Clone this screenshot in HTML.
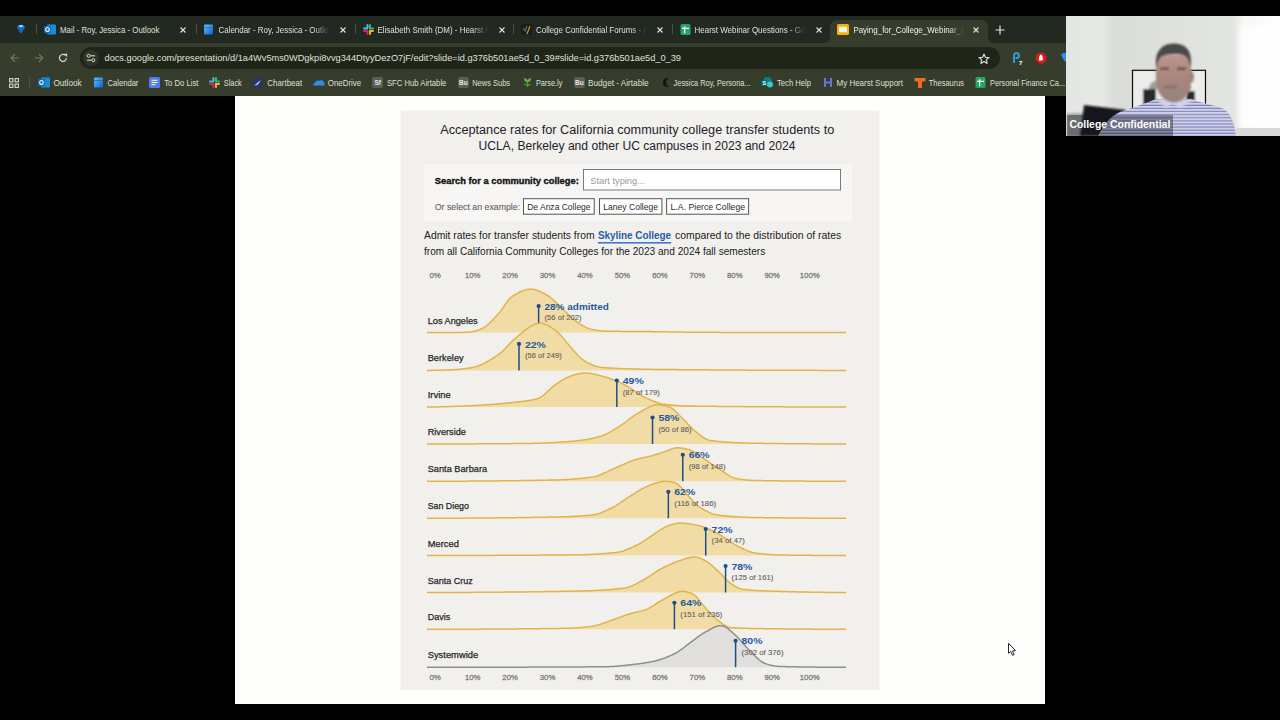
<!DOCTYPE html>
<html><head><meta charset="utf-8">
<style>
*{margin:0;padding:0;box-sizing:border-box}
html,body{width:1280px;height:720px;overflow:hidden;background:#000;font-family:"Liberation Sans",sans-serif;position:relative}
.abs{position:absolute}
.tabt{font-size:7.9px;line-height:12px;color:#d9dcd3;white-space:nowrap;overflow:hidden;-webkit-mask-image:linear-gradient(90deg,#000 88%,transparent)}
.bmt{font-size:8px;line-height:12px;color:#d9dcd3;white-space:nowrap}
svg text{font-family:"Liberation Sans",sans-serif}
</style></head><body>
<div class="abs" style="left:0;top:16px;width:1280px;height:27px;background:#222920"></div>
<div class="abs" style="left:830px;top:19.5px;width:158px;height:25px;background:#363d2c;border-radius:7px 7px 0 0"></div>
<div class="abs" style="left:824px;top:37px;width:6px;height:6px;background:#363d2c"></div>
<div class="abs" style="left:818px;top:31px;width:12px;height:12px;border-radius:6px;background:#222920"></div>
<div class="abs" style="left:988px;top:37px;width:6px;height:6px;background:#363d2c"></div>
<div class="abs" style="left:988px;top:31px;width:12px;height:12px;border-radius:6px;background:#222920"></div>
<div class="abs" style="left:0;top:43px;width:1280px;height:53px;background:#363d2c"></div>
<div class="abs" style="left:80px;top:46.8px;width:920px;height:22px;border-radius:11px;background:#1f2619"></div>
<svg class="abs" style="left:0;top:0" width="1280" height="100" viewBox="0 0 1280 100"><defs>
<linearGradient id="fade" x1="0" y1="0" x2="1" y2="0"><stop offset="0.86" stop-color="#fff"/><stop offset="1" stop-color="#fff" stop-opacity="0"/></linearGradient>
<mask id="m1" maskUnits="userSpaceOnUse" x="218.5" y="16" width="111" height="27"><rect x="218.5" y="16" width="111" height="27" fill="url(#fade)"/></mask>
<mask id="m2" maskUnits="userSpaceOnUse" x="377.5" y="16" width="111" height="27"><rect x="377.5" y="16" width="111" height="27" fill="url(#fade)"/></mask>
<mask id="m3" maskUnits="userSpaceOnUse" x="536" y="16" width="111" height="27"><rect x="536" y="16" width="111" height="27" fill="url(#fade)"/></mask>
<mask id="m4" maskUnits="userSpaceOnUse" x="694.6" y="16" width="111" height="27"><rect x="694.6" y="16" width="111" height="27" fill="url(#fade)"/></mask>
<mask id="m5" maskUnits="userSpaceOnUse" x="853.4" y="16" width="111" height="27"><rect x="853.4" y="16" width="111" height="27" fill="url(#fade)"/></mask>
</defs>
<text x="60" y="32.9" font-size="8.7" fill="#dde0d6" textLength="99.4" lengthAdjust="spacingAndGlyphs">Mail - Roy, Jessica - Outlook</text>
<g mask="url(#m1)"><text x="0" y="0" transform="translate(218.5,32.9) scale(0.915,1)" font-size="8.7" fill="#dde0d6">Calendar - Roy, Jessica - Outlook</text></g>
<g mask="url(#m2)"><text x="0" y="0" transform="translate(377.5,32.9) scale(0.915,1)" font-size="8.7" fill="#dde0d6">Elisabeth Smith (DM) - Hearst Newsroom</text></g>
<g mask="url(#m3)"><text x="0" y="0" transform="translate(536,32.9) scale(0.915,1)" font-size="8.7" fill="#dde0d6">College Confidential Forums - A</text></g>
<g mask="url(#m4)"><text x="0" y="0" transform="translate(694.6,32.9) scale(0.915,1)" font-size="8.7" fill="#dde0d6">Hearst Webinar Questions - Google</text></g>
<g mask="url(#m5)"><text x="0" y="0" transform="translate(853.4,32.9) scale(0.915,1)" font-size="8.7" fill="#eef0e8">Paying_for_College_Webinar_Slides</text></g>
<text x="104.5" y="61.3" font-size="9.1" fill="#dfe2d9" textLength="576.5" lengthAdjust="spacingAndGlyphs">docs.google.com/presentation/d/1a4Wv5ms0WDgkpi8vvg344DtyyDezO7jF/edit?slide=id.g376b501ae5d_0_39#slide=id.g376b501ae5d_0_39</text>
<text x="53.4" y="85.8" font-size="8.8" fill="#dde0d6" textLength="28.300000000000004" lengthAdjust="spacingAndGlyphs">Outlook</text>
<text x="107.5" y="85.8" font-size="8.8" fill="#dde0d6" textLength="30.900000000000006" lengthAdjust="spacingAndGlyphs">Calendar</text>
<text x="164.2" y="85.8" font-size="8.8" fill="#dde0d6" textLength="34.30000000000001" lengthAdjust="spacingAndGlyphs">To Do List</text>
<text x="223.8" y="85.8" font-size="8.8" fill="#dde0d6" textLength="18.0" lengthAdjust="spacingAndGlyphs">Slack</text>
<text x="267.3" y="85.8" font-size="8.8" fill="#dde0d6" textLength="34.80000000000001" lengthAdjust="spacingAndGlyphs">Chartbeat</text>
<text x="327.8" y="85.8" font-size="8.8" fill="#dde0d6" textLength="33.30000000000001" lengthAdjust="spacingAndGlyphs">OneDrive</text>
<text x="386.9" y="85.8" font-size="8.8" fill="#dde0d6" textLength="59.5" lengthAdjust="spacingAndGlyphs">SFC Hub Airtable</text>
<text x="472.2" y="85.8" font-size="8.8" fill="#dde0d6" textLength="37.900000000000034" lengthAdjust="spacingAndGlyphs">News Subs</text>
<text x="535.9" y="85.8" font-size="8.8" fill="#dde0d6" textLength="26.5" lengthAdjust="spacingAndGlyphs">Parse.ly</text>
<text x="588" y="85.8" font-size="8.8" fill="#dde0d6" textLength="60.60000000000002" lengthAdjust="spacingAndGlyphs">Budget - Airtable</text>
<text x="673.6" y="85.8" font-size="8.8" fill="#dde0d6" textLength="76.89999999999998" lengthAdjust="spacingAndGlyphs">Jessica Roy, Persona...</text>
<text x="777" y="85.8" font-size="8.8" fill="#dde0d6" textLength="34" lengthAdjust="spacingAndGlyphs">Tech Help</text>
<text x="836.6" y="85.8" font-size="8.8" fill="#dde0d6" textLength="66.39999999999998" lengthAdjust="spacingAndGlyphs">My Hearst Support</text>
<text x="928.8" y="85.8" font-size="8.8" fill="#dde0d6" textLength="35.30000000000007" lengthAdjust="spacingAndGlyphs">Thesaurus</text>
<text x="990" y="85.8" font-size="8.8" fill="#dde0d6" textLength="75" lengthAdjust="spacingAndGlyphs">Personal Finance Ca...</text>
</svg>
<svg class="abs" style="left:16px;top:24px" width="10" height="10" viewBox="0 0 10 10"><path d="M1 3.2 L3 1 L7 1 L9 3.2 L5 9.5 Z" fill="#2f8ff0"/><path d="M1 3.2 L9 3.2 L5 9.5Z" fill="#1565c0"/><path d="M3 1 L7 1 L6 3.2 L4 3.2Z" fill="#9fd4ff"/></svg>
<div class="abs" style="left:36px;top:24px;width:1px;height:10px;background:#4a4f42"></div>
<svg class="abs" style="left:43.5px;top:23.5px" width="12" height="11" viewBox="0 0 12 11"><rect x="3" y="0.5" width="9" height="10" rx="1" fill="#1b8bd6"/><rect x="0" y="2" width="7" height="7" rx="1" fill="#0f6cbd"/><ellipse cx="3.5" cy="5.5" rx="1.8" ry="2" fill="none" stroke="#fff" stroke-width="1.1"/></svg>
<svg class="abs" style="left:178.5px;top:25.8px" width="8" height="8" viewBox="0 0 8 8"><path d="M1.5 1.5L6.5 6.5M6.5 1.5L1.5 6.5" stroke="#e2e4dc" stroke-width="1.1"/></svg>
<div class="abs" style="left:196px;top:24px;width:1px;height:10px;background:#4a4f42"></div>
<svg class="abs" style="left:203.5px;top:23.5px" width="9" height="11" viewBox="0 0 9 11"><defs><linearGradient id="calg" x1="0" y1="0" x2="1" y2="1"><stop offset="0" stop-color="#5fc3ff"/><stop offset="1" stop-color="#0a5fcf"/></linearGradient></defs><rect x="0" y="0.5" width="9" height="10" rx="1.2" fill="url(#calg)"/><rect x="0" y="3" width="9" height="0.8" fill="#0b4a9a" opacity="0.6"/></svg>
<svg class="abs" style="left:338.5px;top:25.8px" width="8" height="8" viewBox="0 0 8 8"><path d="M1.5 1.5L6.5 6.5M6.5 1.5L1.5 6.5" stroke="#e2e4dc" stroke-width="1.1"/></svg>
<div class="abs" style="left:355px;top:24px;width:1px;height:10px;background:#4a4f42"></div>
<svg class="abs" style="left:362.5px;top:23.5px" width="11" height="11" viewBox="0 0 11 11"><rect x="3.5" y="0" width="2" height="5" rx="1" fill="#36c5f0"/><rect x="0" y="3.5" width="5" height="2" rx="1" fill="#36c5f0"/><rect x="6" y="0" width="2" height="5" rx="1" fill="#2eb67d"/><rect x="6" y="3.5" width="5" height="2" rx="1" fill="#2eb67d"/><rect x="6" y="6" width="2" height="5" rx="1" fill="#ecb22e"/><rect x="6" y="6" width="5" height="2" rx="1" fill="#ecb22e"/><rect x="3.5" y="6" width="2" height="5" rx="1" fill="#e01e5a"/><rect x="0" y="6" width="5" height="2" rx="1" fill="#e01e5a"/></svg>
<svg class="abs" style="left:497.5px;top:25.8px" width="8" height="8" viewBox="0 0 8 8"><path d="M1.5 1.5L6.5 6.5M6.5 1.5L1.5 6.5" stroke="#e2e4dc" stroke-width="1.1"/></svg>
<div class="abs" style="left:513px;top:24px;width:1px;height:10px;background:#4a4f42"></div>
<svg class="abs" style="left:520.5px;top:23.5px" width="11" height="11" viewBox="0 0 11 11"><rect x="0" y="0" width="11" height="11" fill="#1a1c18"/><path d="M2 4 L4 7 L6 2" stroke="#6b6b60" stroke-width="1.2" fill="none"/><path d="M9 2 L6 10" stroke="#c9a227" stroke-width="1.2"/></svg>
<svg class="abs" style="left:655.5px;top:25.8px" width="8" height="8" viewBox="0 0 8 8"><path d="M1.5 1.5L6.5 6.5M6.5 1.5L1.5 6.5" stroke="#e2e4dc" stroke-width="1.1"/></svg>
<div class="abs" style="left:672px;top:24px;width:1px;height:10px;background:#4a4f42"></div>
<svg class="abs" style="left:679.5px;top:23.5px" width="11" height="11" viewBox="0 0 11 11"><rect x="0.5" y="0" width="10" height="11" rx="1.5" fill="#23a566"/><path d="M2 4.3H9M4.6 2.2V9.2" stroke="#fff" stroke-width="1.3"/></svg>
<svg class="abs" style="left:814.5px;top:25.8px" width="8" height="8" viewBox="0 0 8 8"><path d="M1.5 1.5L6.5 6.5M6.5 1.5L1.5 6.5" stroke="#e2e4dc" stroke-width="1.1"/></svg>
<svg class="abs" style="left:836.5px;top:23.5px" width="12" height="11" viewBox="0 0 12 11"><rect x="0" y="0" width="12" height="11" rx="1.5" fill="#f6b400"/><rect x="2" y="2.8" width="8" height="5.4" rx="0.5" fill="#e8f4fb"/></svg>
<svg class="abs" style="left:972px;top:25.8px" width="8" height="8" viewBox="0 0 8 8"><path d="M1.5 1.5L6.5 6.5M6.5 1.5L1.5 6.5" stroke="#e2e4dc" stroke-width="1.1"/></svg>
<svg class="abs" style="left:995px;top:25px" width="10" height="10" viewBox="0 0 10 10"><path d="M5 0.5V9.5M0.5 5H9.5" stroke="#e2e4dc" stroke-width="1.2"/></svg>
<svg class="abs" style="left:10px;top:53px" width="10" height="10" viewBox="0 0 10 10"><path d="M9 5H1.5M5 1.2L1.2 5L5 8.8" stroke="#767b6c" stroke-width="1.1" fill="none"/></svg>
<svg class="abs" style="left:34px;top:53px" width="10" height="10" viewBox="0 0 10 10"><path d="M1 5H8.5M5 1.2L8.8 5L5 8.8" stroke="#767b6c" stroke-width="1.1" fill="none"/></svg>
<svg class="abs" style="left:58px;top:53px" width="10" height="10" viewBox="0 0 10 10"><path d="M8.4 5A3.5 3.5 0 1 1 7.2 2.3" stroke="#d6d9d0" stroke-width="1.2" fill="none"/><path d="M5.8 0.8L9.2 0.8V4.2Z" fill="#d6d9d0"/></svg>
<div class="abs" style="left:83px;top:49.8px;width:16px;height:16px;border-radius:8px;background:#30352a"></div>
<svg class="abs" style="left:86px;top:53px" width="10" height="10" viewBox="0 0 10 10"><circle cx="2.6" cy="2.8" r="1.5" stroke="#d6d9d0" stroke-width="1" fill="none"/><path d="M4.3 2.8H9" stroke="#d6d9d0" stroke-width="1.1"/><circle cx="7.3" cy="7.2" r="1.5" stroke="#d6d9d0" stroke-width="1" fill="none"/><path d="M1 7.2H5.6" stroke="#d6d9d0" stroke-width="1.1"/></svg>
<svg class="abs" style="left:978px;top:52.5px" width="12" height="12" viewBox="0 0 12 12"><path d="M6 1L7.4 4.3L11 4.6L8.3 6.9L9.1 10.5L6 8.6L2.9 10.5L3.7 6.9L1 4.6L4.6 4.3Z" stroke="#d6d9d0" stroke-width="1.2" fill="none" stroke-linejoin="round"/></svg>
<svg class="abs" style="left:1012px;top:52px" width="12" height="13" viewBox="0 0 12 13"><path d="M2 11V3.5A2.5 2.5 0 0 1 7 3.5A2.5 2.5 0 0 1 4.5 6H3.5" stroke="#2d9cdb" stroke-width="2" fill="none"/><text x="7" y="12.5" font-size="6" font-weight="bold" fill="#fff" font-family="Liberation Sans">7</text></svg>
<svg class="abs" style="left:1035px;top:52px" width="12" height="12" viewBox="0 0 12 12"><circle cx="6" cy="6" r="5.5" fill="#d81b1b"/><path d="M4 8.5C3.5 6 4.5 3 6 2.5C7.5 3.5 8.5 6 7.5 8.5Z" fill="#fff"/></svg>
<svg class="abs" style="left:1060px;top:52px" width="10" height="12" viewBox="0 0 10 12"><path d="M1 3L3 1H7L9 3L5 10Z" fill="#2f8ff0"/></svg>
<svg class="abs" style="left:8.5px;top:77.5px" width="10" height="10" viewBox="0 0 10 10"><rect x="0.6" y="0.6" width="3.3" height="3.3" stroke="#d6d9d0" stroke-width="1.1" fill="none"/><rect x="6.1" y="0.6" width="3.3" height="3.3" stroke="#d6d9d0" stroke-width="1.1" fill="none"/><rect x="0.6" y="6.1" width="3.3" height="3.3" stroke="#d6d9d0" stroke-width="1.1" fill="none"/><rect x="6.1" y="6.1" width="3.3" height="3.3" stroke="#d6d9d0" stroke-width="1.1" fill="none"/></svg>
<div class="abs" style="left:28.5px;top:77px;width:1px;height:11px;background:#4d5245"></div>
<svg class="abs" style="left:38.3px;top:77px" width="12" height="11" viewBox="0 0 12 11"><rect x="3" y="0.5" width="9" height="10" rx="1" fill="#1b8bd6"/><rect x="0" y="2" width="7" height="7" rx="1" fill="#0f6cbd"/><ellipse cx="3.5" cy="5.5" rx="1.8" ry="2" fill="none" stroke="#fff" stroke-width="1.1"/></svg>
<svg class="abs" style="left:93.5px;top:77px" width="9" height="11" viewBox="0 0 9 11"><defs><linearGradient id="calg" x1="0" y1="0" x2="1" y2="1"><stop offset="0" stop-color="#5fc3ff"/><stop offset="1" stop-color="#0a5fcf"/></linearGradient></defs><rect x="0" y="0.5" width="9" height="10" rx="1.2" fill="url(#calg)"/><rect x="0" y="3" width="9" height="0.8" fill="#0b4a9a" opacity="0.6"/></svg>
<svg class="abs" style="left:148.75px;top:77px" width="11" height="11" viewBox="0 0 11 11"><rect x="0" y="0" width="11" height="11" rx="1.5" fill="#4f7df0"/><rect x="2.5" y="2.8" width="6" height="1" fill="#fff"/><rect x="2.5" y="5" width="6" height="1" fill="#fff"/><rect x="2.5" y="7.2" width="4" height="1" fill="#fff"/></svg>
<svg class="abs" style="left:208.9px;top:77px" width="11" height="11" viewBox="0 0 11 11"><rect x="3.5" y="0" width="2" height="5" rx="1" fill="#36c5f0"/><rect x="0" y="3.5" width="5" height="2" rx="1" fill="#36c5f0"/><rect x="6" y="0" width="2" height="5" rx="1" fill="#2eb67d"/><rect x="6" y="3.5" width="5" height="2" rx="1" fill="#2eb67d"/><rect x="6" y="6" width="2" height="5" rx="1" fill="#ecb22e"/><rect x="6" y="6" width="5" height="2" rx="1" fill="#ecb22e"/><rect x="3.5" y="6" width="2" height="5" rx="1" fill="#e01e5a"/><rect x="0" y="6" width="5" height="2" rx="1" fill="#e01e5a"/></svg>
<svg class="abs" style="left:252px;top:77px" width="11" height="11" viewBox="0 0 11 11"><circle cx="5.5" cy="5.5" r="5.3" fill="#243566"/><path d="M2.2 8.2L9 3L6.5 6.8Z" fill="#c9dcff"/><path d="M2.2 8.2L6.5 6.8L5 8.8Z" fill="#7fa4e8"/></svg>
<svg class="abs" style="left:312.9px;top:77px" width="12" height="11" viewBox="0 0 12 11"><path d="M1 8.5C0 8.5 0 6 2 6C2.5 4 4.5 3 6.5 4C8 2.5 11 3.5 11 6C12 6.5 12 8.5 10.5 8.5Z" fill="#2e8fe8"/></svg>
<div class="abs" style="left:372.2px;top:77px;width:11px;height:11px;border-radius:2px;background:#5a5e57;color:#e8eae4;font-size:6.5px;font-weight:bold;line-height:11px;text-align:center">Sf</div>
<div class="abs" style="left:457.8px;top:77px;width:11px;height:11px;border-radius:2px;background:#5a5e57;color:#e8eae4;font-size:6.5px;font-weight:bold;line-height:11px;text-align:center">Bu</div>
<svg class="abs" style="left:521.7px;top:77px" width="11" height="11" viewBox="0 0 11 11"><path d="M5.5 10V5M5.5 5C3 5 2 3 2.5 1.5C4.5 1.5 5.5 3 5.5 5ZM5.5 5C8 5 9 3 8.5 1.5C6.5 1.5 5.5 3 5.5 5Z" fill="#5fae4a" stroke="#5fae4a" stroke-width="0.8"/><path d="M5.5 9C3.5 9 2 8 2 6.5C4 6.5 5.5 7.5 5.5 9ZM5.5 9C7.5 9 9 8 9 6.5C7 6.5 5.5 7.5 5.5 9Z" fill="#4b9a3a"/></svg>
<div class="abs" style="left:573.8px;top:77px;width:11px;height:11px;border-radius:2px;background:#5a5e57;color:#e8eae4;font-size:6.5px;font-weight:bold;line-height:11px;text-align:center">Bu</div>
<svg class="abs" style="left:661.5px;top:77px" width="9" height="11" viewBox="0 0 9 11"><path d="M7.5 1.5A4.5 4.5 0 1 0 7.5 9.5A3.5 4 0 1 1 7.5 1.5Z" fill="#111"/></svg>
<svg class="abs" style="left:761.3px;top:77px" width="12" height="11" viewBox="0 0 12 11"><circle cx="6.5" cy="4.5" r="4.5" fill="#038387"/><circle cx="9" cy="7.5" r="3" fill="#37c6d0"/><rect x="0" y="3" width="6" height="6" rx="1" fill="#036c70"/><text x="1.5" y="8" font-size="5.5" font-weight="bold" fill="#fff" font-family="Liberation Sans">S</text></svg>
<svg class="abs" style="left:824px;top:77px" width="8" height="11" viewBox="0 0 8 11"><path d="M1 1V10M7 1V10M1 5.5H7" stroke="#5b7ad6" stroke-width="2"/></svg>
<svg class="abs" style="left:913.75px;top:77px" width="12" height="11" viewBox="0 0 12 11"><path d="M0.5 1H11.5V4.5H8V11H4V4.5H0.5Z" fill="#f26a1b"/></svg>
<svg class="abs" style="left:975.3px;top:77px" width="11" height="11" viewBox="0 0 11 11"><rect x="0.5" y="0" width="10" height="11" rx="1.5" fill="#23a566"/><path d="M2 4.3H9M4.6 2.2V9.2" stroke="#fff" stroke-width="1.3"/></svg>
<svg class="abs" style="left:0;top:0" width="1280" height="720" viewBox="0 0 1280 720">
<rect x="235" y="96" width="810" height="608" rx="0" fill="#fefefd" />
<rect x="400.5" y="110.5" width="479" height="579.5" rx="0" fill="#f2f0ed" />
<rect x="424" y="164" width="428" height="57.5" rx="0" fill="#f7f6f4" />
<text x="440.3" y="133.6" font-size="12.3" font-weight="400" fill="#22222c" textLength="394" lengthAdjust="spacingAndGlyphs" >Acceptance rates for California community college transfer students to</text>
<text x="478.4" y="150.2" font-size="12.3" font-weight="400" fill="#22222c" textLength="317" lengthAdjust="spacingAndGlyphs" >UCLA, Berkeley and other UC campuses in 2023 and 2024</text>
<text x="434.8" y="183.6" font-size="9.3" font-weight="700" fill="#111" textLength="144" lengthAdjust="spacingAndGlyphs"  stroke="#111" stroke-width="0.35">Search for a community college:</text>
<rect x="583.5" y="169.5" width="257" height="20.5" rx="0" fill="#ffffff" stroke="#7a7a7a" stroke-width="1"/>
<text x="590.3" y="184" font-size="9.2" font-weight="400" fill="#9a9a9a" textLength="54.6" lengthAdjust="spacingAndGlyphs" >Start typing...</text>
<text x="434.8" y="210" font-size="8.8" font-weight="400" fill="#5f5f5f" textLength="85.3" lengthAdjust="spacingAndGlyphs"  stroke="#5f5f5f" stroke-width="0.1">Or select an example:</text>
<rect x="523.5" y="198.7" width="70.70000000000005" height="15.5" rx="0" fill="#ffffff" stroke="#555" stroke-width="1"/>
<text x="527.2" y="209.7" font-size="8.8" font-weight="400" fill="#2a2a2a" textLength="63.39999999999998" lengthAdjust="spacingAndGlyphs" >De Anza College</text>
<rect x="599.5" y="198.7" width="62.39999999999998" height="15.5" rx="0" fill="#ffffff" stroke="#555" stroke-width="1"/>
<text x="603.3" y="209.7" font-size="8.8" font-weight="400" fill="#2a2a2a" textLength="54.700000000000045" lengthAdjust="spacingAndGlyphs" >Laney College</text>
<rect x="666.6" y="198.7" width="82.0" height="15.5" rx="0" fill="#ffffff" stroke="#555" stroke-width="1"/>
<text x="670.6" y="209.7" font-size="8.8" font-weight="400" fill="#2a2a2a" textLength="74.5" lengthAdjust="spacingAndGlyphs" >L.A. Pierce College</text>
<text x="424" y="238.9" font-size="10.2" font-weight="400" fill="#222" textLength="170.5" lengthAdjust="spacingAndGlyphs" >Admit rates for transfer students from</text>
<text x="597.9" y="238.9" font-size="10" font-weight="700" fill="#1f5fa8" textLength="73.2" lengthAdjust="spacingAndGlyphs" >Skyline College</text>
<rect x="597.9" y="242" width="73.2" height="1.6" rx="0" fill="#3b7bd0" />
<text x="675" y="238.9" font-size="10.2" font-weight="400" fill="#222" textLength="166.2" lengthAdjust="spacingAndGlyphs" >compared to the distribution of rates</text>
<text x="424" y="255.3" font-size="10.2" font-weight="400" fill="#222" textLength="341.2" lengthAdjust="spacingAndGlyphs" >from all California Community Colleges for the 2023 and 2024 fall semesters</text>
<text x="435.2" y="278.2" font-size="7.6" font-weight="400" fill="#7e7e7e" textLength="11.5" lengthAdjust="spacingAndGlyphs" text-anchor="middle"  stroke="#7e7e7e" stroke-width="0.3">0%</text>
<text x="435.2" y="679.5" font-size="7.6" font-weight="400" fill="#7e7e7e" textLength="11.5" lengthAdjust="spacingAndGlyphs" text-anchor="middle"  stroke="#7e7e7e" stroke-width="0.3">0%</text>
<text x="472.65" y="278.2" font-size="7.6" font-weight="400" fill="#7e7e7e" textLength="15.5" lengthAdjust="spacingAndGlyphs" text-anchor="middle"  stroke="#7e7e7e" stroke-width="0.3">10%</text>
<text x="472.65" y="679.5" font-size="7.6" font-weight="400" fill="#7e7e7e" textLength="15.5" lengthAdjust="spacingAndGlyphs" text-anchor="middle"  stroke="#7e7e7e" stroke-width="0.3">10%</text>
<text x="510.1" y="278.2" font-size="7.6" font-weight="400" fill="#7e7e7e" textLength="15.5" lengthAdjust="spacingAndGlyphs" text-anchor="middle"  stroke="#7e7e7e" stroke-width="0.3">20%</text>
<text x="510.1" y="679.5" font-size="7.6" font-weight="400" fill="#7e7e7e" textLength="15.5" lengthAdjust="spacingAndGlyphs" text-anchor="middle"  stroke="#7e7e7e" stroke-width="0.3">20%</text>
<text x="547.55" y="278.2" font-size="7.6" font-weight="400" fill="#7e7e7e" textLength="15.5" lengthAdjust="spacingAndGlyphs" text-anchor="middle"  stroke="#7e7e7e" stroke-width="0.3">30%</text>
<text x="547.55" y="679.5" font-size="7.6" font-weight="400" fill="#7e7e7e" textLength="15.5" lengthAdjust="spacingAndGlyphs" text-anchor="middle"  stroke="#7e7e7e" stroke-width="0.3">30%</text>
<text x="585.0" y="278.2" font-size="7.6" font-weight="400" fill="#7e7e7e" textLength="15.5" lengthAdjust="spacingAndGlyphs" text-anchor="middle"  stroke="#7e7e7e" stroke-width="0.3">40%</text>
<text x="585.0" y="679.5" font-size="7.6" font-weight="400" fill="#7e7e7e" textLength="15.5" lengthAdjust="spacingAndGlyphs" text-anchor="middle"  stroke="#7e7e7e" stroke-width="0.3">40%</text>
<text x="622.45" y="278.2" font-size="7.6" font-weight="400" fill="#7e7e7e" textLength="15.5" lengthAdjust="spacingAndGlyphs" text-anchor="middle"  stroke="#7e7e7e" stroke-width="0.3">50%</text>
<text x="622.45" y="679.5" font-size="7.6" font-weight="400" fill="#7e7e7e" textLength="15.5" lengthAdjust="spacingAndGlyphs" text-anchor="middle"  stroke="#7e7e7e" stroke-width="0.3">50%</text>
<text x="659.9" y="278.2" font-size="7.6" font-weight="400" fill="#7e7e7e" textLength="15.5" lengthAdjust="spacingAndGlyphs" text-anchor="middle"  stroke="#7e7e7e" stroke-width="0.3">60%</text>
<text x="659.9" y="679.5" font-size="7.6" font-weight="400" fill="#7e7e7e" textLength="15.5" lengthAdjust="spacingAndGlyphs" text-anchor="middle"  stroke="#7e7e7e" stroke-width="0.3">60%</text>
<text x="697.35" y="278.2" font-size="7.6" font-weight="400" fill="#7e7e7e" textLength="15.5" lengthAdjust="spacingAndGlyphs" text-anchor="middle"  stroke="#7e7e7e" stroke-width="0.3">70%</text>
<text x="697.35" y="679.5" font-size="7.6" font-weight="400" fill="#7e7e7e" textLength="15.5" lengthAdjust="spacingAndGlyphs" text-anchor="middle"  stroke="#7e7e7e" stroke-width="0.3">70%</text>
<text x="734.8" y="278.2" font-size="7.6" font-weight="400" fill="#7e7e7e" textLength="15.5" lengthAdjust="spacingAndGlyphs" text-anchor="middle"  stroke="#7e7e7e" stroke-width="0.3">80%</text>
<text x="734.8" y="679.5" font-size="7.6" font-weight="400" fill="#7e7e7e" textLength="15.5" lengthAdjust="spacingAndGlyphs" text-anchor="middle"  stroke="#7e7e7e" stroke-width="0.3">80%</text>
<text x="772.25" y="278.2" font-size="7.6" font-weight="400" fill="#7e7e7e" textLength="15.5" lengthAdjust="spacingAndGlyphs" text-anchor="middle"  stroke="#7e7e7e" stroke-width="0.3">90%</text>
<text x="772.25" y="679.5" font-size="7.6" font-weight="400" fill="#7e7e7e" textLength="15.5" lengthAdjust="spacingAndGlyphs" text-anchor="middle"  stroke="#7e7e7e" stroke-width="0.3">90%</text>
<text x="809.7" y="278.2" font-size="7.6" font-weight="400" fill="#7e7e7e" textLength="20" lengthAdjust="spacingAndGlyphs" text-anchor="middle"  stroke="#7e7e7e" stroke-width="0.3">100%</text>
<text x="809.7" y="679.5" font-size="7.6" font-weight="400" fill="#7e7e7e" textLength="20" lengthAdjust="spacingAndGlyphs" text-anchor="middle"  stroke="#7e7e7e" stroke-width="0.3">100%</text>
<path d="M427.0,332.60 L428.0,332.60 L429.0,332.60 L430.0,332.60 L431.0,332.60 L432.0,332.60 L433.0,332.59 L434.0,332.59 L435.0,332.59 L436.0,332.59 L437.0,332.59 L438.0,332.58 L439.0,332.58 L440.0,332.58 L441.0,332.57 L442.0,332.57 L443.0,332.56 L444.0,332.56 L445.0,332.55 L446.0,332.55 L447.0,332.54 L448.0,332.53 L449.0,332.53 L450.0,332.52 L451.0,332.51 L452.0,332.50 L453.0,332.49 L454.0,332.48 L455.0,332.47 L456.0,332.46 L457.0,332.45 L458.0,332.44 L459.0,332.43 L460.0,332.42 L461.0,332.40 L462.0,332.39 L463.0,332.38 L464.0,332.36 L465.0,332.35 L466.0,332.33 L467.0,332.30 L468.0,332.26 L469.0,332.20 L470.0,332.10 L471.0,331.96 L472.0,331.79 L473.0,331.58 L474.0,331.34 L475.0,331.06 L476.0,330.76 L477.0,330.44 L478.0,330.09 L479.0,329.73 L480.0,329.35 L481.0,328.94 L482.0,328.48 L483.0,327.97 L484.0,327.40 L485.0,326.76 L486.0,326.05 L487.0,325.28 L488.0,324.45 L489.0,323.57 L490.0,322.65 L491.0,321.68 L492.0,320.67 L493.0,319.64 L494.0,318.58 L495.0,317.50 L496.0,316.41 L497.0,315.31 L498.0,314.19 L499.0,313.06 L500.0,311.87 L501.0,310.62 L502.0,309.29 L503.0,307.87 L504.0,306.39 L505.0,304.88 L506.0,303.38 L507.0,301.94 L508.0,300.59 L509.0,299.38 L510.0,298.32 L511.0,297.41 L512.0,296.63 L513.0,295.94 L514.0,295.30 L515.0,294.69 L516.0,294.11 L517.0,293.55 L518.0,293.01 L519.0,292.50 L520.0,292.01 L521.0,291.56 L522.0,291.14 L523.0,290.75 L524.0,290.40 L525.0,290.09 L526.0,289.82 L527.0,289.60 L528.0,289.42 L529.0,289.29 L530.0,289.22 L531.0,289.20 L532.0,289.24 L533.0,289.34 L534.0,289.50 L535.0,289.72 L536.0,289.99 L537.0,290.31 L538.0,290.68 L539.0,291.08 L540.0,291.51 L541.0,291.97 L542.0,292.46 L543.0,292.96 L544.0,293.48 L545.0,294.01 L546.0,294.55 L547.0,295.13 L548.0,295.75 L549.0,296.43 L550.0,297.17 L551.0,297.97 L552.0,298.82 L553.0,299.72 L554.0,300.65 L555.0,301.61 L556.0,302.57 L557.0,303.54 L558.0,304.50 L559.0,305.45 L560.0,306.40 L561.0,307.35 L562.0,308.30 L563.0,309.27 L564.0,310.26 L565.0,311.25 L566.0,312.25 L567.0,313.25 L568.0,314.24 L569.0,315.21 L570.0,316.15 L571.0,317.07 L572.0,317.95 L573.0,318.79 L574.0,319.59 L575.0,320.35 L576.0,321.09 L577.0,321.80 L578.0,322.50 L579.0,323.18 L580.0,323.86 L581.0,324.51 L582.0,325.14 L583.0,325.74 L584.0,326.31 L585.0,326.84 L586.0,327.33 L587.0,327.78 L588.0,328.18 L589.0,328.53 L590.0,328.85 L591.0,329.13 L592.0,329.38 L593.0,329.62 L594.0,329.85 L595.0,330.06 L596.0,330.26 L597.0,330.44 L598.0,330.60 L599.0,330.74 L600.0,330.86 L601.0,330.95 L602.0,331.02 L603.0,331.08 L604.0,331.11 L605.0,331.14 L606.0,331.16 L607.0,331.19 L608.0,331.20 L609.0,331.22 L610.0,331.24 L611.0,331.26 L612.0,331.27 L613.0,331.29 L614.0,331.30 L615.0,331.31 L616.0,331.32 L617.0,331.34 L618.0,331.35 L619.0,331.36 L620.0,331.37 L621.0,331.38 L622.0,331.39 L623.0,331.39 L624.0,331.40 L625.0,331.41 L626.0,331.42 L627.0,331.42 L628.0,331.43 L629.0,331.44 L630.0,331.44 L631.0,331.45 L632.0,331.46 L633.0,331.46 L634.0,331.47 L635.0,331.47 L636.0,331.48 L637.0,331.49 L638.0,331.49 L639.0,331.50 L640.0,331.51 L641.0,331.51 L642.0,331.52 L643.0,331.53 L644.0,331.54 L645.0,331.55 L646.0,331.56 L647.0,331.57 L648.0,331.58 L649.0,331.59 L650.0,331.60 L651.0,331.61 L652.0,331.63 L653.0,331.64 L654.0,331.65 L655.0,331.67 L656.0,331.68 L657.0,331.70 L658.0,331.71 L659.0,331.73 L660.0,331.74 L661.0,331.76 L662.0,331.78 L663.0,331.79 L664.0,331.81 L665.0,331.83 L666.0,331.84 L667.0,331.86 L668.0,331.88 L669.0,331.90 L670.0,331.91 L671.0,331.93 L672.0,331.95 L673.0,331.97 L674.0,331.98 L675.0,332.00 L676.0,332.02 L677.0,332.03 L678.0,332.05 L679.0,332.07 L680.0,332.08 L681.0,332.10 L682.0,332.11 L683.0,332.13 L684.0,332.14 L685.0,332.16 L686.0,332.17 L687.0,332.18 L688.0,332.20 L689.0,332.21 L690.0,332.22 L691.0,332.23 L692.0,332.24 L693.0,332.25 L694.0,332.26 L695.0,332.27 L696.0,332.28 L697.0,332.28 L698.0,332.29 L699.0,332.29 L700.0,332.30 L701.0,332.30 L702.0,332.31 L703.0,332.31 L704.0,332.32 L705.0,332.32 L706.0,332.32 L707.0,332.33 L708.0,332.33 L709.0,332.34 L710.0,332.34 L711.0,332.34 L712.0,332.35 L713.0,332.35 L714.0,332.35 L715.0,332.36 L716.0,332.36 L717.0,332.37 L718.0,332.37 L719.0,332.37 L720.0,332.38 L721.0,332.38 L722.0,332.38 L723.0,332.39 L724.0,332.39 L725.0,332.39 L726.0,332.40 L727.0,332.40 L728.0,332.40 L729.0,332.41 L730.0,332.41 L731.0,332.41 L732.0,332.42 L733.0,332.42 L734.0,332.42 L735.0,332.43 L736.0,332.43 L737.0,332.43 L738.0,332.43 L739.0,332.44 L740.0,332.44 L741.0,332.44 L742.0,332.45 L743.0,332.45 L744.0,332.45 L745.0,332.46 L746.0,332.46 L747.0,332.46 L748.0,332.46 L749.0,332.47 L750.0,332.47 L751.0,332.47 L752.0,332.47 L753.0,332.48 L754.0,332.48 L755.0,332.48 L756.0,332.48 L757.0,332.49 L758.0,332.49 L759.0,332.49 L760.0,332.49 L761.0,332.50 L762.0,332.50 L763.0,332.50 L764.0,332.50 L765.0,332.51 L766.0,332.51 L767.0,332.51 L768.0,332.51 L769.0,332.52 L770.0,332.52 L771.0,332.52 L772.0,332.52 L773.0,332.52 L774.0,332.53 L775.0,332.53 L776.0,332.53 L777.0,332.53 L778.0,332.53 L779.0,332.54 L780.0,332.54 L781.0,332.54 L782.0,332.54 L783.0,332.54 L784.0,332.54 L785.0,332.55 L786.0,332.55 L787.0,332.55 L788.0,332.55 L789.0,332.55 L790.0,332.55 L791.0,332.56 L792.0,332.56 L793.0,332.56 L794.0,332.56 L795.0,332.56 L796.0,332.56 L797.0,332.57 L798.0,332.57 L799.0,332.57 L800.0,332.57 L801.0,332.57 L802.0,332.57 L803.0,332.57 L804.0,332.57 L805.0,332.58 L806.0,332.58 L807.0,332.58 L808.0,332.58 L809.0,332.58 L810.0,332.58 L811.0,332.58 L812.0,332.58 L813.0,332.58 L814.0,332.58 L815.0,332.59 L816.0,332.59 L817.0,332.59 L818.0,332.59 L819.0,332.59 L820.0,332.59 L821.0,332.59 L822.0,332.59 L823.0,332.59 L824.0,332.59 L825.0,332.59 L826.0,332.59 L827.0,332.59 L828.0,332.60 L829.0,332.60 L830.0,332.60 L831.0,332.60 L832.0,332.60 L833.0,332.60 L834.0,332.60 L835.0,332.60 L836.0,332.60 L837.0,332.60 L838.0,332.60 L839.0,332.60 L840.0,332.60 L841.0,332.60 L842.0,332.60 L843.0,332.60 L844.0,332.60 L845.0,332.60 L846.0,332.60 L846.7,332.6 L427,332.6 Z" fill="#f1dca6"/>
<path d="M427.0,332.60 L428.0,332.60 L429.0,332.60 L430.0,332.60 L431.0,332.60 L432.0,332.60 L433.0,332.59 L434.0,332.59 L435.0,332.59 L436.0,332.59 L437.0,332.59 L438.0,332.58 L439.0,332.58 L440.0,332.58 L441.0,332.57 L442.0,332.57 L443.0,332.56 L444.0,332.56 L445.0,332.55 L446.0,332.55 L447.0,332.54 L448.0,332.53 L449.0,332.53 L450.0,332.52 L451.0,332.51 L452.0,332.50 L453.0,332.49 L454.0,332.48 L455.0,332.47 L456.0,332.46 L457.0,332.45 L458.0,332.44 L459.0,332.43 L460.0,332.42 L461.0,332.40 L462.0,332.39 L463.0,332.38 L464.0,332.36 L465.0,332.35 L466.0,332.33 L467.0,332.30 L468.0,332.26 L469.0,332.20 L470.0,332.10 L471.0,331.96 L472.0,331.79 L473.0,331.58 L474.0,331.34 L475.0,331.06 L476.0,330.76 L477.0,330.44 L478.0,330.09 L479.0,329.73 L480.0,329.35 L481.0,328.94 L482.0,328.48 L483.0,327.97 L484.0,327.40 L485.0,326.76 L486.0,326.05 L487.0,325.28 L488.0,324.45 L489.0,323.57 L490.0,322.65 L491.0,321.68 L492.0,320.67 L493.0,319.64 L494.0,318.58 L495.0,317.50 L496.0,316.41 L497.0,315.31 L498.0,314.19 L499.0,313.06 L500.0,311.87 L501.0,310.62 L502.0,309.29 L503.0,307.87 L504.0,306.39 L505.0,304.88 L506.0,303.38 L507.0,301.94 L508.0,300.59 L509.0,299.38 L510.0,298.32 L511.0,297.41 L512.0,296.63 L513.0,295.94 L514.0,295.30 L515.0,294.69 L516.0,294.11 L517.0,293.55 L518.0,293.01 L519.0,292.50 L520.0,292.01 L521.0,291.56 L522.0,291.14 L523.0,290.75 L524.0,290.40 L525.0,290.09 L526.0,289.82 L527.0,289.60 L528.0,289.42 L529.0,289.29 L530.0,289.22 L531.0,289.20 L532.0,289.24 L533.0,289.34 L534.0,289.50 L535.0,289.72 L536.0,289.99 L537.0,290.31 L538.0,290.68 L539.0,291.08 L540.0,291.51 L541.0,291.97 L542.0,292.46 L543.0,292.96 L544.0,293.48 L545.0,294.01 L546.0,294.55 L547.0,295.13 L548.0,295.75 L549.0,296.43 L550.0,297.17 L551.0,297.97 L552.0,298.82 L553.0,299.72 L554.0,300.65 L555.0,301.61 L556.0,302.57 L557.0,303.54 L558.0,304.50 L559.0,305.45 L560.0,306.40 L561.0,307.35 L562.0,308.30 L563.0,309.27 L564.0,310.26 L565.0,311.25 L566.0,312.25 L567.0,313.25 L568.0,314.24 L569.0,315.21 L570.0,316.15 L571.0,317.07 L572.0,317.95 L573.0,318.79 L574.0,319.59 L575.0,320.35 L576.0,321.09 L577.0,321.80 L578.0,322.50 L579.0,323.18 L580.0,323.86 L581.0,324.51 L582.0,325.14 L583.0,325.74 L584.0,326.31 L585.0,326.84 L586.0,327.33 L587.0,327.78 L588.0,328.18 L589.0,328.53 L590.0,328.85 L591.0,329.13 L592.0,329.38 L593.0,329.62 L594.0,329.85 L595.0,330.06 L596.0,330.26 L597.0,330.44 L598.0,330.60 L599.0,330.74 L600.0,330.86 L601.0,330.95 L602.0,331.02 L603.0,331.08 L604.0,331.11 L605.0,331.14 L606.0,331.16 L607.0,331.19 L608.0,331.20 L609.0,331.22 L610.0,331.24 L611.0,331.26 L612.0,331.27 L613.0,331.29 L614.0,331.30 L615.0,331.31 L616.0,331.32 L617.0,331.34 L618.0,331.35 L619.0,331.36 L620.0,331.37 L621.0,331.38 L622.0,331.39 L623.0,331.39 L624.0,331.40 L625.0,331.41 L626.0,331.42 L627.0,331.42 L628.0,331.43 L629.0,331.44 L630.0,331.44 L631.0,331.45 L632.0,331.46 L633.0,331.46 L634.0,331.47 L635.0,331.47 L636.0,331.48 L637.0,331.49 L638.0,331.49 L639.0,331.50 L640.0,331.51 L641.0,331.51 L642.0,331.52 L643.0,331.53 L644.0,331.54 L645.0,331.55 L646.0,331.56 L647.0,331.57 L648.0,331.58 L649.0,331.59 L650.0,331.60 L651.0,331.61 L652.0,331.63 L653.0,331.64 L654.0,331.65 L655.0,331.67 L656.0,331.68 L657.0,331.70 L658.0,331.71 L659.0,331.73 L660.0,331.74 L661.0,331.76 L662.0,331.78 L663.0,331.79 L664.0,331.81 L665.0,331.83 L666.0,331.84 L667.0,331.86 L668.0,331.88 L669.0,331.90 L670.0,331.91 L671.0,331.93 L672.0,331.95 L673.0,331.97 L674.0,331.98 L675.0,332.00 L676.0,332.02 L677.0,332.03 L678.0,332.05 L679.0,332.07 L680.0,332.08 L681.0,332.10 L682.0,332.11 L683.0,332.13 L684.0,332.14 L685.0,332.16 L686.0,332.17 L687.0,332.18 L688.0,332.20 L689.0,332.21 L690.0,332.22 L691.0,332.23 L692.0,332.24 L693.0,332.25 L694.0,332.26 L695.0,332.27 L696.0,332.28 L697.0,332.28 L698.0,332.29 L699.0,332.29 L700.0,332.30 L701.0,332.30 L702.0,332.31 L703.0,332.31 L704.0,332.32 L705.0,332.32 L706.0,332.32 L707.0,332.33 L708.0,332.33 L709.0,332.34 L710.0,332.34 L711.0,332.34 L712.0,332.35 L713.0,332.35 L714.0,332.35 L715.0,332.36 L716.0,332.36 L717.0,332.37 L718.0,332.37 L719.0,332.37 L720.0,332.38 L721.0,332.38 L722.0,332.38 L723.0,332.39 L724.0,332.39 L725.0,332.39 L726.0,332.40 L727.0,332.40 L728.0,332.40 L729.0,332.41 L730.0,332.41 L731.0,332.41 L732.0,332.42 L733.0,332.42 L734.0,332.42 L735.0,332.43 L736.0,332.43 L737.0,332.43 L738.0,332.43 L739.0,332.44 L740.0,332.44 L741.0,332.44 L742.0,332.45 L743.0,332.45 L744.0,332.45 L745.0,332.46 L746.0,332.46 L747.0,332.46 L748.0,332.46 L749.0,332.47 L750.0,332.47 L751.0,332.47 L752.0,332.47 L753.0,332.48 L754.0,332.48 L755.0,332.48 L756.0,332.48 L757.0,332.49 L758.0,332.49 L759.0,332.49 L760.0,332.49 L761.0,332.50 L762.0,332.50 L763.0,332.50 L764.0,332.50 L765.0,332.51 L766.0,332.51 L767.0,332.51 L768.0,332.51 L769.0,332.52 L770.0,332.52 L771.0,332.52 L772.0,332.52 L773.0,332.52 L774.0,332.53 L775.0,332.53 L776.0,332.53 L777.0,332.53 L778.0,332.53 L779.0,332.54 L780.0,332.54 L781.0,332.54 L782.0,332.54 L783.0,332.54 L784.0,332.54 L785.0,332.55 L786.0,332.55 L787.0,332.55 L788.0,332.55 L789.0,332.55 L790.0,332.55 L791.0,332.56 L792.0,332.56 L793.0,332.56 L794.0,332.56 L795.0,332.56 L796.0,332.56 L797.0,332.57 L798.0,332.57 L799.0,332.57 L800.0,332.57 L801.0,332.57 L802.0,332.57 L803.0,332.57 L804.0,332.57 L805.0,332.58 L806.0,332.58 L807.0,332.58 L808.0,332.58 L809.0,332.58 L810.0,332.58 L811.0,332.58 L812.0,332.58 L813.0,332.58 L814.0,332.58 L815.0,332.59 L816.0,332.59 L817.0,332.59 L818.0,332.59 L819.0,332.59 L820.0,332.59 L821.0,332.59 L822.0,332.59 L823.0,332.59 L824.0,332.59 L825.0,332.59 L826.0,332.59 L827.0,332.59 L828.0,332.60 L829.0,332.60 L830.0,332.60 L831.0,332.60 L832.0,332.60 L833.0,332.60 L834.0,332.60 L835.0,332.60 L836.0,332.60 L837.0,332.60 L838.0,332.60 L839.0,332.60 L840.0,332.60 L841.0,332.60 L842.0,332.60 L843.0,332.60 L844.0,332.60 L845.0,332.60 L846.0,332.60" fill="none" stroke="#e1b349" stroke-width="1.5"/>
<text x="427.7" y="323.6" font-size="9.9" font-weight="400" fill="#242424" textLength="50" lengthAdjust="spacingAndGlyphs"  stroke="#242424" stroke-width="0.25">Los Angeles</text>
<line x1="538.62" y1="306.1" x2="538.62" y2="332.6" stroke="#1b4f8a" stroke-width="1.5"/>
<circle cx="538.62" cy="306.1" r="2.1" fill="#1b4f8a"/>
<text x="544.5217821782178" y="309.8" font-size="9.2" font-weight="700" fill="#1f5a9e" textLength="64.3" lengthAdjust="spacingAndGlyphs" >28% admitted</text>
<text x="544.5217821782178" y="320.3" font-size="7.6" font-weight="400" fill="#5e5e5e" textLength="37" lengthAdjust="spacingAndGlyphs"  stroke="#5e5e5e" stroke-width="0.1">(56 of 202)</text>
<path d="M427.0,370.40 L428.0,370.40 L429.0,370.39 L430.0,370.39 L431.0,370.38 L432.0,370.37 L433.0,370.35 L434.0,370.34 L435.0,370.32 L436.0,370.31 L437.0,370.28 L438.0,370.26 L439.0,370.24 L440.0,370.21 L441.0,370.19 L442.0,370.16 L443.0,370.13 L444.0,370.10 L445.0,370.07 L446.0,370.04 L447.0,370.00 L448.0,369.97 L449.0,369.93 L450.0,369.89 L451.0,369.85 L452.0,369.80 L453.0,369.75 L454.0,369.69 L455.0,369.63 L456.0,369.55 L457.0,369.48 L458.0,369.39 L459.0,369.30 L460.0,369.20 L461.0,369.10 L462.0,368.99 L463.0,368.87 L464.0,368.75 L465.0,368.63 L466.0,368.49 L467.0,368.35 L468.0,368.21 L469.0,368.06 L470.0,367.90 L471.0,367.73 L472.0,367.55 L473.0,367.35 L474.0,367.12 L475.0,366.87 L476.0,366.59 L477.0,366.28 L478.0,365.94 L479.0,365.57 L480.0,365.18 L481.0,364.76 L482.0,364.32 L483.0,363.85 L484.0,363.36 L485.0,362.86 L486.0,362.33 L487.0,361.78 L488.0,361.22 L489.0,360.64 L490.0,360.04 L491.0,359.44 L492.0,358.81 L493.0,358.18 L494.0,357.53 L495.0,356.88 L496.0,356.22 L497.0,355.54 L498.0,354.86 L499.0,354.15 L500.0,353.42 L501.0,352.63 L502.0,351.79 L503.0,350.87 L504.0,349.90 L505.0,348.87 L506.0,347.80 L507.0,346.70 L508.0,345.59 L509.0,344.48 L510.0,343.39 L511.0,342.32 L512.0,341.30 L513.0,340.34 L514.0,339.42 L515.0,338.56 L516.0,337.72 L517.0,336.90 L518.0,336.09 L519.0,335.27 L520.0,334.44 L521.0,333.62 L522.0,332.80 L523.0,331.98 L524.0,331.18 L525.0,330.39 L526.0,329.62 L527.0,328.87 L528.0,328.16 L529.0,327.47 L530.0,326.82 L531.0,326.21 L532.0,325.65 L533.0,325.13 L534.0,324.67 L535.0,324.26 L536.0,323.92 L537.0,323.64 L538.0,323.43 L539.0,323.29 L540.0,323.24 L541.0,323.26 L542.0,323.37 L543.0,323.57 L544.0,323.84 L545.0,324.18 L546.0,324.60 L547.0,325.07 L548.0,325.59 L549.0,326.16 L550.0,326.76 L551.0,327.40 L552.0,328.06 L553.0,328.74 L554.0,329.44 L555.0,330.15 L556.0,330.89 L557.0,331.68 L558.0,332.53 L559.0,333.46 L560.0,334.47 L561.0,335.56 L562.0,336.70 L563.0,337.89 L564.0,339.11 L565.0,340.36 L566.0,341.61 L567.0,342.86 L568.0,344.09 L569.0,345.29 L570.0,346.46 L571.0,347.60 L572.0,348.72 L573.0,349.84 L574.0,350.97 L575.0,352.10 L576.0,353.23 L577.0,354.34 L578.0,355.43 L579.0,356.47 L580.0,357.46 L581.0,358.38 L582.0,359.22 L583.0,359.97 L584.0,360.65 L585.0,361.26 L586.0,361.81 L587.0,362.34 L588.0,362.84 L589.0,363.33 L590.0,363.80 L591.0,364.25 L592.0,364.68 L593.0,365.08 L594.0,365.47 L595.0,365.83 L596.0,366.15 L597.0,366.45 L598.0,366.72 L599.0,366.96 L600.0,367.16 L601.0,367.33 L602.0,367.46 L603.0,367.57 L604.0,367.65 L605.0,367.72 L606.0,367.79 L607.0,367.85 L608.0,367.91 L609.0,367.97 L610.0,368.02 L611.0,368.08 L612.0,368.13 L613.0,368.18 L614.0,368.24 L615.0,368.28 L616.0,368.33 L617.0,368.38 L618.0,368.42 L619.0,368.47 L620.0,368.51 L621.0,368.55 L622.0,368.59 L623.0,368.63 L624.0,368.67 L625.0,368.71 L626.0,368.74 L627.0,368.78 L628.0,368.81 L629.0,368.84 L630.0,368.87 L631.0,368.90 L632.0,368.93 L633.0,368.96 L634.0,368.99 L635.0,369.02 L636.0,369.04 L637.0,369.07 L638.0,369.09 L639.0,369.11 L640.0,369.13 L641.0,369.16 L642.0,369.18 L643.0,369.20 L644.0,369.22 L645.0,369.24 L646.0,369.25 L647.0,369.27 L648.0,369.29 L649.0,369.30 L650.0,369.32 L651.0,369.33 L652.0,369.35 L653.0,369.36 L654.0,369.38 L655.0,369.39 L656.0,369.40 L657.0,369.41 L658.0,369.43 L659.0,369.44 L660.0,369.45 L661.0,369.46 L662.0,369.47 L663.0,369.48 L664.0,369.49 L665.0,369.50 L666.0,369.51 L667.0,369.52 L668.0,369.53 L669.0,369.54 L670.0,369.55 L671.0,369.56 L672.0,369.57 L673.0,369.58 L674.0,369.58 L675.0,369.59 L676.0,369.60 L677.0,369.61 L678.0,369.62 L679.0,369.63 L680.0,369.64 L681.0,369.65 L682.0,369.66 L683.0,369.67 L684.0,369.67 L685.0,369.68 L686.0,369.69 L687.0,369.70 L688.0,369.71 L689.0,369.72 L690.0,369.73 L691.0,369.73 L692.0,369.74 L693.0,369.75 L694.0,369.76 L695.0,369.77 L696.0,369.78 L697.0,369.78 L698.0,369.79 L699.0,369.80 L700.0,369.81 L701.0,369.82 L702.0,369.82 L703.0,369.83 L704.0,369.84 L705.0,369.85 L706.0,369.85 L707.0,369.86 L708.0,369.87 L709.0,369.88 L710.0,369.88 L711.0,369.89 L712.0,369.90 L713.0,369.91 L714.0,369.91 L715.0,369.92 L716.0,369.93 L717.0,369.94 L718.0,369.94 L719.0,369.95 L720.0,369.96 L721.0,369.96 L722.0,369.97 L723.0,369.98 L724.0,369.98 L725.0,369.99 L726.0,370.00 L727.0,370.00 L728.0,370.01 L729.0,370.02 L730.0,370.02 L731.0,370.03 L732.0,370.03 L733.0,370.04 L734.0,370.05 L735.0,370.05 L736.0,370.06 L737.0,370.07 L738.0,370.07 L739.0,370.08 L740.0,370.08 L741.0,370.09 L742.0,370.10 L743.0,370.10 L744.0,370.11 L745.0,370.11 L746.0,370.12 L747.0,370.12 L748.0,370.13 L749.0,370.13 L750.0,370.14 L751.0,370.14 L752.0,370.15 L753.0,370.16 L754.0,370.16 L755.0,370.17 L756.0,370.17 L757.0,370.18 L758.0,370.18 L759.0,370.19 L760.0,370.19 L761.0,370.19 L762.0,370.20 L763.0,370.20 L764.0,370.21 L765.0,370.21 L766.0,370.22 L767.0,370.22 L768.0,370.23 L769.0,370.23 L770.0,370.24 L771.0,370.24 L772.0,370.24 L773.0,370.25 L774.0,370.25 L775.0,370.26 L776.0,370.26 L777.0,370.26 L778.0,370.27 L779.0,370.27 L780.0,370.27 L781.0,370.28 L782.0,370.28 L783.0,370.29 L784.0,370.29 L785.0,370.29 L786.0,370.30 L787.0,370.30 L788.0,370.30 L789.0,370.31 L790.0,370.31 L791.0,370.31 L792.0,370.32 L793.0,370.32 L794.0,370.32 L795.0,370.32 L796.0,370.33 L797.0,370.33 L798.0,370.33 L799.0,370.34 L800.0,370.34 L801.0,370.34 L802.0,370.34 L803.0,370.35 L804.0,370.35 L805.0,370.35 L806.0,370.35 L807.0,370.36 L808.0,370.36 L809.0,370.36 L810.0,370.36 L811.0,370.36 L812.0,370.37 L813.0,370.37 L814.0,370.37 L815.0,370.37 L816.0,370.37 L817.0,370.37 L818.0,370.38 L819.0,370.38 L820.0,370.38 L821.0,370.38 L822.0,370.38 L823.0,370.38 L824.0,370.39 L825.0,370.39 L826.0,370.39 L827.0,370.39 L828.0,370.39 L829.0,370.39 L830.0,370.39 L831.0,370.39 L832.0,370.39 L833.0,370.39 L834.0,370.40 L835.0,370.40 L836.0,370.40 L837.0,370.40 L838.0,370.40 L839.0,370.40 L840.0,370.40 L841.0,370.40 L842.0,370.40 L843.0,370.40 L844.0,370.40 L845.0,370.40 L846.0,370.40 L846.7,370.4 L427,370.4 Z" fill="#f1dca6"/>
<path d="M427.0,370.40 L428.0,370.40 L429.0,370.39 L430.0,370.39 L431.0,370.38 L432.0,370.37 L433.0,370.35 L434.0,370.34 L435.0,370.32 L436.0,370.31 L437.0,370.28 L438.0,370.26 L439.0,370.24 L440.0,370.21 L441.0,370.19 L442.0,370.16 L443.0,370.13 L444.0,370.10 L445.0,370.07 L446.0,370.04 L447.0,370.00 L448.0,369.97 L449.0,369.93 L450.0,369.89 L451.0,369.85 L452.0,369.80 L453.0,369.75 L454.0,369.69 L455.0,369.63 L456.0,369.55 L457.0,369.48 L458.0,369.39 L459.0,369.30 L460.0,369.20 L461.0,369.10 L462.0,368.99 L463.0,368.87 L464.0,368.75 L465.0,368.63 L466.0,368.49 L467.0,368.35 L468.0,368.21 L469.0,368.06 L470.0,367.90 L471.0,367.73 L472.0,367.55 L473.0,367.35 L474.0,367.12 L475.0,366.87 L476.0,366.59 L477.0,366.28 L478.0,365.94 L479.0,365.57 L480.0,365.18 L481.0,364.76 L482.0,364.32 L483.0,363.85 L484.0,363.36 L485.0,362.86 L486.0,362.33 L487.0,361.78 L488.0,361.22 L489.0,360.64 L490.0,360.04 L491.0,359.44 L492.0,358.81 L493.0,358.18 L494.0,357.53 L495.0,356.88 L496.0,356.22 L497.0,355.54 L498.0,354.86 L499.0,354.15 L500.0,353.42 L501.0,352.63 L502.0,351.79 L503.0,350.87 L504.0,349.90 L505.0,348.87 L506.0,347.80 L507.0,346.70 L508.0,345.59 L509.0,344.48 L510.0,343.39 L511.0,342.32 L512.0,341.30 L513.0,340.34 L514.0,339.42 L515.0,338.56 L516.0,337.72 L517.0,336.90 L518.0,336.09 L519.0,335.27 L520.0,334.44 L521.0,333.62 L522.0,332.80 L523.0,331.98 L524.0,331.18 L525.0,330.39 L526.0,329.62 L527.0,328.87 L528.0,328.16 L529.0,327.47 L530.0,326.82 L531.0,326.21 L532.0,325.65 L533.0,325.13 L534.0,324.67 L535.0,324.26 L536.0,323.92 L537.0,323.64 L538.0,323.43 L539.0,323.29 L540.0,323.24 L541.0,323.26 L542.0,323.37 L543.0,323.57 L544.0,323.84 L545.0,324.18 L546.0,324.60 L547.0,325.07 L548.0,325.59 L549.0,326.16 L550.0,326.76 L551.0,327.40 L552.0,328.06 L553.0,328.74 L554.0,329.44 L555.0,330.15 L556.0,330.89 L557.0,331.68 L558.0,332.53 L559.0,333.46 L560.0,334.47 L561.0,335.56 L562.0,336.70 L563.0,337.89 L564.0,339.11 L565.0,340.36 L566.0,341.61 L567.0,342.86 L568.0,344.09 L569.0,345.29 L570.0,346.46 L571.0,347.60 L572.0,348.72 L573.0,349.84 L574.0,350.97 L575.0,352.10 L576.0,353.23 L577.0,354.34 L578.0,355.43 L579.0,356.47 L580.0,357.46 L581.0,358.38 L582.0,359.22 L583.0,359.97 L584.0,360.65 L585.0,361.26 L586.0,361.81 L587.0,362.34 L588.0,362.84 L589.0,363.33 L590.0,363.80 L591.0,364.25 L592.0,364.68 L593.0,365.08 L594.0,365.47 L595.0,365.83 L596.0,366.15 L597.0,366.45 L598.0,366.72 L599.0,366.96 L600.0,367.16 L601.0,367.33 L602.0,367.46 L603.0,367.57 L604.0,367.65 L605.0,367.72 L606.0,367.79 L607.0,367.85 L608.0,367.91 L609.0,367.97 L610.0,368.02 L611.0,368.08 L612.0,368.13 L613.0,368.18 L614.0,368.24 L615.0,368.28 L616.0,368.33 L617.0,368.38 L618.0,368.42 L619.0,368.47 L620.0,368.51 L621.0,368.55 L622.0,368.59 L623.0,368.63 L624.0,368.67 L625.0,368.71 L626.0,368.74 L627.0,368.78 L628.0,368.81 L629.0,368.84 L630.0,368.87 L631.0,368.90 L632.0,368.93 L633.0,368.96 L634.0,368.99 L635.0,369.02 L636.0,369.04 L637.0,369.07 L638.0,369.09 L639.0,369.11 L640.0,369.13 L641.0,369.16 L642.0,369.18 L643.0,369.20 L644.0,369.22 L645.0,369.24 L646.0,369.25 L647.0,369.27 L648.0,369.29 L649.0,369.30 L650.0,369.32 L651.0,369.33 L652.0,369.35 L653.0,369.36 L654.0,369.38 L655.0,369.39 L656.0,369.40 L657.0,369.41 L658.0,369.43 L659.0,369.44 L660.0,369.45 L661.0,369.46 L662.0,369.47 L663.0,369.48 L664.0,369.49 L665.0,369.50 L666.0,369.51 L667.0,369.52 L668.0,369.53 L669.0,369.54 L670.0,369.55 L671.0,369.56 L672.0,369.57 L673.0,369.58 L674.0,369.58 L675.0,369.59 L676.0,369.60 L677.0,369.61 L678.0,369.62 L679.0,369.63 L680.0,369.64 L681.0,369.65 L682.0,369.66 L683.0,369.67 L684.0,369.67 L685.0,369.68 L686.0,369.69 L687.0,369.70 L688.0,369.71 L689.0,369.72 L690.0,369.73 L691.0,369.73 L692.0,369.74 L693.0,369.75 L694.0,369.76 L695.0,369.77 L696.0,369.78 L697.0,369.78 L698.0,369.79 L699.0,369.80 L700.0,369.81 L701.0,369.82 L702.0,369.82 L703.0,369.83 L704.0,369.84 L705.0,369.85 L706.0,369.85 L707.0,369.86 L708.0,369.87 L709.0,369.88 L710.0,369.88 L711.0,369.89 L712.0,369.90 L713.0,369.91 L714.0,369.91 L715.0,369.92 L716.0,369.93 L717.0,369.94 L718.0,369.94 L719.0,369.95 L720.0,369.96 L721.0,369.96 L722.0,369.97 L723.0,369.98 L724.0,369.98 L725.0,369.99 L726.0,370.00 L727.0,370.00 L728.0,370.01 L729.0,370.02 L730.0,370.02 L731.0,370.03 L732.0,370.03 L733.0,370.04 L734.0,370.05 L735.0,370.05 L736.0,370.06 L737.0,370.07 L738.0,370.07 L739.0,370.08 L740.0,370.08 L741.0,370.09 L742.0,370.10 L743.0,370.10 L744.0,370.11 L745.0,370.11 L746.0,370.12 L747.0,370.12 L748.0,370.13 L749.0,370.13 L750.0,370.14 L751.0,370.14 L752.0,370.15 L753.0,370.16 L754.0,370.16 L755.0,370.17 L756.0,370.17 L757.0,370.18 L758.0,370.18 L759.0,370.19 L760.0,370.19 L761.0,370.19 L762.0,370.20 L763.0,370.20 L764.0,370.21 L765.0,370.21 L766.0,370.22 L767.0,370.22 L768.0,370.23 L769.0,370.23 L770.0,370.24 L771.0,370.24 L772.0,370.24 L773.0,370.25 L774.0,370.25 L775.0,370.26 L776.0,370.26 L777.0,370.26 L778.0,370.27 L779.0,370.27 L780.0,370.27 L781.0,370.28 L782.0,370.28 L783.0,370.29 L784.0,370.29 L785.0,370.29 L786.0,370.30 L787.0,370.30 L788.0,370.30 L789.0,370.31 L790.0,370.31 L791.0,370.31 L792.0,370.32 L793.0,370.32 L794.0,370.32 L795.0,370.32 L796.0,370.33 L797.0,370.33 L798.0,370.33 L799.0,370.34 L800.0,370.34 L801.0,370.34 L802.0,370.34 L803.0,370.35 L804.0,370.35 L805.0,370.35 L806.0,370.35 L807.0,370.36 L808.0,370.36 L809.0,370.36 L810.0,370.36 L811.0,370.36 L812.0,370.37 L813.0,370.37 L814.0,370.37 L815.0,370.37 L816.0,370.37 L817.0,370.37 L818.0,370.38 L819.0,370.38 L820.0,370.38 L821.0,370.38 L822.0,370.38 L823.0,370.38 L824.0,370.39 L825.0,370.39 L826.0,370.39 L827.0,370.39 L828.0,370.39 L829.0,370.39 L830.0,370.39 L831.0,370.39 L832.0,370.39 L833.0,370.39 L834.0,370.40 L835.0,370.40 L836.0,370.40 L837.0,370.40 L838.0,370.40 L839.0,370.40 L840.0,370.40 L841.0,370.40 L842.0,370.40 L843.0,370.40 L844.0,370.40 L845.0,370.40 L846.0,370.40" fill="none" stroke="#e1b349" stroke-width="1.5"/>
<text x="427.7" y="361.4" font-size="9.9" font-weight="400" fill="#242424" textLength="36" lengthAdjust="spacingAndGlyphs"  stroke="#242424" stroke-width="0.25">Berkeley</text>
<line x1="519.02" y1="343.9" x2="519.02" y2="370.4" stroke="#1b4f8a" stroke-width="1.5"/>
<circle cx="519.02" cy="343.9" r="2.1" fill="#1b4f8a"/>
<text x="524.9248995983936" y="347.59999999999997" font-size="9.2" font-weight="700" fill="#1f5a9e" textLength="21" lengthAdjust="spacingAndGlyphs" >22%</text>
<text x="524.9248995983936" y="358.09999999999997" font-size="7.6" font-weight="400" fill="#5e5e5e" textLength="37" lengthAdjust="spacingAndGlyphs"  stroke="#5e5e5e" stroke-width="0.1">(56 of 249)</text>
<path d="M427.0,407.00 L428.0,407.00 L429.0,406.99 L430.0,406.99 L431.0,406.98 L432.0,406.97 L433.0,406.96 L434.0,406.95 L435.0,406.94 L436.0,406.92 L437.0,406.90 L438.0,406.89 L439.0,406.87 L440.0,406.84 L441.0,406.82 L442.0,406.80 L443.0,406.77 L444.0,406.74 L445.0,406.72 L446.0,406.69 L447.0,406.66 L448.0,406.62 L449.0,406.59 L450.0,406.56 L451.0,406.52 L452.0,406.49 L453.0,406.45 L454.0,406.41 L455.0,406.37 L456.0,406.34 L457.0,406.30 L458.0,406.25 L459.0,406.21 L460.0,406.17 L461.0,406.13 L462.0,406.09 L463.0,406.04 L464.0,406.00 L465.0,405.95 L466.0,405.91 L467.0,405.86 L468.0,405.82 L469.0,405.77 L470.0,405.73 L471.0,405.68 L472.0,405.64 L473.0,405.59 L474.0,405.55 L475.0,405.50 L476.0,405.45 L477.0,405.40 L478.0,405.35 L479.0,405.30 L480.0,405.24 L481.0,405.18 L482.0,405.12 L483.0,405.06 L484.0,405.00 L485.0,404.93 L486.0,404.87 L487.0,404.80 L488.0,404.73 L489.0,404.65 L490.0,404.58 L491.0,404.50 L492.0,404.42 L493.0,404.34 L494.0,404.26 L495.0,404.18 L496.0,404.09 L497.0,404.01 L498.0,403.92 L499.0,403.83 L500.0,403.74 L501.0,403.65 L502.0,403.55 L503.0,403.46 L504.0,403.36 L505.0,403.27 L506.0,403.17 L507.0,403.07 L508.0,402.97 L509.0,402.86 L510.0,402.76 L511.0,402.66 L512.0,402.55 L513.0,402.45 L514.0,402.34 L515.0,402.24 L516.0,402.13 L517.0,402.03 L518.0,401.92 L519.0,401.82 L520.0,401.71 L521.0,401.59 L522.0,401.48 L523.0,401.36 L524.0,401.23 L525.0,401.10 L526.0,400.97 L527.0,400.82 L528.0,400.67 L529.0,400.51 L530.0,400.34 L531.0,400.16 L532.0,399.97 L533.0,399.78 L534.0,399.56 L535.0,399.34 L536.0,399.09 L537.0,398.80 L538.0,398.46 L539.0,398.05 L540.0,397.55 L541.0,396.96 L542.0,396.29 L543.0,395.54 L544.0,394.72 L545.0,393.86 L546.0,392.95 L547.0,392.02 L548.0,391.08 L549.0,390.13 L550.0,389.20 L551.0,388.29 L552.0,387.41 L553.0,386.58 L554.0,385.80 L555.0,385.05 L556.0,384.34 L557.0,383.65 L558.0,382.97 L559.0,382.29 L560.0,381.62 L561.0,380.96 L562.0,380.32 L563.0,379.70 L564.0,379.10 L565.0,378.54 L566.0,378.01 L567.0,377.52 L568.0,377.07 L569.0,376.66 L570.0,376.29 L571.0,375.95 L572.0,375.63 L573.0,375.32 L574.0,375.02 L575.0,374.73 L576.0,374.45 L577.0,374.19 L578.0,373.95 L579.0,373.73 L580.0,373.54 L581.0,373.37 L582.0,373.24 L583.0,373.14 L584.0,373.08 L585.0,373.06 L586.0,373.07 L587.0,373.11 L588.0,373.18 L589.0,373.29 L590.0,373.41 L591.0,373.56 L592.0,373.73 L593.0,373.92 L594.0,374.13 L595.0,374.35 L596.0,374.59 L597.0,374.84 L598.0,375.10 L599.0,375.36 L600.0,375.63 L601.0,375.90 L602.0,376.18 L603.0,376.45 L604.0,376.73 L605.0,377.01 L606.0,377.30 L607.0,377.59 L608.0,377.90 L609.0,378.23 L610.0,378.57 L611.0,378.92 L612.0,379.29 L613.0,379.67 L614.0,380.06 L615.0,380.46 L616.0,380.88 L617.0,381.31 L618.0,381.74 L619.0,382.19 L620.0,382.64 L621.0,383.10 L622.0,383.57 L623.0,384.05 L624.0,384.53 L625.0,385.04 L626.0,385.56 L627.0,386.11 L628.0,386.69 L629.0,387.30 L630.0,387.94 L631.0,388.60 L632.0,389.27 L633.0,389.96 L634.0,390.65 L635.0,391.34 L636.0,392.04 L637.0,392.73 L638.0,393.40 L639.0,394.06 L640.0,394.70 L641.0,395.32 L642.0,395.90 L643.0,396.45 L644.0,396.97 L645.0,397.47 L646.0,397.94 L647.0,398.40 L648.0,398.85 L649.0,399.30 L650.0,399.74 L651.0,400.17 L652.0,400.60 L653.0,401.02 L654.0,401.42 L655.0,401.81 L656.0,402.18 L657.0,402.54 L658.0,402.87 L659.0,403.18 L660.0,403.46 L661.0,403.72 L662.0,403.95 L663.0,404.15 L664.0,404.32 L665.0,404.47 L666.0,404.60 L667.0,404.71 L668.0,404.82 L669.0,404.92 L670.0,405.01 L671.0,405.11 L672.0,405.19 L673.0,405.28 L674.0,405.36 L675.0,405.43 L676.0,405.50 L677.0,405.57 L678.0,405.63 L679.0,405.69 L680.0,405.74 L681.0,405.79 L682.0,405.84 L683.0,405.88 L684.0,405.91 L685.0,405.94 L686.0,405.97 L687.0,405.99 L688.0,406.00 L689.0,406.02 L690.0,406.04 L691.0,406.05 L692.0,406.06 L693.0,406.08 L694.0,406.09 L695.0,406.10 L696.0,406.12 L697.0,406.13 L698.0,406.15 L699.0,406.16 L700.0,406.17 L701.0,406.18 L702.0,406.20 L703.0,406.21 L704.0,406.22 L705.0,406.23 L706.0,406.25 L707.0,406.26 L708.0,406.27 L709.0,406.28 L710.0,406.29 L711.0,406.31 L712.0,406.32 L713.0,406.33 L714.0,406.34 L715.0,406.35 L716.0,406.36 L717.0,406.37 L718.0,406.38 L719.0,406.40 L720.0,406.41 L721.0,406.42 L722.0,406.43 L723.0,406.44 L724.0,406.45 L725.0,406.46 L726.0,406.47 L727.0,406.48 L728.0,406.49 L729.0,406.50 L730.0,406.51 L731.0,406.52 L732.0,406.53 L733.0,406.53 L734.0,406.54 L735.0,406.55 L736.0,406.56 L737.0,406.57 L738.0,406.58 L739.0,406.59 L740.0,406.60 L741.0,406.60 L742.0,406.61 L743.0,406.62 L744.0,406.63 L745.0,406.64 L746.0,406.64 L747.0,406.65 L748.0,406.66 L749.0,406.67 L750.0,406.68 L751.0,406.68 L752.0,406.69 L753.0,406.70 L754.0,406.70 L755.0,406.71 L756.0,406.72 L757.0,406.72 L758.0,406.73 L759.0,406.74 L760.0,406.74 L761.0,406.75 L762.0,406.76 L763.0,406.76 L764.0,406.77 L765.0,406.78 L766.0,406.78 L767.0,406.79 L768.0,406.79 L769.0,406.80 L770.0,406.80 L771.0,406.81 L772.0,406.82 L773.0,406.82 L774.0,406.83 L775.0,406.83 L776.0,406.84 L777.0,406.84 L778.0,406.85 L779.0,406.85 L780.0,406.86 L781.0,406.86 L782.0,406.86 L783.0,406.87 L784.0,406.87 L785.0,406.88 L786.0,406.88 L787.0,406.89 L788.0,406.89 L789.0,406.89 L790.0,406.90 L791.0,406.90 L792.0,406.91 L793.0,406.91 L794.0,406.91 L795.0,406.92 L796.0,406.92 L797.0,406.92 L798.0,406.93 L799.0,406.93 L800.0,406.93 L801.0,406.94 L802.0,406.94 L803.0,406.94 L804.0,406.94 L805.0,406.95 L806.0,406.95 L807.0,406.95 L808.0,406.95 L809.0,406.96 L810.0,406.96 L811.0,406.96 L812.0,406.96 L813.0,406.97 L814.0,406.97 L815.0,406.97 L816.0,406.97 L817.0,406.97 L818.0,406.98 L819.0,406.98 L820.0,406.98 L821.0,406.98 L822.0,406.98 L823.0,406.98 L824.0,406.98 L825.0,406.99 L826.0,406.99 L827.0,406.99 L828.0,406.99 L829.0,406.99 L830.0,406.99 L831.0,406.99 L832.0,406.99 L833.0,406.99 L834.0,407.00 L835.0,407.00 L836.0,407.00 L837.0,407.00 L838.0,407.00 L839.0,407.00 L840.0,407.00 L841.0,407.00 L842.0,407.00 L843.0,407.00 L844.0,407.00 L845.0,407.00 L846.0,407.00 L846.7,407 L427,407 Z" fill="#f1dca6"/>
<path d="M427.0,407.00 L428.0,407.00 L429.0,406.99 L430.0,406.99 L431.0,406.98 L432.0,406.97 L433.0,406.96 L434.0,406.95 L435.0,406.94 L436.0,406.92 L437.0,406.90 L438.0,406.89 L439.0,406.87 L440.0,406.84 L441.0,406.82 L442.0,406.80 L443.0,406.77 L444.0,406.74 L445.0,406.72 L446.0,406.69 L447.0,406.66 L448.0,406.62 L449.0,406.59 L450.0,406.56 L451.0,406.52 L452.0,406.49 L453.0,406.45 L454.0,406.41 L455.0,406.37 L456.0,406.34 L457.0,406.30 L458.0,406.25 L459.0,406.21 L460.0,406.17 L461.0,406.13 L462.0,406.09 L463.0,406.04 L464.0,406.00 L465.0,405.95 L466.0,405.91 L467.0,405.86 L468.0,405.82 L469.0,405.77 L470.0,405.73 L471.0,405.68 L472.0,405.64 L473.0,405.59 L474.0,405.55 L475.0,405.50 L476.0,405.45 L477.0,405.40 L478.0,405.35 L479.0,405.30 L480.0,405.24 L481.0,405.18 L482.0,405.12 L483.0,405.06 L484.0,405.00 L485.0,404.93 L486.0,404.87 L487.0,404.80 L488.0,404.73 L489.0,404.65 L490.0,404.58 L491.0,404.50 L492.0,404.42 L493.0,404.34 L494.0,404.26 L495.0,404.18 L496.0,404.09 L497.0,404.01 L498.0,403.92 L499.0,403.83 L500.0,403.74 L501.0,403.65 L502.0,403.55 L503.0,403.46 L504.0,403.36 L505.0,403.27 L506.0,403.17 L507.0,403.07 L508.0,402.97 L509.0,402.86 L510.0,402.76 L511.0,402.66 L512.0,402.55 L513.0,402.45 L514.0,402.34 L515.0,402.24 L516.0,402.13 L517.0,402.03 L518.0,401.92 L519.0,401.82 L520.0,401.71 L521.0,401.59 L522.0,401.48 L523.0,401.36 L524.0,401.23 L525.0,401.10 L526.0,400.97 L527.0,400.82 L528.0,400.67 L529.0,400.51 L530.0,400.34 L531.0,400.16 L532.0,399.97 L533.0,399.78 L534.0,399.56 L535.0,399.34 L536.0,399.09 L537.0,398.80 L538.0,398.46 L539.0,398.05 L540.0,397.55 L541.0,396.96 L542.0,396.29 L543.0,395.54 L544.0,394.72 L545.0,393.86 L546.0,392.95 L547.0,392.02 L548.0,391.08 L549.0,390.13 L550.0,389.20 L551.0,388.29 L552.0,387.41 L553.0,386.58 L554.0,385.80 L555.0,385.05 L556.0,384.34 L557.0,383.65 L558.0,382.97 L559.0,382.29 L560.0,381.62 L561.0,380.96 L562.0,380.32 L563.0,379.70 L564.0,379.10 L565.0,378.54 L566.0,378.01 L567.0,377.52 L568.0,377.07 L569.0,376.66 L570.0,376.29 L571.0,375.95 L572.0,375.63 L573.0,375.32 L574.0,375.02 L575.0,374.73 L576.0,374.45 L577.0,374.19 L578.0,373.95 L579.0,373.73 L580.0,373.54 L581.0,373.37 L582.0,373.24 L583.0,373.14 L584.0,373.08 L585.0,373.06 L586.0,373.07 L587.0,373.11 L588.0,373.18 L589.0,373.29 L590.0,373.41 L591.0,373.56 L592.0,373.73 L593.0,373.92 L594.0,374.13 L595.0,374.35 L596.0,374.59 L597.0,374.84 L598.0,375.10 L599.0,375.36 L600.0,375.63 L601.0,375.90 L602.0,376.18 L603.0,376.45 L604.0,376.73 L605.0,377.01 L606.0,377.30 L607.0,377.59 L608.0,377.90 L609.0,378.23 L610.0,378.57 L611.0,378.92 L612.0,379.29 L613.0,379.67 L614.0,380.06 L615.0,380.46 L616.0,380.88 L617.0,381.31 L618.0,381.74 L619.0,382.19 L620.0,382.64 L621.0,383.10 L622.0,383.57 L623.0,384.05 L624.0,384.53 L625.0,385.04 L626.0,385.56 L627.0,386.11 L628.0,386.69 L629.0,387.30 L630.0,387.94 L631.0,388.60 L632.0,389.27 L633.0,389.96 L634.0,390.65 L635.0,391.34 L636.0,392.04 L637.0,392.73 L638.0,393.40 L639.0,394.06 L640.0,394.70 L641.0,395.32 L642.0,395.90 L643.0,396.45 L644.0,396.97 L645.0,397.47 L646.0,397.94 L647.0,398.40 L648.0,398.85 L649.0,399.30 L650.0,399.74 L651.0,400.17 L652.0,400.60 L653.0,401.02 L654.0,401.42 L655.0,401.81 L656.0,402.18 L657.0,402.54 L658.0,402.87 L659.0,403.18 L660.0,403.46 L661.0,403.72 L662.0,403.95 L663.0,404.15 L664.0,404.32 L665.0,404.47 L666.0,404.60 L667.0,404.71 L668.0,404.82 L669.0,404.92 L670.0,405.01 L671.0,405.11 L672.0,405.19 L673.0,405.28 L674.0,405.36 L675.0,405.43 L676.0,405.50 L677.0,405.57 L678.0,405.63 L679.0,405.69 L680.0,405.74 L681.0,405.79 L682.0,405.84 L683.0,405.88 L684.0,405.91 L685.0,405.94 L686.0,405.97 L687.0,405.99 L688.0,406.00 L689.0,406.02 L690.0,406.04 L691.0,406.05 L692.0,406.06 L693.0,406.08 L694.0,406.09 L695.0,406.10 L696.0,406.12 L697.0,406.13 L698.0,406.15 L699.0,406.16 L700.0,406.17 L701.0,406.18 L702.0,406.20 L703.0,406.21 L704.0,406.22 L705.0,406.23 L706.0,406.25 L707.0,406.26 L708.0,406.27 L709.0,406.28 L710.0,406.29 L711.0,406.31 L712.0,406.32 L713.0,406.33 L714.0,406.34 L715.0,406.35 L716.0,406.36 L717.0,406.37 L718.0,406.38 L719.0,406.40 L720.0,406.41 L721.0,406.42 L722.0,406.43 L723.0,406.44 L724.0,406.45 L725.0,406.46 L726.0,406.47 L727.0,406.48 L728.0,406.49 L729.0,406.50 L730.0,406.51 L731.0,406.52 L732.0,406.53 L733.0,406.53 L734.0,406.54 L735.0,406.55 L736.0,406.56 L737.0,406.57 L738.0,406.58 L739.0,406.59 L740.0,406.60 L741.0,406.60 L742.0,406.61 L743.0,406.62 L744.0,406.63 L745.0,406.64 L746.0,406.64 L747.0,406.65 L748.0,406.66 L749.0,406.67 L750.0,406.68 L751.0,406.68 L752.0,406.69 L753.0,406.70 L754.0,406.70 L755.0,406.71 L756.0,406.72 L757.0,406.72 L758.0,406.73 L759.0,406.74 L760.0,406.74 L761.0,406.75 L762.0,406.76 L763.0,406.76 L764.0,406.77 L765.0,406.78 L766.0,406.78 L767.0,406.79 L768.0,406.79 L769.0,406.80 L770.0,406.80 L771.0,406.81 L772.0,406.82 L773.0,406.82 L774.0,406.83 L775.0,406.83 L776.0,406.84 L777.0,406.84 L778.0,406.85 L779.0,406.85 L780.0,406.86 L781.0,406.86 L782.0,406.86 L783.0,406.87 L784.0,406.87 L785.0,406.88 L786.0,406.88 L787.0,406.89 L788.0,406.89 L789.0,406.89 L790.0,406.90 L791.0,406.90 L792.0,406.91 L793.0,406.91 L794.0,406.91 L795.0,406.92 L796.0,406.92 L797.0,406.92 L798.0,406.93 L799.0,406.93 L800.0,406.93 L801.0,406.94 L802.0,406.94 L803.0,406.94 L804.0,406.94 L805.0,406.95 L806.0,406.95 L807.0,406.95 L808.0,406.95 L809.0,406.96 L810.0,406.96 L811.0,406.96 L812.0,406.96 L813.0,406.97 L814.0,406.97 L815.0,406.97 L816.0,406.97 L817.0,406.97 L818.0,406.98 L819.0,406.98 L820.0,406.98 L821.0,406.98 L822.0,406.98 L823.0,406.98 L824.0,406.98 L825.0,406.99 L826.0,406.99 L827.0,406.99 L828.0,406.99 L829.0,406.99 L830.0,406.99 L831.0,406.99 L832.0,406.99 L833.0,406.99 L834.0,407.00 L835.0,407.00 L836.0,407.00 L837.0,407.00 L838.0,407.00 L839.0,407.00 L840.0,407.00 L841.0,407.00 L842.0,407.00 L843.0,407.00 L844.0,407.00 L845.0,407.00 L846.0,407.00" fill="none" stroke="#e1b349" stroke-width="1.5"/>
<text x="427.7" y="398.0" font-size="9.9" font-weight="400" fill="#242424" textLength="23" lengthAdjust="spacingAndGlyphs"  stroke="#242424" stroke-width="0.25">Irvine</text>
<line x1="616.82" y1="380.5" x2="616.82" y2="407" stroke="#1b4f8a" stroke-width="1.5"/>
<circle cx="616.82" cy="380.5" r="2.1" fill="#1b4f8a"/>
<text x="622.7195530726257" y="384.2" font-size="9.2" font-weight="700" fill="#1f5a9e" textLength="21" lengthAdjust="spacingAndGlyphs" >49%</text>
<text x="622.7195530726257" y="394.7" font-size="7.6" font-weight="400" fill="#5e5e5e" textLength="37" lengthAdjust="spacingAndGlyphs"  stroke="#5e5e5e" stroke-width="0.1">(87 of 179)</text>
<path d="M427.0,444.00 L428.0,444.00 L429.0,444.00 L430.0,444.00 L431.0,444.00 L432.0,444.00 L433.0,444.00 L434.0,444.00 L435.0,444.00 L436.0,444.00 L437.0,443.99 L438.0,443.99 L439.0,443.99 L440.0,443.99 L441.0,443.99 L442.0,443.99 L443.0,443.99 L444.0,443.98 L445.0,443.98 L446.0,443.98 L447.0,443.98 L448.0,443.98 L449.0,443.97 L450.0,443.97 L451.0,443.97 L452.0,443.97 L453.0,443.96 L454.0,443.96 L455.0,443.96 L456.0,443.96 L457.0,443.95 L458.0,443.95 L459.0,443.95 L460.0,443.94 L461.0,443.94 L462.0,443.94 L463.0,443.93 L464.0,443.93 L465.0,443.92 L466.0,443.92 L467.0,443.92 L468.0,443.91 L469.0,443.91 L470.0,443.90 L471.0,443.90 L472.0,443.89 L473.0,443.89 L474.0,443.88 L475.0,443.88 L476.0,443.87 L477.0,443.87 L478.0,443.86 L479.0,443.86 L480.0,443.85 L481.0,443.85 L482.0,443.84 L483.0,443.84 L484.0,443.83 L485.0,443.82 L486.0,443.82 L487.0,443.81 L488.0,443.81 L489.0,443.80 L490.0,443.79 L491.0,443.79 L492.0,443.78 L493.0,443.77 L494.0,443.77 L495.0,443.76 L496.0,443.75 L497.0,443.74 L498.0,443.74 L499.0,443.73 L500.0,443.72 L501.0,443.71 L502.0,443.71 L503.0,443.70 L504.0,443.69 L505.0,443.68 L506.0,443.67 L507.0,443.67 L508.0,443.66 L509.0,443.65 L510.0,443.64 L511.0,443.63 L512.0,443.62 L513.0,443.61 L514.0,443.61 L515.0,443.60 L516.0,443.59 L517.0,443.58 L518.0,443.57 L519.0,443.56 L520.0,443.55 L521.0,443.54 L522.0,443.53 L523.0,443.52 L524.0,443.51 L525.0,443.50 L526.0,443.49 L527.0,443.47 L528.0,443.46 L529.0,443.44 L530.0,443.42 L531.0,443.40 L532.0,443.38 L533.0,443.36 L534.0,443.33 L535.0,443.31 L536.0,443.28 L537.0,443.25 L538.0,443.21 L539.0,443.18 L540.0,443.15 L541.0,443.11 L542.0,443.07 L543.0,443.03 L544.0,442.99 L545.0,442.95 L546.0,442.90 L547.0,442.85 L548.0,442.81 L549.0,442.76 L550.0,442.71 L551.0,442.65 L552.0,442.60 L553.0,442.54 L554.0,442.49 L555.0,442.43 L556.0,442.37 L557.0,442.31 L558.0,442.25 L559.0,442.18 L560.0,442.12 L561.0,442.05 L562.0,441.99 L563.0,441.92 L564.0,441.85 L565.0,441.78 L566.0,441.70 L567.0,441.63 L568.0,441.56 L569.0,441.48 L570.0,441.40 L571.0,441.32 L572.0,441.24 L573.0,441.16 L574.0,441.08 L575.0,440.99 L576.0,440.90 L577.0,440.81 L578.0,440.70 L579.0,440.59 L580.0,440.47 L581.0,440.34 L582.0,440.21 L583.0,440.07 L584.0,439.92 L585.0,439.76 L586.0,439.59 L587.0,439.42 L588.0,439.24 L589.0,439.05 L590.0,438.85 L591.0,438.65 L592.0,438.44 L593.0,438.22 L594.0,438.00 L595.0,437.76 L596.0,437.52 L597.0,437.27 L598.0,437.02 L599.0,436.75 L600.0,436.46 L601.0,436.15 L602.0,435.82 L603.0,435.45 L604.0,435.05 L605.0,434.61 L606.0,434.15 L607.0,433.66 L608.0,433.15 L609.0,432.61 L610.0,432.06 L611.0,431.49 L612.0,430.90 L613.0,430.31 L614.0,429.70 L615.0,429.09 L616.0,428.47 L617.0,427.85 L618.0,427.23 L619.0,426.61 L620.0,425.97 L621.0,425.33 L622.0,424.66 L623.0,423.96 L624.0,423.24 L625.0,422.50 L626.0,421.75 L627.0,420.98 L628.0,420.20 L629.0,419.43 L630.0,418.66 L631.0,417.90 L632.0,417.15 L633.0,416.43 L634.0,415.73 L635.0,415.06 L636.0,414.43 L637.0,413.82 L638.0,413.23 L639.0,412.65 L640.0,412.07 L641.0,411.48 L642.0,410.90 L643.0,410.31 L644.0,409.73 L645.0,409.16 L646.0,408.60 L647.0,408.06 L648.0,407.55 L649.0,407.07 L650.0,406.62 L651.0,406.22 L652.0,405.85 L653.0,405.54 L654.0,405.28 L655.0,405.08 L656.0,404.94 L657.0,404.86 L658.0,404.84 L659.0,404.87 L660.0,404.94 L661.0,405.05 L662.0,405.20 L663.0,405.38 L664.0,405.58 L665.0,405.82 L666.0,406.07 L667.0,406.35 L668.0,406.65 L669.0,406.99 L670.0,407.38 L671.0,407.86 L672.0,408.43 L673.0,409.11 L674.0,409.90 L675.0,410.78 L676.0,411.74 L677.0,412.75 L678.0,413.79 L679.0,414.85 L680.0,415.91 L681.0,416.95 L682.0,417.98 L683.0,418.99 L684.0,420.01 L685.0,421.04 L686.0,422.08 L687.0,423.14 L688.0,424.20 L689.0,425.25 L690.0,426.29 L691.0,427.30 L692.0,428.28 L693.0,429.21 L694.0,430.10 L695.0,430.96 L696.0,431.79 L697.0,432.61 L698.0,433.42 L699.0,434.23 L700.0,435.02 L701.0,435.80 L702.0,436.54 L703.0,437.25 L704.0,437.91 L705.0,438.51 L706.0,439.04 L707.0,439.50 L708.0,439.88 L709.0,440.18 L710.0,440.41 L711.0,440.59 L712.0,440.73 L713.0,440.86 L714.0,440.98 L715.0,441.09 L716.0,441.20 L717.0,441.30 L718.0,441.40 L719.0,441.50 L720.0,441.60 L721.0,441.69 L722.0,441.77 L723.0,441.86 L724.0,441.94 L725.0,442.02 L726.0,442.09 L727.0,442.16 L728.0,442.23 L729.0,442.30 L730.0,442.36 L731.0,442.42 L732.0,442.48 L733.0,442.54 L734.0,442.59 L735.0,442.64 L736.0,442.69 L737.0,442.73 L738.0,442.78 L739.0,442.82 L740.0,442.86 L741.0,442.90 L742.0,442.93 L743.0,442.97 L744.0,443.00 L745.0,443.03 L746.0,443.06 L747.0,443.08 L748.0,443.11 L749.0,443.13 L750.0,443.15 L751.0,443.18 L752.0,443.20 L753.0,443.21 L754.0,443.23 L755.0,443.25 L756.0,443.27 L757.0,443.28 L758.0,443.30 L759.0,443.31 L760.0,443.33 L761.0,443.34 L762.0,443.36 L763.0,443.37 L764.0,443.39 L765.0,443.40 L766.0,443.41 L767.0,443.43 L768.0,443.44 L769.0,443.46 L770.0,443.47 L771.0,443.48 L772.0,443.50 L773.0,443.51 L774.0,443.52 L775.0,443.53 L776.0,443.55 L777.0,443.56 L778.0,443.57 L779.0,443.58 L780.0,443.60 L781.0,443.61 L782.0,443.62 L783.0,443.63 L784.0,443.64 L785.0,443.65 L786.0,443.66 L787.0,443.67 L788.0,443.68 L789.0,443.70 L790.0,443.71 L791.0,443.72 L792.0,443.73 L793.0,443.74 L794.0,443.74 L795.0,443.75 L796.0,443.76 L797.0,443.77 L798.0,443.78 L799.0,443.79 L800.0,443.80 L801.0,443.81 L802.0,443.82 L803.0,443.82 L804.0,443.83 L805.0,443.84 L806.0,443.85 L807.0,443.85 L808.0,443.86 L809.0,443.87 L810.0,443.87 L811.0,443.88 L812.0,443.89 L813.0,443.89 L814.0,443.90 L815.0,443.91 L816.0,443.91 L817.0,443.92 L818.0,443.92 L819.0,443.93 L820.0,443.93 L821.0,443.94 L822.0,443.94 L823.0,443.95 L824.0,443.95 L825.0,443.96 L826.0,443.96 L827.0,443.96 L828.0,443.97 L829.0,443.97 L830.0,443.97 L831.0,443.98 L832.0,443.98 L833.0,443.98 L834.0,443.98 L835.0,443.99 L836.0,443.99 L837.0,443.99 L838.0,443.99 L839.0,443.99 L840.0,444.00 L841.0,444.00 L842.0,444.00 L843.0,444.00 L844.0,444.00 L845.0,444.00 L846.0,444.00 L846.7,444 L427,444 Z" fill="#f1dca6"/>
<path d="M427.0,444.00 L428.0,444.00 L429.0,444.00 L430.0,444.00 L431.0,444.00 L432.0,444.00 L433.0,444.00 L434.0,444.00 L435.0,444.00 L436.0,444.00 L437.0,443.99 L438.0,443.99 L439.0,443.99 L440.0,443.99 L441.0,443.99 L442.0,443.99 L443.0,443.99 L444.0,443.98 L445.0,443.98 L446.0,443.98 L447.0,443.98 L448.0,443.98 L449.0,443.97 L450.0,443.97 L451.0,443.97 L452.0,443.97 L453.0,443.96 L454.0,443.96 L455.0,443.96 L456.0,443.96 L457.0,443.95 L458.0,443.95 L459.0,443.95 L460.0,443.94 L461.0,443.94 L462.0,443.94 L463.0,443.93 L464.0,443.93 L465.0,443.92 L466.0,443.92 L467.0,443.92 L468.0,443.91 L469.0,443.91 L470.0,443.90 L471.0,443.90 L472.0,443.89 L473.0,443.89 L474.0,443.88 L475.0,443.88 L476.0,443.87 L477.0,443.87 L478.0,443.86 L479.0,443.86 L480.0,443.85 L481.0,443.85 L482.0,443.84 L483.0,443.84 L484.0,443.83 L485.0,443.82 L486.0,443.82 L487.0,443.81 L488.0,443.81 L489.0,443.80 L490.0,443.79 L491.0,443.79 L492.0,443.78 L493.0,443.77 L494.0,443.77 L495.0,443.76 L496.0,443.75 L497.0,443.74 L498.0,443.74 L499.0,443.73 L500.0,443.72 L501.0,443.71 L502.0,443.71 L503.0,443.70 L504.0,443.69 L505.0,443.68 L506.0,443.67 L507.0,443.67 L508.0,443.66 L509.0,443.65 L510.0,443.64 L511.0,443.63 L512.0,443.62 L513.0,443.61 L514.0,443.61 L515.0,443.60 L516.0,443.59 L517.0,443.58 L518.0,443.57 L519.0,443.56 L520.0,443.55 L521.0,443.54 L522.0,443.53 L523.0,443.52 L524.0,443.51 L525.0,443.50 L526.0,443.49 L527.0,443.47 L528.0,443.46 L529.0,443.44 L530.0,443.42 L531.0,443.40 L532.0,443.38 L533.0,443.36 L534.0,443.33 L535.0,443.31 L536.0,443.28 L537.0,443.25 L538.0,443.21 L539.0,443.18 L540.0,443.15 L541.0,443.11 L542.0,443.07 L543.0,443.03 L544.0,442.99 L545.0,442.95 L546.0,442.90 L547.0,442.85 L548.0,442.81 L549.0,442.76 L550.0,442.71 L551.0,442.65 L552.0,442.60 L553.0,442.54 L554.0,442.49 L555.0,442.43 L556.0,442.37 L557.0,442.31 L558.0,442.25 L559.0,442.18 L560.0,442.12 L561.0,442.05 L562.0,441.99 L563.0,441.92 L564.0,441.85 L565.0,441.78 L566.0,441.70 L567.0,441.63 L568.0,441.56 L569.0,441.48 L570.0,441.40 L571.0,441.32 L572.0,441.24 L573.0,441.16 L574.0,441.08 L575.0,440.99 L576.0,440.90 L577.0,440.81 L578.0,440.70 L579.0,440.59 L580.0,440.47 L581.0,440.34 L582.0,440.21 L583.0,440.07 L584.0,439.92 L585.0,439.76 L586.0,439.59 L587.0,439.42 L588.0,439.24 L589.0,439.05 L590.0,438.85 L591.0,438.65 L592.0,438.44 L593.0,438.22 L594.0,438.00 L595.0,437.76 L596.0,437.52 L597.0,437.27 L598.0,437.02 L599.0,436.75 L600.0,436.46 L601.0,436.15 L602.0,435.82 L603.0,435.45 L604.0,435.05 L605.0,434.61 L606.0,434.15 L607.0,433.66 L608.0,433.15 L609.0,432.61 L610.0,432.06 L611.0,431.49 L612.0,430.90 L613.0,430.31 L614.0,429.70 L615.0,429.09 L616.0,428.47 L617.0,427.85 L618.0,427.23 L619.0,426.61 L620.0,425.97 L621.0,425.33 L622.0,424.66 L623.0,423.96 L624.0,423.24 L625.0,422.50 L626.0,421.75 L627.0,420.98 L628.0,420.20 L629.0,419.43 L630.0,418.66 L631.0,417.90 L632.0,417.15 L633.0,416.43 L634.0,415.73 L635.0,415.06 L636.0,414.43 L637.0,413.82 L638.0,413.23 L639.0,412.65 L640.0,412.07 L641.0,411.48 L642.0,410.90 L643.0,410.31 L644.0,409.73 L645.0,409.16 L646.0,408.60 L647.0,408.06 L648.0,407.55 L649.0,407.07 L650.0,406.62 L651.0,406.22 L652.0,405.85 L653.0,405.54 L654.0,405.28 L655.0,405.08 L656.0,404.94 L657.0,404.86 L658.0,404.84 L659.0,404.87 L660.0,404.94 L661.0,405.05 L662.0,405.20 L663.0,405.38 L664.0,405.58 L665.0,405.82 L666.0,406.07 L667.0,406.35 L668.0,406.65 L669.0,406.99 L670.0,407.38 L671.0,407.86 L672.0,408.43 L673.0,409.11 L674.0,409.90 L675.0,410.78 L676.0,411.74 L677.0,412.75 L678.0,413.79 L679.0,414.85 L680.0,415.91 L681.0,416.95 L682.0,417.98 L683.0,418.99 L684.0,420.01 L685.0,421.04 L686.0,422.08 L687.0,423.14 L688.0,424.20 L689.0,425.25 L690.0,426.29 L691.0,427.30 L692.0,428.28 L693.0,429.21 L694.0,430.10 L695.0,430.96 L696.0,431.79 L697.0,432.61 L698.0,433.42 L699.0,434.23 L700.0,435.02 L701.0,435.80 L702.0,436.54 L703.0,437.25 L704.0,437.91 L705.0,438.51 L706.0,439.04 L707.0,439.50 L708.0,439.88 L709.0,440.18 L710.0,440.41 L711.0,440.59 L712.0,440.73 L713.0,440.86 L714.0,440.98 L715.0,441.09 L716.0,441.20 L717.0,441.30 L718.0,441.40 L719.0,441.50 L720.0,441.60 L721.0,441.69 L722.0,441.77 L723.0,441.86 L724.0,441.94 L725.0,442.02 L726.0,442.09 L727.0,442.16 L728.0,442.23 L729.0,442.30 L730.0,442.36 L731.0,442.42 L732.0,442.48 L733.0,442.54 L734.0,442.59 L735.0,442.64 L736.0,442.69 L737.0,442.73 L738.0,442.78 L739.0,442.82 L740.0,442.86 L741.0,442.90 L742.0,442.93 L743.0,442.97 L744.0,443.00 L745.0,443.03 L746.0,443.06 L747.0,443.08 L748.0,443.11 L749.0,443.13 L750.0,443.15 L751.0,443.18 L752.0,443.20 L753.0,443.21 L754.0,443.23 L755.0,443.25 L756.0,443.27 L757.0,443.28 L758.0,443.30 L759.0,443.31 L760.0,443.33 L761.0,443.34 L762.0,443.36 L763.0,443.37 L764.0,443.39 L765.0,443.40 L766.0,443.41 L767.0,443.43 L768.0,443.44 L769.0,443.46 L770.0,443.47 L771.0,443.48 L772.0,443.50 L773.0,443.51 L774.0,443.52 L775.0,443.53 L776.0,443.55 L777.0,443.56 L778.0,443.57 L779.0,443.58 L780.0,443.60 L781.0,443.61 L782.0,443.62 L783.0,443.63 L784.0,443.64 L785.0,443.65 L786.0,443.66 L787.0,443.67 L788.0,443.68 L789.0,443.70 L790.0,443.71 L791.0,443.72 L792.0,443.73 L793.0,443.74 L794.0,443.74 L795.0,443.75 L796.0,443.76 L797.0,443.77 L798.0,443.78 L799.0,443.79 L800.0,443.80 L801.0,443.81 L802.0,443.82 L803.0,443.82 L804.0,443.83 L805.0,443.84 L806.0,443.85 L807.0,443.85 L808.0,443.86 L809.0,443.87 L810.0,443.87 L811.0,443.88 L812.0,443.89 L813.0,443.89 L814.0,443.90 L815.0,443.91 L816.0,443.91 L817.0,443.92 L818.0,443.92 L819.0,443.93 L820.0,443.93 L821.0,443.94 L822.0,443.94 L823.0,443.95 L824.0,443.95 L825.0,443.96 L826.0,443.96 L827.0,443.96 L828.0,443.97 L829.0,443.97 L830.0,443.97 L831.0,443.98 L832.0,443.98 L833.0,443.98 L834.0,443.98 L835.0,443.99 L836.0,443.99 L837.0,443.99 L838.0,443.99 L839.0,443.99 L840.0,444.00 L841.0,444.00 L842.0,444.00 L843.0,444.00 L844.0,444.00 L845.0,444.00 L846.0,444.00" fill="none" stroke="#e1b349" stroke-width="1.5"/>
<text x="427.7" y="435.0" font-size="9.9" font-weight="400" fill="#242424" textLength="38.3" lengthAdjust="spacingAndGlyphs"  stroke="#242424" stroke-width="0.25">Riverside</text>
<line x1="652.53" y1="417.5" x2="652.53" y2="444" stroke="#1b4f8a" stroke-width="1.5"/>
<circle cx="652.53" cy="417.5" r="2.1" fill="#1b4f8a"/>
<text x="658.4325581395349" y="421.2" font-size="9.2" font-weight="700" fill="#1f5a9e" textLength="21" lengthAdjust="spacingAndGlyphs" >58%</text>
<text x="658.4325581395349" y="431.7" font-size="7.6" font-weight="400" fill="#5e5e5e" textLength="33.3" lengthAdjust="spacingAndGlyphs"  stroke="#5e5e5e" stroke-width="0.1">(50 of 86)</text>
<path d="M427.0,481.25 L428.0,481.25 L429.0,481.25 L430.0,481.25 L431.0,481.25 L432.0,481.25 L433.0,481.25 L434.0,481.25 L435.0,481.25 L436.0,481.24 L437.0,481.24 L438.0,481.24 L439.0,481.24 L440.0,481.24 L441.0,481.24 L442.0,481.23 L443.0,481.23 L444.0,481.23 L445.0,481.23 L446.0,481.22 L447.0,481.22 L448.0,481.22 L449.0,481.22 L450.0,481.21 L451.0,481.21 L452.0,481.21 L453.0,481.20 L454.0,481.20 L455.0,481.19 L456.0,481.19 L457.0,481.19 L458.0,481.18 L459.0,481.18 L460.0,481.17 L461.0,481.17 L462.0,481.16 L463.0,481.16 L464.0,481.15 L465.0,481.15 L466.0,481.14 L467.0,481.13 L468.0,481.13 L469.0,481.12 L470.0,481.12 L471.0,481.11 L472.0,481.10 L473.0,481.10 L474.0,481.09 L475.0,481.08 L476.0,481.08 L477.0,481.07 L478.0,481.06 L479.0,481.05 L480.0,481.05 L481.0,481.04 L482.0,481.03 L483.0,481.02 L484.0,481.01 L485.0,481.00 L486.0,481.00 L487.0,480.99 L488.0,480.98 L489.0,480.97 L490.0,480.96 L491.0,480.95 L492.0,480.94 L493.0,480.93 L494.0,480.92 L495.0,480.91 L496.0,480.90 L497.0,480.89 L498.0,480.88 L499.0,480.87 L500.0,480.86 L501.0,480.85 L502.0,480.83 L503.0,480.82 L504.0,480.81 L505.0,480.80 L506.0,480.79 L507.0,480.78 L508.0,480.76 L509.0,480.75 L510.0,480.74 L511.0,480.73 L512.0,480.71 L513.0,480.70 L514.0,480.69 L515.0,480.67 L516.0,480.66 L517.0,480.65 L518.0,480.63 L519.0,480.62 L520.0,480.60 L521.0,480.59 L522.0,480.58 L523.0,480.56 L524.0,480.55 L525.0,480.53 L526.0,480.52 L527.0,480.50 L528.0,480.48 L529.0,480.47 L530.0,480.45 L531.0,480.44 L532.0,480.42 L533.0,480.40 L534.0,480.39 L535.0,480.37 L536.0,480.35 L537.0,480.34 L538.0,480.32 L539.0,480.30 L540.0,480.28 L541.0,480.27 L542.0,480.25 L543.0,480.23 L544.0,480.21 L545.0,480.19 L546.0,480.18 L547.0,480.16 L548.0,480.14 L549.0,480.12 L550.0,480.10 L551.0,480.08 L552.0,480.06 L553.0,480.04 L554.0,480.02 L555.0,480.00 L556.0,479.97 L557.0,479.95 L558.0,479.92 L559.0,479.89 L560.0,479.85 L561.0,479.82 L562.0,479.77 L563.0,479.73 L564.0,479.68 L565.0,479.63 L566.0,479.58 L567.0,479.52 L568.0,479.46 L569.0,479.40 L570.0,479.33 L571.0,479.26 L572.0,479.19 L573.0,479.11 L574.0,479.03 L575.0,478.95 L576.0,478.87 L577.0,478.78 L578.0,478.68 L579.0,478.59 L580.0,478.49 L581.0,478.39 L582.0,478.29 L583.0,478.18 L584.0,478.07 L585.0,477.95 L586.0,477.83 L587.0,477.71 L588.0,477.59 L589.0,477.46 L590.0,477.33 L591.0,477.19 L592.0,477.05 L593.0,476.88 L594.0,476.69 L595.0,476.47 L596.0,476.22 L597.0,475.94 L598.0,475.63 L599.0,475.29 L600.0,474.92 L601.0,474.53 L602.0,474.12 L603.0,473.70 L604.0,473.25 L605.0,472.80 L606.0,472.33 L607.0,471.86 L608.0,471.38 L609.0,470.90 L610.0,470.41 L611.0,469.93 L612.0,469.46 L613.0,468.99 L614.0,468.53 L615.0,468.08 L616.0,467.64 L617.0,467.22 L618.0,466.80 L619.0,466.38 L620.0,465.96 L621.0,465.53 L622.0,465.10 L623.0,464.66 L624.0,464.23 L625.0,463.79 L626.0,463.35 L627.0,462.92 L628.0,462.49 L629.0,462.07 L630.0,461.66 L631.0,461.26 L632.0,460.87 L633.0,460.50 L634.0,460.14 L635.0,459.80 L636.0,459.48 L637.0,459.18 L638.0,458.90 L639.0,458.64 L640.0,458.40 L641.0,458.17 L642.0,457.95 L643.0,457.74 L644.0,457.54 L645.0,457.34 L646.0,457.13 L647.0,456.92 L648.0,456.70 L649.0,456.47 L650.0,456.23 L651.0,455.97 L652.0,455.70 L653.0,455.42 L654.0,455.13 L655.0,454.83 L656.0,454.53 L657.0,454.22 L658.0,453.91 L659.0,453.60 L660.0,453.28 L661.0,452.96 L662.0,452.64 L663.0,452.30 L664.0,451.95 L665.0,451.58 L666.0,451.19 L667.0,450.79 L668.0,450.38 L669.0,449.97 L670.0,449.58 L671.0,449.21 L672.0,448.86 L673.0,448.56 L674.0,448.30 L675.0,448.09 L676.0,447.95 L677.0,447.86 L678.0,447.84 L679.0,447.86 L680.0,447.93 L681.0,448.04 L682.0,448.17 L683.0,448.34 L684.0,448.53 L685.0,448.74 L686.0,448.97 L687.0,449.22 L688.0,449.48 L689.0,449.76 L690.0,450.07 L691.0,450.43 L692.0,450.84 L693.0,451.31 L694.0,451.84 L695.0,452.43 L696.0,453.07 L697.0,453.74 L698.0,454.44 L699.0,455.17 L700.0,455.90 L701.0,456.64 L702.0,457.37 L703.0,458.09 L704.0,458.79 L705.0,459.48 L706.0,460.15 L707.0,460.83 L708.0,461.50 L709.0,462.17 L710.0,462.85 L711.0,463.53 L712.0,464.21 L713.0,464.89 L714.0,465.56 L715.0,466.24 L716.0,466.90 L717.0,467.56 L718.0,468.22 L719.0,468.87 L720.0,469.52 L721.0,470.17 L722.0,470.85 L723.0,471.53 L724.0,472.23 L725.0,472.93 L726.0,473.62 L727.0,474.30 L728.0,474.95 L729.0,475.58 L730.0,476.16 L731.0,476.69 L732.0,477.15 L733.0,477.56 L734.0,477.89 L735.0,478.17 L736.0,478.40 L737.0,478.61 L738.0,478.79 L739.0,478.96 L740.0,479.12 L741.0,479.27 L742.0,479.42 L743.0,479.55 L744.0,479.68 L745.0,479.80 L746.0,479.91 L747.0,480.01 L748.0,480.11 L749.0,480.19 L750.0,480.26 L751.0,480.33 L752.0,480.38 L753.0,480.43 L754.0,480.46 L755.0,480.49 L756.0,480.52 L757.0,480.54 L758.0,480.55 L759.0,480.57 L760.0,480.59 L761.0,480.61 L762.0,480.62 L763.0,480.64 L764.0,480.66 L765.0,480.67 L766.0,480.69 L767.0,480.70 L768.0,480.72 L769.0,480.73 L770.0,480.75 L771.0,480.76 L772.0,480.78 L773.0,480.79 L774.0,480.81 L775.0,480.82 L776.0,480.83 L777.0,480.85 L778.0,480.86 L779.0,480.87 L780.0,480.88 L781.0,480.90 L782.0,480.91 L783.0,480.92 L784.0,480.93 L785.0,480.94 L786.0,480.95 L787.0,480.96 L788.0,480.97 L789.0,480.98 L790.0,480.99 L791.0,481.00 L792.0,481.01 L793.0,481.02 L794.0,481.03 L795.0,481.04 L796.0,481.05 L797.0,481.06 L798.0,481.07 L799.0,481.07 L800.0,481.08 L801.0,481.09 L802.0,481.10 L803.0,481.10 L804.0,481.11 L805.0,481.12 L806.0,481.13 L807.0,481.13 L808.0,481.14 L809.0,481.14 L810.0,481.15 L811.0,481.16 L812.0,481.16 L813.0,481.17 L814.0,481.17 L815.0,481.18 L816.0,481.18 L817.0,481.19 L818.0,481.19 L819.0,481.20 L820.0,481.20 L821.0,481.20 L822.0,481.21 L823.0,481.21 L824.0,481.21 L825.0,481.22 L826.0,481.22 L827.0,481.22 L828.0,481.23 L829.0,481.23 L830.0,481.23 L831.0,481.23 L832.0,481.24 L833.0,481.24 L834.0,481.24 L835.0,481.24 L836.0,481.24 L837.0,481.24 L838.0,481.24 L839.0,481.25 L840.0,481.25 L841.0,481.25 L842.0,481.25 L843.0,481.25 L844.0,481.25 L845.0,481.25 L846.0,481.25 L846.7,481.25 L427,481.25 Z" fill="#f1dca6"/>
<path d="M427.0,481.25 L428.0,481.25 L429.0,481.25 L430.0,481.25 L431.0,481.25 L432.0,481.25 L433.0,481.25 L434.0,481.25 L435.0,481.25 L436.0,481.24 L437.0,481.24 L438.0,481.24 L439.0,481.24 L440.0,481.24 L441.0,481.24 L442.0,481.23 L443.0,481.23 L444.0,481.23 L445.0,481.23 L446.0,481.22 L447.0,481.22 L448.0,481.22 L449.0,481.22 L450.0,481.21 L451.0,481.21 L452.0,481.21 L453.0,481.20 L454.0,481.20 L455.0,481.19 L456.0,481.19 L457.0,481.19 L458.0,481.18 L459.0,481.18 L460.0,481.17 L461.0,481.17 L462.0,481.16 L463.0,481.16 L464.0,481.15 L465.0,481.15 L466.0,481.14 L467.0,481.13 L468.0,481.13 L469.0,481.12 L470.0,481.12 L471.0,481.11 L472.0,481.10 L473.0,481.10 L474.0,481.09 L475.0,481.08 L476.0,481.08 L477.0,481.07 L478.0,481.06 L479.0,481.05 L480.0,481.05 L481.0,481.04 L482.0,481.03 L483.0,481.02 L484.0,481.01 L485.0,481.00 L486.0,481.00 L487.0,480.99 L488.0,480.98 L489.0,480.97 L490.0,480.96 L491.0,480.95 L492.0,480.94 L493.0,480.93 L494.0,480.92 L495.0,480.91 L496.0,480.90 L497.0,480.89 L498.0,480.88 L499.0,480.87 L500.0,480.86 L501.0,480.85 L502.0,480.83 L503.0,480.82 L504.0,480.81 L505.0,480.80 L506.0,480.79 L507.0,480.78 L508.0,480.76 L509.0,480.75 L510.0,480.74 L511.0,480.73 L512.0,480.71 L513.0,480.70 L514.0,480.69 L515.0,480.67 L516.0,480.66 L517.0,480.65 L518.0,480.63 L519.0,480.62 L520.0,480.60 L521.0,480.59 L522.0,480.58 L523.0,480.56 L524.0,480.55 L525.0,480.53 L526.0,480.52 L527.0,480.50 L528.0,480.48 L529.0,480.47 L530.0,480.45 L531.0,480.44 L532.0,480.42 L533.0,480.40 L534.0,480.39 L535.0,480.37 L536.0,480.35 L537.0,480.34 L538.0,480.32 L539.0,480.30 L540.0,480.28 L541.0,480.27 L542.0,480.25 L543.0,480.23 L544.0,480.21 L545.0,480.19 L546.0,480.18 L547.0,480.16 L548.0,480.14 L549.0,480.12 L550.0,480.10 L551.0,480.08 L552.0,480.06 L553.0,480.04 L554.0,480.02 L555.0,480.00 L556.0,479.97 L557.0,479.95 L558.0,479.92 L559.0,479.89 L560.0,479.85 L561.0,479.82 L562.0,479.77 L563.0,479.73 L564.0,479.68 L565.0,479.63 L566.0,479.58 L567.0,479.52 L568.0,479.46 L569.0,479.40 L570.0,479.33 L571.0,479.26 L572.0,479.19 L573.0,479.11 L574.0,479.03 L575.0,478.95 L576.0,478.87 L577.0,478.78 L578.0,478.68 L579.0,478.59 L580.0,478.49 L581.0,478.39 L582.0,478.29 L583.0,478.18 L584.0,478.07 L585.0,477.95 L586.0,477.83 L587.0,477.71 L588.0,477.59 L589.0,477.46 L590.0,477.33 L591.0,477.19 L592.0,477.05 L593.0,476.88 L594.0,476.69 L595.0,476.47 L596.0,476.22 L597.0,475.94 L598.0,475.63 L599.0,475.29 L600.0,474.92 L601.0,474.53 L602.0,474.12 L603.0,473.70 L604.0,473.25 L605.0,472.80 L606.0,472.33 L607.0,471.86 L608.0,471.38 L609.0,470.90 L610.0,470.41 L611.0,469.93 L612.0,469.46 L613.0,468.99 L614.0,468.53 L615.0,468.08 L616.0,467.64 L617.0,467.22 L618.0,466.80 L619.0,466.38 L620.0,465.96 L621.0,465.53 L622.0,465.10 L623.0,464.66 L624.0,464.23 L625.0,463.79 L626.0,463.35 L627.0,462.92 L628.0,462.49 L629.0,462.07 L630.0,461.66 L631.0,461.26 L632.0,460.87 L633.0,460.50 L634.0,460.14 L635.0,459.80 L636.0,459.48 L637.0,459.18 L638.0,458.90 L639.0,458.64 L640.0,458.40 L641.0,458.17 L642.0,457.95 L643.0,457.74 L644.0,457.54 L645.0,457.34 L646.0,457.13 L647.0,456.92 L648.0,456.70 L649.0,456.47 L650.0,456.23 L651.0,455.97 L652.0,455.70 L653.0,455.42 L654.0,455.13 L655.0,454.83 L656.0,454.53 L657.0,454.22 L658.0,453.91 L659.0,453.60 L660.0,453.28 L661.0,452.96 L662.0,452.64 L663.0,452.30 L664.0,451.95 L665.0,451.58 L666.0,451.19 L667.0,450.79 L668.0,450.38 L669.0,449.97 L670.0,449.58 L671.0,449.21 L672.0,448.86 L673.0,448.56 L674.0,448.30 L675.0,448.09 L676.0,447.95 L677.0,447.86 L678.0,447.84 L679.0,447.86 L680.0,447.93 L681.0,448.04 L682.0,448.17 L683.0,448.34 L684.0,448.53 L685.0,448.74 L686.0,448.97 L687.0,449.22 L688.0,449.48 L689.0,449.76 L690.0,450.07 L691.0,450.43 L692.0,450.84 L693.0,451.31 L694.0,451.84 L695.0,452.43 L696.0,453.07 L697.0,453.74 L698.0,454.44 L699.0,455.17 L700.0,455.90 L701.0,456.64 L702.0,457.37 L703.0,458.09 L704.0,458.79 L705.0,459.48 L706.0,460.15 L707.0,460.83 L708.0,461.50 L709.0,462.17 L710.0,462.85 L711.0,463.53 L712.0,464.21 L713.0,464.89 L714.0,465.56 L715.0,466.24 L716.0,466.90 L717.0,467.56 L718.0,468.22 L719.0,468.87 L720.0,469.52 L721.0,470.17 L722.0,470.85 L723.0,471.53 L724.0,472.23 L725.0,472.93 L726.0,473.62 L727.0,474.30 L728.0,474.95 L729.0,475.58 L730.0,476.16 L731.0,476.69 L732.0,477.15 L733.0,477.56 L734.0,477.89 L735.0,478.17 L736.0,478.40 L737.0,478.61 L738.0,478.79 L739.0,478.96 L740.0,479.12 L741.0,479.27 L742.0,479.42 L743.0,479.55 L744.0,479.68 L745.0,479.80 L746.0,479.91 L747.0,480.01 L748.0,480.11 L749.0,480.19 L750.0,480.26 L751.0,480.33 L752.0,480.38 L753.0,480.43 L754.0,480.46 L755.0,480.49 L756.0,480.52 L757.0,480.54 L758.0,480.55 L759.0,480.57 L760.0,480.59 L761.0,480.61 L762.0,480.62 L763.0,480.64 L764.0,480.66 L765.0,480.67 L766.0,480.69 L767.0,480.70 L768.0,480.72 L769.0,480.73 L770.0,480.75 L771.0,480.76 L772.0,480.78 L773.0,480.79 L774.0,480.81 L775.0,480.82 L776.0,480.83 L777.0,480.85 L778.0,480.86 L779.0,480.87 L780.0,480.88 L781.0,480.90 L782.0,480.91 L783.0,480.92 L784.0,480.93 L785.0,480.94 L786.0,480.95 L787.0,480.96 L788.0,480.97 L789.0,480.98 L790.0,480.99 L791.0,481.00 L792.0,481.01 L793.0,481.02 L794.0,481.03 L795.0,481.04 L796.0,481.05 L797.0,481.06 L798.0,481.07 L799.0,481.07 L800.0,481.08 L801.0,481.09 L802.0,481.10 L803.0,481.10 L804.0,481.11 L805.0,481.12 L806.0,481.13 L807.0,481.13 L808.0,481.14 L809.0,481.14 L810.0,481.15 L811.0,481.16 L812.0,481.16 L813.0,481.17 L814.0,481.17 L815.0,481.18 L816.0,481.18 L817.0,481.19 L818.0,481.19 L819.0,481.20 L820.0,481.20 L821.0,481.20 L822.0,481.21 L823.0,481.21 L824.0,481.21 L825.0,481.22 L826.0,481.22 L827.0,481.22 L828.0,481.23 L829.0,481.23 L830.0,481.23 L831.0,481.23 L832.0,481.24 L833.0,481.24 L834.0,481.24 L835.0,481.24 L836.0,481.24 L837.0,481.24 L838.0,481.24 L839.0,481.25 L840.0,481.25 L841.0,481.25 L842.0,481.25 L843.0,481.25 L844.0,481.25 L845.0,481.25 L846.0,481.25" fill="none" stroke="#e1b349" stroke-width="1.5"/>
<text x="427.7" y="472.25" font-size="9.9" font-weight="400" fill="#242424" textLength="59.4" lengthAdjust="spacingAndGlyphs"  stroke="#242424" stroke-width="0.25">Santa Barbara</text>
<line x1="682.78" y1="454.75" x2="682.78" y2="481.25" stroke="#1b4f8a" stroke-width="1.5"/>
<circle cx="682.78" cy="454.75" r="2.1" fill="#1b4f8a"/>
<text x="688.6797297297297" y="458.45" font-size="9.2" font-weight="700" fill="#1f5a9e" textLength="21" lengthAdjust="spacingAndGlyphs" >66%</text>
<text x="688.6797297297297" y="468.95" font-size="7.6" font-weight="400" fill="#5e5e5e" textLength="37" lengthAdjust="spacingAndGlyphs"  stroke="#5e5e5e" stroke-width="0.1">(98 of 148)</text>
<path d="M427.0,518.25 L428.0,518.25 L429.0,518.25 L430.0,518.25 L431.0,518.25 L432.0,518.25 L433.0,518.25 L434.0,518.25 L435.0,518.24 L436.0,518.24 L437.0,518.24 L438.0,518.24 L439.0,518.24 L440.0,518.24 L441.0,518.23 L442.0,518.23 L443.0,518.23 L444.0,518.23 L445.0,518.22 L446.0,518.22 L447.0,518.22 L448.0,518.21 L449.0,518.21 L450.0,518.21 L451.0,518.20 L452.0,518.20 L453.0,518.20 L454.0,518.19 L455.0,518.19 L456.0,518.18 L457.0,518.18 L458.0,518.17 L459.0,518.17 L460.0,518.16 L461.0,518.16 L462.0,518.15 L463.0,518.15 L464.0,518.14 L465.0,518.13 L466.0,518.13 L467.0,518.12 L468.0,518.12 L469.0,518.11 L470.0,518.10 L471.0,518.10 L472.0,518.09 L473.0,518.08 L474.0,518.07 L475.0,518.07 L476.0,518.06 L477.0,518.05 L478.0,518.04 L479.0,518.04 L480.0,518.03 L481.0,518.02 L482.0,518.01 L483.0,518.00 L484.0,517.99 L485.0,517.98 L486.0,517.97 L487.0,517.97 L488.0,517.96 L489.0,517.95 L490.0,517.94 L491.0,517.93 L492.0,517.92 L493.0,517.91 L494.0,517.90 L495.0,517.89 L496.0,517.88 L497.0,517.86 L498.0,517.85 L499.0,517.84 L500.0,517.83 L501.0,517.82 L502.0,517.81 L503.0,517.80 L504.0,517.79 L505.0,517.77 L506.0,517.76 L507.0,517.75 L508.0,517.74 L509.0,517.72 L510.0,517.71 L511.0,517.70 L512.0,517.69 L513.0,517.67 L514.0,517.66 L515.0,517.65 L516.0,517.63 L517.0,517.62 L518.0,517.61 L519.0,517.59 L520.0,517.58 L521.0,517.56 L522.0,517.55 L523.0,517.54 L524.0,517.52 L525.0,517.51 L526.0,517.49 L527.0,517.48 L528.0,517.46 L529.0,517.45 L530.0,517.43 L531.0,517.41 L532.0,517.40 L533.0,517.38 L534.0,517.37 L535.0,517.35 L536.0,517.33 L537.0,517.32 L538.0,517.30 L539.0,517.28 L540.0,517.27 L541.0,517.25 L542.0,517.23 L543.0,517.22 L544.0,517.20 L545.0,517.18 L546.0,517.16 L547.0,517.15 L548.0,517.13 L549.0,517.11 L550.0,517.09 L551.0,517.07 L552.0,517.06 L553.0,517.04 L554.0,517.02 L555.0,517.00 L556.0,516.98 L557.0,516.96 L558.0,516.94 L559.0,516.91 L560.0,516.89 L561.0,516.86 L562.0,516.83 L563.0,516.81 L564.0,516.77 L565.0,516.74 L566.0,516.71 L567.0,516.67 L568.0,516.64 L569.0,516.60 L570.0,516.55 L571.0,516.51 L572.0,516.47 L573.0,516.42 L574.0,516.37 L575.0,516.32 L576.0,516.26 L577.0,516.21 L578.0,516.15 L579.0,516.09 L580.0,516.02 L581.0,515.96 L582.0,515.89 L583.0,515.82 L584.0,515.74 L585.0,515.67 L586.0,515.59 L587.0,515.50 L588.0,515.42 L589.0,515.33 L590.0,515.24 L591.0,515.14 L592.0,515.03 L593.0,514.90 L594.0,514.74 L595.0,514.56 L596.0,514.33 L597.0,514.08 L598.0,513.79 L599.0,513.47 L600.0,513.13 L601.0,512.76 L602.0,512.36 L603.0,511.95 L604.0,511.52 L605.0,511.07 L606.0,510.61 L607.0,510.14 L608.0,509.67 L609.0,509.19 L610.0,508.71 L611.0,508.22 L612.0,507.72 L613.0,507.22 L614.0,506.69 L615.0,506.14 L616.0,505.56 L617.0,504.95 L618.0,504.32 L619.0,503.67 L620.0,503.00 L621.0,502.32 L622.0,501.63 L623.0,500.93 L624.0,500.24 L625.0,499.55 L626.0,498.87 L627.0,498.20 L628.0,497.54 L629.0,496.89 L630.0,496.26 L631.0,495.63 L632.0,495.01 L633.0,494.38 L634.0,493.75 L635.0,493.11 L636.0,492.48 L637.0,491.86 L638.0,491.24 L639.0,490.63 L640.0,490.03 L641.0,489.46 L642.0,488.90 L643.0,488.36 L644.0,487.85 L645.0,487.37 L646.0,486.91 L647.0,486.48 L648.0,486.07 L649.0,485.67 L650.0,485.27 L651.0,484.88 L652.0,484.49 L653.0,484.11 L654.0,483.74 L655.0,483.38 L656.0,483.03 L657.0,482.71 L658.0,482.42 L659.0,482.15 L660.0,481.91 L661.0,481.71 L662.0,481.55 L663.0,481.43 L664.0,481.35 L665.0,481.31 L666.0,481.32 L667.0,481.36 L668.0,481.43 L669.0,481.52 L670.0,481.64 L671.0,481.78 L672.0,481.94 L673.0,482.14 L674.0,482.38 L675.0,482.69 L676.0,483.11 L677.0,483.67 L678.0,484.39 L679.0,485.26 L680.0,486.25 L681.0,487.34 L682.0,488.50 L683.0,489.70 L684.0,490.92 L685.0,492.12 L686.0,493.28 L687.0,494.41 L688.0,495.51 L689.0,496.59 L690.0,497.69 L691.0,498.79 L692.0,499.89 L693.0,500.99 L694.0,502.07 L695.0,503.12 L696.0,504.11 L697.0,505.05 L698.0,505.91 L699.0,506.69 L700.0,507.40 L701.0,508.06 L702.0,508.68 L703.0,509.27 L704.0,509.84 L705.0,510.39 L706.0,510.92 L707.0,511.44 L708.0,511.92 L709.0,512.38 L710.0,512.82 L711.0,513.22 L712.0,513.59 L713.0,513.92 L714.0,514.22 L715.0,514.47 L716.0,514.69 L717.0,514.88 L718.0,515.04 L719.0,515.17 L720.0,515.30 L721.0,515.41 L722.0,515.53 L723.0,515.64 L724.0,515.74 L725.0,515.84 L726.0,515.94 L727.0,516.04 L728.0,516.13 L729.0,516.22 L730.0,516.30 L731.0,516.38 L732.0,516.46 L733.0,516.54 L734.0,516.61 L735.0,516.68 L736.0,516.75 L737.0,516.81 L738.0,516.87 L739.0,516.93 L740.0,516.98 L741.0,517.04 L742.0,517.08 L743.0,517.13 L744.0,517.18 L745.0,517.22 L746.0,517.26 L747.0,517.29 L748.0,517.33 L749.0,517.36 L750.0,517.39 L751.0,517.41 L752.0,517.44 L753.0,517.46 L754.0,517.48 L755.0,517.50 L756.0,517.52 L757.0,517.53 L758.0,517.55 L759.0,517.56 L760.0,517.58 L761.0,517.59 L762.0,517.61 L763.0,517.62 L764.0,517.64 L765.0,517.65 L766.0,517.67 L767.0,517.68 L768.0,517.70 L769.0,517.71 L770.0,517.73 L771.0,517.74 L772.0,517.75 L773.0,517.77 L774.0,517.78 L775.0,517.79 L776.0,517.80 L777.0,517.82 L778.0,517.83 L779.0,517.84 L780.0,517.85 L781.0,517.86 L782.0,517.88 L783.0,517.89 L784.0,517.90 L785.0,517.91 L786.0,517.92 L787.0,517.93 L788.0,517.94 L789.0,517.95 L790.0,517.96 L791.0,517.97 L792.0,517.98 L793.0,517.99 L794.0,518.00 L795.0,518.01 L796.0,518.02 L797.0,518.03 L798.0,518.04 L799.0,518.05 L800.0,518.06 L801.0,518.06 L802.0,518.07 L803.0,518.08 L804.0,518.09 L805.0,518.09 L806.0,518.10 L807.0,518.11 L808.0,518.12 L809.0,518.12 L810.0,518.13 L811.0,518.14 L812.0,518.14 L813.0,518.15 L814.0,518.15 L815.0,518.16 L816.0,518.17 L817.0,518.17 L818.0,518.18 L819.0,518.18 L820.0,518.19 L821.0,518.19 L822.0,518.20 L823.0,518.20 L824.0,518.20 L825.0,518.21 L826.0,518.21 L827.0,518.22 L828.0,518.22 L829.0,518.22 L830.0,518.22 L831.0,518.23 L832.0,518.23 L833.0,518.23 L834.0,518.24 L835.0,518.24 L836.0,518.24 L837.0,518.24 L838.0,518.24 L839.0,518.24 L840.0,518.25 L841.0,518.25 L842.0,518.25 L843.0,518.25 L844.0,518.25 L845.0,518.25 L846.0,518.25 L846.7,518.25 L427,518.25 Z" fill="#f1dca6"/>
<path d="M427.0,518.25 L428.0,518.25 L429.0,518.25 L430.0,518.25 L431.0,518.25 L432.0,518.25 L433.0,518.25 L434.0,518.25 L435.0,518.24 L436.0,518.24 L437.0,518.24 L438.0,518.24 L439.0,518.24 L440.0,518.24 L441.0,518.23 L442.0,518.23 L443.0,518.23 L444.0,518.23 L445.0,518.22 L446.0,518.22 L447.0,518.22 L448.0,518.21 L449.0,518.21 L450.0,518.21 L451.0,518.20 L452.0,518.20 L453.0,518.20 L454.0,518.19 L455.0,518.19 L456.0,518.18 L457.0,518.18 L458.0,518.17 L459.0,518.17 L460.0,518.16 L461.0,518.16 L462.0,518.15 L463.0,518.15 L464.0,518.14 L465.0,518.13 L466.0,518.13 L467.0,518.12 L468.0,518.12 L469.0,518.11 L470.0,518.10 L471.0,518.10 L472.0,518.09 L473.0,518.08 L474.0,518.07 L475.0,518.07 L476.0,518.06 L477.0,518.05 L478.0,518.04 L479.0,518.04 L480.0,518.03 L481.0,518.02 L482.0,518.01 L483.0,518.00 L484.0,517.99 L485.0,517.98 L486.0,517.97 L487.0,517.97 L488.0,517.96 L489.0,517.95 L490.0,517.94 L491.0,517.93 L492.0,517.92 L493.0,517.91 L494.0,517.90 L495.0,517.89 L496.0,517.88 L497.0,517.86 L498.0,517.85 L499.0,517.84 L500.0,517.83 L501.0,517.82 L502.0,517.81 L503.0,517.80 L504.0,517.79 L505.0,517.77 L506.0,517.76 L507.0,517.75 L508.0,517.74 L509.0,517.72 L510.0,517.71 L511.0,517.70 L512.0,517.69 L513.0,517.67 L514.0,517.66 L515.0,517.65 L516.0,517.63 L517.0,517.62 L518.0,517.61 L519.0,517.59 L520.0,517.58 L521.0,517.56 L522.0,517.55 L523.0,517.54 L524.0,517.52 L525.0,517.51 L526.0,517.49 L527.0,517.48 L528.0,517.46 L529.0,517.45 L530.0,517.43 L531.0,517.41 L532.0,517.40 L533.0,517.38 L534.0,517.37 L535.0,517.35 L536.0,517.33 L537.0,517.32 L538.0,517.30 L539.0,517.28 L540.0,517.27 L541.0,517.25 L542.0,517.23 L543.0,517.22 L544.0,517.20 L545.0,517.18 L546.0,517.16 L547.0,517.15 L548.0,517.13 L549.0,517.11 L550.0,517.09 L551.0,517.07 L552.0,517.06 L553.0,517.04 L554.0,517.02 L555.0,517.00 L556.0,516.98 L557.0,516.96 L558.0,516.94 L559.0,516.91 L560.0,516.89 L561.0,516.86 L562.0,516.83 L563.0,516.81 L564.0,516.77 L565.0,516.74 L566.0,516.71 L567.0,516.67 L568.0,516.64 L569.0,516.60 L570.0,516.55 L571.0,516.51 L572.0,516.47 L573.0,516.42 L574.0,516.37 L575.0,516.32 L576.0,516.26 L577.0,516.21 L578.0,516.15 L579.0,516.09 L580.0,516.02 L581.0,515.96 L582.0,515.89 L583.0,515.82 L584.0,515.74 L585.0,515.67 L586.0,515.59 L587.0,515.50 L588.0,515.42 L589.0,515.33 L590.0,515.24 L591.0,515.14 L592.0,515.03 L593.0,514.90 L594.0,514.74 L595.0,514.56 L596.0,514.33 L597.0,514.08 L598.0,513.79 L599.0,513.47 L600.0,513.13 L601.0,512.76 L602.0,512.36 L603.0,511.95 L604.0,511.52 L605.0,511.07 L606.0,510.61 L607.0,510.14 L608.0,509.67 L609.0,509.19 L610.0,508.71 L611.0,508.22 L612.0,507.72 L613.0,507.22 L614.0,506.69 L615.0,506.14 L616.0,505.56 L617.0,504.95 L618.0,504.32 L619.0,503.67 L620.0,503.00 L621.0,502.32 L622.0,501.63 L623.0,500.93 L624.0,500.24 L625.0,499.55 L626.0,498.87 L627.0,498.20 L628.0,497.54 L629.0,496.89 L630.0,496.26 L631.0,495.63 L632.0,495.01 L633.0,494.38 L634.0,493.75 L635.0,493.11 L636.0,492.48 L637.0,491.86 L638.0,491.24 L639.0,490.63 L640.0,490.03 L641.0,489.46 L642.0,488.90 L643.0,488.36 L644.0,487.85 L645.0,487.37 L646.0,486.91 L647.0,486.48 L648.0,486.07 L649.0,485.67 L650.0,485.27 L651.0,484.88 L652.0,484.49 L653.0,484.11 L654.0,483.74 L655.0,483.38 L656.0,483.03 L657.0,482.71 L658.0,482.42 L659.0,482.15 L660.0,481.91 L661.0,481.71 L662.0,481.55 L663.0,481.43 L664.0,481.35 L665.0,481.31 L666.0,481.32 L667.0,481.36 L668.0,481.43 L669.0,481.52 L670.0,481.64 L671.0,481.78 L672.0,481.94 L673.0,482.14 L674.0,482.38 L675.0,482.69 L676.0,483.11 L677.0,483.67 L678.0,484.39 L679.0,485.26 L680.0,486.25 L681.0,487.34 L682.0,488.50 L683.0,489.70 L684.0,490.92 L685.0,492.12 L686.0,493.28 L687.0,494.41 L688.0,495.51 L689.0,496.59 L690.0,497.69 L691.0,498.79 L692.0,499.89 L693.0,500.99 L694.0,502.07 L695.0,503.12 L696.0,504.11 L697.0,505.05 L698.0,505.91 L699.0,506.69 L700.0,507.40 L701.0,508.06 L702.0,508.68 L703.0,509.27 L704.0,509.84 L705.0,510.39 L706.0,510.92 L707.0,511.44 L708.0,511.92 L709.0,512.38 L710.0,512.82 L711.0,513.22 L712.0,513.59 L713.0,513.92 L714.0,514.22 L715.0,514.47 L716.0,514.69 L717.0,514.88 L718.0,515.04 L719.0,515.17 L720.0,515.30 L721.0,515.41 L722.0,515.53 L723.0,515.64 L724.0,515.74 L725.0,515.84 L726.0,515.94 L727.0,516.04 L728.0,516.13 L729.0,516.22 L730.0,516.30 L731.0,516.38 L732.0,516.46 L733.0,516.54 L734.0,516.61 L735.0,516.68 L736.0,516.75 L737.0,516.81 L738.0,516.87 L739.0,516.93 L740.0,516.98 L741.0,517.04 L742.0,517.08 L743.0,517.13 L744.0,517.18 L745.0,517.22 L746.0,517.26 L747.0,517.29 L748.0,517.33 L749.0,517.36 L750.0,517.39 L751.0,517.41 L752.0,517.44 L753.0,517.46 L754.0,517.48 L755.0,517.50 L756.0,517.52 L757.0,517.53 L758.0,517.55 L759.0,517.56 L760.0,517.58 L761.0,517.59 L762.0,517.61 L763.0,517.62 L764.0,517.64 L765.0,517.65 L766.0,517.67 L767.0,517.68 L768.0,517.70 L769.0,517.71 L770.0,517.73 L771.0,517.74 L772.0,517.75 L773.0,517.77 L774.0,517.78 L775.0,517.79 L776.0,517.80 L777.0,517.82 L778.0,517.83 L779.0,517.84 L780.0,517.85 L781.0,517.86 L782.0,517.88 L783.0,517.89 L784.0,517.90 L785.0,517.91 L786.0,517.92 L787.0,517.93 L788.0,517.94 L789.0,517.95 L790.0,517.96 L791.0,517.97 L792.0,517.98 L793.0,517.99 L794.0,518.00 L795.0,518.01 L796.0,518.02 L797.0,518.03 L798.0,518.04 L799.0,518.05 L800.0,518.06 L801.0,518.06 L802.0,518.07 L803.0,518.08 L804.0,518.09 L805.0,518.09 L806.0,518.10 L807.0,518.11 L808.0,518.12 L809.0,518.12 L810.0,518.13 L811.0,518.14 L812.0,518.14 L813.0,518.15 L814.0,518.15 L815.0,518.16 L816.0,518.17 L817.0,518.17 L818.0,518.18 L819.0,518.18 L820.0,518.19 L821.0,518.19 L822.0,518.20 L823.0,518.20 L824.0,518.20 L825.0,518.21 L826.0,518.21 L827.0,518.22 L828.0,518.22 L829.0,518.22 L830.0,518.22 L831.0,518.23 L832.0,518.23 L833.0,518.23 L834.0,518.24 L835.0,518.24 L836.0,518.24 L837.0,518.24 L838.0,518.24 L839.0,518.24 L840.0,518.25 L841.0,518.25 L842.0,518.25 L843.0,518.25 L844.0,518.25 L845.0,518.25 L846.0,518.25" fill="none" stroke="#e1b349" stroke-width="1.5"/>
<text x="427.7" y="509.25" font-size="9.9" font-weight="400" fill="#242424" textLength="41.25" lengthAdjust="spacingAndGlyphs"  stroke="#242424" stroke-width="0.25">San Diego</text>
<line x1="668.36" y1="491.75" x2="668.36" y2="518.25" stroke="#1b4f8a" stroke-width="1.5"/>
<circle cx="668.36" cy="491.75" r="2.1" fill="#1b4f8a"/>
<text x="674.2591397849462" y="495.45" font-size="9.2" font-weight="700" fill="#1f5a9e" textLength="21" lengthAdjust="spacingAndGlyphs" >62%</text>
<text x="674.2591397849462" y="505.95" font-size="7.6" font-weight="400" fill="#5e5e5e" textLength="42" lengthAdjust="spacingAndGlyphs"  stroke="#5e5e5e" stroke-width="0.1">(116 of 186)</text>
<path d="M427.0,555.50 L428.0,555.50 L429.0,555.50 L430.0,555.50 L431.0,555.50 L432.0,555.50 L433.0,555.50 L434.0,555.50 L435.0,555.50 L436.0,555.50 L437.0,555.50 L438.0,555.50 L439.0,555.50 L440.0,555.50 L441.0,555.50 L442.0,555.49 L443.0,555.49 L444.0,555.49 L445.0,555.49 L446.0,555.49 L447.0,555.49 L448.0,555.49 L449.0,555.49 L450.0,555.49 L451.0,555.49 L452.0,555.48 L453.0,555.48 L454.0,555.48 L455.0,555.48 L456.0,555.48 L457.0,555.48 L458.0,555.48 L459.0,555.47 L460.0,555.47 L461.0,555.47 L462.0,555.47 L463.0,555.47 L464.0,555.46 L465.0,555.46 L466.0,555.46 L467.0,555.46 L468.0,555.46 L469.0,555.45 L470.0,555.45 L471.0,555.45 L472.0,555.45 L473.0,555.44 L474.0,555.44 L475.0,555.44 L476.0,555.44 L477.0,555.43 L478.0,555.43 L479.0,555.43 L480.0,555.42 L481.0,555.42 L482.0,555.42 L483.0,555.42 L484.0,555.41 L485.0,555.41 L486.0,555.41 L487.0,555.40 L488.0,555.40 L489.0,555.40 L490.0,555.39 L491.0,555.39 L492.0,555.38 L493.0,555.38 L494.0,555.38 L495.0,555.37 L496.0,555.37 L497.0,555.36 L498.0,555.36 L499.0,555.36 L500.0,555.35 L501.0,555.35 L502.0,555.34 L503.0,555.34 L504.0,555.33 L505.0,555.33 L506.0,555.32 L507.0,555.32 L508.0,555.32 L509.0,555.31 L510.0,555.31 L511.0,555.30 L512.0,555.29 L513.0,555.29 L514.0,555.28 L515.0,555.28 L516.0,555.27 L517.0,555.27 L518.0,555.26 L519.0,555.26 L520.0,555.25 L521.0,555.24 L522.0,555.24 L523.0,555.23 L524.0,555.23 L525.0,555.22 L526.0,555.21 L527.0,555.21 L528.0,555.20 L529.0,555.20 L530.0,555.19 L531.0,555.18 L532.0,555.18 L533.0,555.17 L534.0,555.16 L535.0,555.15 L536.0,555.15 L537.0,555.14 L538.0,555.13 L539.0,555.13 L540.0,555.12 L541.0,555.11 L542.0,555.10 L543.0,555.10 L544.0,555.09 L545.0,555.08 L546.0,555.07 L547.0,555.06 L548.0,555.06 L549.0,555.05 L550.0,555.04 L551.0,555.03 L552.0,555.02 L553.0,555.01 L554.0,555.01 L555.0,555.00 L556.0,554.99 L557.0,554.98 L558.0,554.97 L559.0,554.96 L560.0,554.95 L561.0,554.94 L562.0,554.93 L563.0,554.92 L564.0,554.91 L565.0,554.91 L566.0,554.90 L567.0,554.89 L568.0,554.88 L569.0,554.87 L570.0,554.86 L571.0,554.85 L572.0,554.84 L573.0,554.82 L574.0,554.81 L575.0,554.80 L576.0,554.79 L577.0,554.78 L578.0,554.77 L579.0,554.76 L580.0,554.75 L581.0,554.73 L582.0,554.72 L583.0,554.70 L584.0,554.68 L585.0,554.65 L586.0,554.63 L587.0,554.59 L588.0,554.56 L589.0,554.52 L590.0,554.49 L591.0,554.44 L592.0,554.40 L593.0,554.35 L594.0,554.30 L595.0,554.24 L596.0,554.19 L597.0,554.13 L598.0,554.06 L599.0,554.00 L600.0,553.93 L601.0,553.86 L602.0,553.78 L603.0,553.70 L604.0,553.62 L605.0,553.54 L606.0,553.45 L607.0,553.36 L608.0,553.27 L609.0,553.18 L610.0,553.08 L611.0,552.98 L612.0,552.87 L613.0,552.76 L614.0,552.65 L615.0,552.54 L616.0,552.42 L617.0,552.29 L618.0,552.14 L619.0,551.97 L620.0,551.77 L621.0,551.54 L622.0,551.28 L623.0,550.99 L624.0,550.67 L625.0,550.32 L626.0,549.95 L627.0,549.56 L628.0,549.15 L629.0,548.73 L630.0,548.29 L631.0,547.83 L632.0,547.37 L633.0,546.90 L634.0,546.43 L635.0,545.95 L636.0,545.46 L637.0,544.97 L638.0,544.47 L639.0,543.94 L640.0,543.39 L641.0,542.82 L642.0,542.21 L643.0,541.58 L644.0,540.94 L645.0,540.27 L646.0,539.60 L647.0,538.91 L648.0,538.22 L649.0,537.52 L650.0,536.83 L651.0,536.15 L652.0,535.47 L653.0,534.80 L654.0,534.15 L655.0,533.50 L656.0,532.84 L657.0,532.18 L658.0,531.51 L659.0,530.84 L660.0,530.17 L661.0,529.51 L662.0,528.88 L663.0,528.27 L664.0,527.69 L665.0,527.17 L666.0,526.69 L667.0,526.26 L668.0,525.86 L669.0,525.50 L670.0,525.16 L671.0,524.83 L672.0,524.51 L673.0,524.21 L674.0,523.94 L675.0,523.70 L676.0,523.49 L677.0,523.32 L678.0,523.19 L679.0,523.10 L680.0,523.06 L681.0,523.05 L682.0,523.08 L683.0,523.13 L684.0,523.20 L685.0,523.29 L686.0,523.39 L687.0,523.51 L688.0,523.65 L689.0,523.80 L690.0,523.96 L691.0,524.13 L692.0,524.31 L693.0,524.50 L694.0,524.70 L695.0,524.91 L696.0,525.12 L697.0,525.34 L698.0,525.56 L699.0,525.79 L700.0,526.03 L701.0,526.29 L702.0,526.57 L703.0,526.88 L704.0,527.22 L705.0,527.58 L706.0,527.97 L707.0,528.39 L708.0,528.82 L709.0,529.27 L710.0,529.74 L711.0,530.22 L712.0,530.71 L713.0,531.21 L714.0,531.72 L715.0,532.23 L716.0,532.74 L717.0,533.26 L718.0,533.79 L719.0,534.34 L720.0,534.92 L721.0,535.51 L722.0,536.13 L723.0,536.77 L724.0,537.43 L725.0,538.10 L726.0,538.78 L727.0,539.46 L728.0,540.14 L729.0,540.82 L730.0,541.50 L731.0,542.16 L732.0,542.81 L733.0,543.44 L734.0,544.04 L735.0,544.63 L736.0,545.18 L737.0,545.72 L738.0,546.23 L739.0,546.74 L740.0,547.24 L741.0,547.73 L742.0,548.23 L743.0,548.72 L744.0,549.20 L745.0,549.66 L746.0,550.12 L747.0,550.55 L748.0,550.96 L749.0,551.35 L750.0,551.70 L751.0,552.02 L752.0,552.31 L753.0,552.56 L754.0,552.78 L755.0,552.96 L756.0,553.12 L757.0,553.26 L758.0,553.39 L759.0,553.51 L760.0,553.63 L761.0,553.75 L762.0,553.86 L763.0,553.96 L764.0,554.06 L765.0,554.16 L766.0,554.25 L767.0,554.34 L768.0,554.42 L769.0,554.49 L770.0,554.56 L771.0,554.63 L772.0,554.69 L773.0,554.75 L774.0,554.80 L775.0,554.84 L776.0,554.88 L777.0,554.92 L778.0,554.95 L779.0,554.97 L780.0,555.00 L781.0,555.01 L782.0,555.03 L783.0,555.05 L784.0,555.06 L785.0,555.07 L786.0,555.09 L787.0,555.10 L788.0,555.12 L789.0,555.13 L790.0,555.14 L791.0,555.16 L792.0,555.17 L793.0,555.18 L794.0,555.19 L795.0,555.21 L796.0,555.22 L797.0,555.23 L798.0,555.24 L799.0,555.25 L800.0,555.26 L801.0,555.27 L802.0,555.28 L803.0,555.29 L804.0,555.30 L805.0,555.31 L806.0,555.32 L807.0,555.33 L808.0,555.34 L809.0,555.35 L810.0,555.35 L811.0,555.36 L812.0,555.37 L813.0,555.38 L814.0,555.39 L815.0,555.39 L816.0,555.40 L817.0,555.41 L818.0,555.41 L819.0,555.42 L820.0,555.42 L821.0,555.43 L822.0,555.44 L823.0,555.44 L824.0,555.45 L825.0,555.45 L826.0,555.45 L827.0,555.46 L828.0,555.46 L829.0,555.47 L830.0,555.47 L831.0,555.47 L832.0,555.48 L833.0,555.48 L834.0,555.48 L835.0,555.49 L836.0,555.49 L837.0,555.49 L838.0,555.49 L839.0,555.49 L840.0,555.50 L841.0,555.50 L842.0,555.50 L843.0,555.50 L844.0,555.50 L845.0,555.50 L846.0,555.50 L846.7,555.5 L427,555.5 Z" fill="#f1dca6"/>
<path d="M427.0,555.50 L428.0,555.50 L429.0,555.50 L430.0,555.50 L431.0,555.50 L432.0,555.50 L433.0,555.50 L434.0,555.50 L435.0,555.50 L436.0,555.50 L437.0,555.50 L438.0,555.50 L439.0,555.50 L440.0,555.50 L441.0,555.50 L442.0,555.49 L443.0,555.49 L444.0,555.49 L445.0,555.49 L446.0,555.49 L447.0,555.49 L448.0,555.49 L449.0,555.49 L450.0,555.49 L451.0,555.49 L452.0,555.48 L453.0,555.48 L454.0,555.48 L455.0,555.48 L456.0,555.48 L457.0,555.48 L458.0,555.48 L459.0,555.47 L460.0,555.47 L461.0,555.47 L462.0,555.47 L463.0,555.47 L464.0,555.46 L465.0,555.46 L466.0,555.46 L467.0,555.46 L468.0,555.46 L469.0,555.45 L470.0,555.45 L471.0,555.45 L472.0,555.45 L473.0,555.44 L474.0,555.44 L475.0,555.44 L476.0,555.44 L477.0,555.43 L478.0,555.43 L479.0,555.43 L480.0,555.42 L481.0,555.42 L482.0,555.42 L483.0,555.42 L484.0,555.41 L485.0,555.41 L486.0,555.41 L487.0,555.40 L488.0,555.40 L489.0,555.40 L490.0,555.39 L491.0,555.39 L492.0,555.38 L493.0,555.38 L494.0,555.38 L495.0,555.37 L496.0,555.37 L497.0,555.36 L498.0,555.36 L499.0,555.36 L500.0,555.35 L501.0,555.35 L502.0,555.34 L503.0,555.34 L504.0,555.33 L505.0,555.33 L506.0,555.32 L507.0,555.32 L508.0,555.32 L509.0,555.31 L510.0,555.31 L511.0,555.30 L512.0,555.29 L513.0,555.29 L514.0,555.28 L515.0,555.28 L516.0,555.27 L517.0,555.27 L518.0,555.26 L519.0,555.26 L520.0,555.25 L521.0,555.24 L522.0,555.24 L523.0,555.23 L524.0,555.23 L525.0,555.22 L526.0,555.21 L527.0,555.21 L528.0,555.20 L529.0,555.20 L530.0,555.19 L531.0,555.18 L532.0,555.18 L533.0,555.17 L534.0,555.16 L535.0,555.15 L536.0,555.15 L537.0,555.14 L538.0,555.13 L539.0,555.13 L540.0,555.12 L541.0,555.11 L542.0,555.10 L543.0,555.10 L544.0,555.09 L545.0,555.08 L546.0,555.07 L547.0,555.06 L548.0,555.06 L549.0,555.05 L550.0,555.04 L551.0,555.03 L552.0,555.02 L553.0,555.01 L554.0,555.01 L555.0,555.00 L556.0,554.99 L557.0,554.98 L558.0,554.97 L559.0,554.96 L560.0,554.95 L561.0,554.94 L562.0,554.93 L563.0,554.92 L564.0,554.91 L565.0,554.91 L566.0,554.90 L567.0,554.89 L568.0,554.88 L569.0,554.87 L570.0,554.86 L571.0,554.85 L572.0,554.84 L573.0,554.82 L574.0,554.81 L575.0,554.80 L576.0,554.79 L577.0,554.78 L578.0,554.77 L579.0,554.76 L580.0,554.75 L581.0,554.73 L582.0,554.72 L583.0,554.70 L584.0,554.68 L585.0,554.65 L586.0,554.63 L587.0,554.59 L588.0,554.56 L589.0,554.52 L590.0,554.49 L591.0,554.44 L592.0,554.40 L593.0,554.35 L594.0,554.30 L595.0,554.24 L596.0,554.19 L597.0,554.13 L598.0,554.06 L599.0,554.00 L600.0,553.93 L601.0,553.86 L602.0,553.78 L603.0,553.70 L604.0,553.62 L605.0,553.54 L606.0,553.45 L607.0,553.36 L608.0,553.27 L609.0,553.18 L610.0,553.08 L611.0,552.98 L612.0,552.87 L613.0,552.76 L614.0,552.65 L615.0,552.54 L616.0,552.42 L617.0,552.29 L618.0,552.14 L619.0,551.97 L620.0,551.77 L621.0,551.54 L622.0,551.28 L623.0,550.99 L624.0,550.67 L625.0,550.32 L626.0,549.95 L627.0,549.56 L628.0,549.15 L629.0,548.73 L630.0,548.29 L631.0,547.83 L632.0,547.37 L633.0,546.90 L634.0,546.43 L635.0,545.95 L636.0,545.46 L637.0,544.97 L638.0,544.47 L639.0,543.94 L640.0,543.39 L641.0,542.82 L642.0,542.21 L643.0,541.58 L644.0,540.94 L645.0,540.27 L646.0,539.60 L647.0,538.91 L648.0,538.22 L649.0,537.52 L650.0,536.83 L651.0,536.15 L652.0,535.47 L653.0,534.80 L654.0,534.15 L655.0,533.50 L656.0,532.84 L657.0,532.18 L658.0,531.51 L659.0,530.84 L660.0,530.17 L661.0,529.51 L662.0,528.88 L663.0,528.27 L664.0,527.69 L665.0,527.17 L666.0,526.69 L667.0,526.26 L668.0,525.86 L669.0,525.50 L670.0,525.16 L671.0,524.83 L672.0,524.51 L673.0,524.21 L674.0,523.94 L675.0,523.70 L676.0,523.49 L677.0,523.32 L678.0,523.19 L679.0,523.10 L680.0,523.06 L681.0,523.05 L682.0,523.08 L683.0,523.13 L684.0,523.20 L685.0,523.29 L686.0,523.39 L687.0,523.51 L688.0,523.65 L689.0,523.80 L690.0,523.96 L691.0,524.13 L692.0,524.31 L693.0,524.50 L694.0,524.70 L695.0,524.91 L696.0,525.12 L697.0,525.34 L698.0,525.56 L699.0,525.79 L700.0,526.03 L701.0,526.29 L702.0,526.57 L703.0,526.88 L704.0,527.22 L705.0,527.58 L706.0,527.97 L707.0,528.39 L708.0,528.82 L709.0,529.27 L710.0,529.74 L711.0,530.22 L712.0,530.71 L713.0,531.21 L714.0,531.72 L715.0,532.23 L716.0,532.74 L717.0,533.26 L718.0,533.79 L719.0,534.34 L720.0,534.92 L721.0,535.51 L722.0,536.13 L723.0,536.77 L724.0,537.43 L725.0,538.10 L726.0,538.78 L727.0,539.46 L728.0,540.14 L729.0,540.82 L730.0,541.50 L731.0,542.16 L732.0,542.81 L733.0,543.44 L734.0,544.04 L735.0,544.63 L736.0,545.18 L737.0,545.72 L738.0,546.23 L739.0,546.74 L740.0,547.24 L741.0,547.73 L742.0,548.23 L743.0,548.72 L744.0,549.20 L745.0,549.66 L746.0,550.12 L747.0,550.55 L748.0,550.96 L749.0,551.35 L750.0,551.70 L751.0,552.02 L752.0,552.31 L753.0,552.56 L754.0,552.78 L755.0,552.96 L756.0,553.12 L757.0,553.26 L758.0,553.39 L759.0,553.51 L760.0,553.63 L761.0,553.75 L762.0,553.86 L763.0,553.96 L764.0,554.06 L765.0,554.16 L766.0,554.25 L767.0,554.34 L768.0,554.42 L769.0,554.49 L770.0,554.56 L771.0,554.63 L772.0,554.69 L773.0,554.75 L774.0,554.80 L775.0,554.84 L776.0,554.88 L777.0,554.92 L778.0,554.95 L779.0,554.97 L780.0,555.00 L781.0,555.01 L782.0,555.03 L783.0,555.05 L784.0,555.06 L785.0,555.07 L786.0,555.09 L787.0,555.10 L788.0,555.12 L789.0,555.13 L790.0,555.14 L791.0,555.16 L792.0,555.17 L793.0,555.18 L794.0,555.19 L795.0,555.21 L796.0,555.22 L797.0,555.23 L798.0,555.24 L799.0,555.25 L800.0,555.26 L801.0,555.27 L802.0,555.28 L803.0,555.29 L804.0,555.30 L805.0,555.31 L806.0,555.32 L807.0,555.33 L808.0,555.34 L809.0,555.35 L810.0,555.35 L811.0,555.36 L812.0,555.37 L813.0,555.38 L814.0,555.39 L815.0,555.39 L816.0,555.40 L817.0,555.41 L818.0,555.41 L819.0,555.42 L820.0,555.42 L821.0,555.43 L822.0,555.44 L823.0,555.44 L824.0,555.45 L825.0,555.45 L826.0,555.45 L827.0,555.46 L828.0,555.46 L829.0,555.47 L830.0,555.47 L831.0,555.47 L832.0,555.48 L833.0,555.48 L834.0,555.48 L835.0,555.49 L836.0,555.49 L837.0,555.49 L838.0,555.49 L839.0,555.49 L840.0,555.50 L841.0,555.50 L842.0,555.50 L843.0,555.50 L844.0,555.50 L845.0,555.50 L846.0,555.50" fill="none" stroke="#e1b349" stroke-width="1.5"/>
<text x="427.7" y="546.5" font-size="9.9" font-weight="400" fill="#242424" textLength="31.25" lengthAdjust="spacingAndGlyphs"  stroke="#242424" stroke-width="0.25">Merced</text>
<line x1="705.71" y1="529.0" x2="705.71" y2="555.5" stroke="#1b4f8a" stroke-width="1.5"/>
<circle cx="705.71" cy="529.0" r="2.1" fill="#1b4f8a"/>
<text x="711.6148936170214" y="532.7" font-size="9.2" font-weight="700" fill="#1f5a9e" textLength="21" lengthAdjust="spacingAndGlyphs" >72%</text>
<text x="711.6148936170214" y="543.2" font-size="7.6" font-weight="400" fill="#5e5e5e" textLength="33.3" lengthAdjust="spacingAndGlyphs"  stroke="#5e5e5e" stroke-width="0.1">(34 of 47)</text>
<path d="M427.0,592.50 L428.0,592.50 L429.0,592.50 L430.0,592.50 L431.0,592.50 L432.0,592.50 L433.0,592.50 L434.0,592.50 L435.0,592.50 L436.0,592.49 L437.0,592.49 L438.0,592.49 L439.0,592.49 L440.0,592.49 L441.0,592.49 L442.0,592.49 L443.0,592.48 L444.0,592.48 L445.0,592.48 L446.0,592.48 L447.0,592.47 L448.0,592.47 L449.0,592.47 L450.0,592.47 L451.0,592.46 L452.0,592.46 L453.0,592.46 L454.0,592.45 L455.0,592.45 L456.0,592.45 L457.0,592.44 L458.0,592.44 L459.0,592.44 L460.0,592.43 L461.0,592.43 L462.0,592.42 L463.0,592.42 L464.0,592.41 L465.0,592.41 L466.0,592.40 L467.0,592.40 L468.0,592.39 L469.0,592.39 L470.0,592.38 L471.0,592.38 L472.0,592.37 L473.0,592.37 L474.0,592.36 L475.0,592.35 L476.0,592.35 L477.0,592.34 L478.0,592.33 L479.0,592.33 L480.0,592.32 L481.0,592.31 L482.0,592.31 L483.0,592.30 L484.0,592.29 L485.0,592.29 L486.0,592.28 L487.0,592.27 L488.0,592.26 L489.0,592.26 L490.0,592.25 L491.0,592.24 L492.0,592.23 L493.0,592.22 L494.0,592.21 L495.0,592.21 L496.0,592.20 L497.0,592.19 L498.0,592.18 L499.0,592.17 L500.0,592.16 L501.0,592.15 L502.0,592.14 L503.0,592.13 L504.0,592.12 L505.0,592.11 L506.0,592.10 L507.0,592.09 L508.0,592.08 L509.0,592.07 L510.0,592.06 L511.0,592.05 L512.0,592.04 L513.0,592.03 L514.0,592.02 L515.0,592.01 L516.0,592.00 L517.0,591.98 L518.0,591.97 L519.0,591.96 L520.0,591.95 L521.0,591.94 L522.0,591.93 L523.0,591.91 L524.0,591.90 L525.0,591.89 L526.0,591.88 L527.0,591.86 L528.0,591.85 L529.0,591.84 L530.0,591.82 L531.0,591.81 L532.0,591.80 L533.0,591.78 L534.0,591.77 L535.0,591.76 L536.0,591.74 L537.0,591.73 L538.0,591.71 L539.0,591.70 L540.0,591.69 L541.0,591.67 L542.0,591.66 L543.0,591.64 L544.0,591.63 L545.0,591.61 L546.0,591.60 L547.0,591.58 L548.0,591.56 L549.0,591.55 L550.0,591.53 L551.0,591.52 L552.0,591.50 L553.0,591.49 L554.0,591.47 L555.0,591.45 L556.0,591.44 L557.0,591.42 L558.0,591.40 L559.0,591.39 L560.0,591.37 L561.0,591.35 L562.0,591.33 L563.0,591.32 L564.0,591.30 L565.0,591.28 L566.0,591.26 L567.0,591.25 L568.0,591.23 L569.0,591.21 L570.0,591.19 L571.0,591.17 L572.0,591.15 L573.0,591.13 L574.0,591.12 L575.0,591.10 L576.0,591.08 L577.0,591.06 L578.0,591.04 L579.0,591.02 L580.0,591.00 L581.0,590.98 L582.0,590.96 L583.0,590.93 L584.0,590.91 L585.0,590.88 L586.0,590.85 L587.0,590.82 L588.0,590.79 L589.0,590.76 L590.0,590.72 L591.0,590.69 L592.0,590.65 L593.0,590.61 L594.0,590.56 L595.0,590.52 L596.0,590.47 L597.0,590.42 L598.0,590.37 L599.0,590.32 L600.0,590.26 L601.0,590.20 L602.0,590.14 L603.0,590.08 L604.0,590.01 L605.0,589.95 L606.0,589.88 L607.0,589.80 L608.0,589.73 L609.0,589.65 L610.0,589.57 L611.0,589.49 L612.0,589.40 L613.0,589.31 L614.0,589.22 L615.0,589.12 L616.0,589.02 L617.0,588.92 L618.0,588.82 L619.0,588.71 L620.0,588.60 L621.0,588.48 L622.0,588.37 L623.0,588.24 L624.0,588.11 L625.0,587.95 L626.0,587.77 L627.0,587.55 L628.0,587.29 L629.0,586.99 L630.0,586.64 L631.0,586.26 L632.0,585.84 L633.0,585.39 L634.0,584.92 L635.0,584.43 L636.0,583.92 L637.0,583.40 L638.0,582.87 L639.0,582.34 L640.0,581.81 L641.0,581.28 L642.0,580.75 L643.0,580.21 L644.0,579.66 L645.0,579.09 L646.0,578.50 L647.0,577.88 L648.0,577.25 L649.0,576.60 L650.0,575.94 L651.0,575.27 L652.0,574.59 L653.0,573.91 L654.0,573.23 L655.0,572.56 L656.0,571.90 L657.0,571.25 L658.0,570.62 L659.0,570.00 L660.0,569.41 L661.0,568.84 L662.0,568.29 L663.0,567.77 L664.0,567.26 L665.0,566.76 L666.0,566.27 L667.0,565.79 L668.0,565.32 L669.0,564.86 L670.0,564.40 L671.0,563.96 L672.0,563.52 L673.0,563.10 L674.0,562.69 L675.0,562.29 L676.0,561.91 L677.0,561.54 L678.0,561.18 L679.0,560.84 L680.0,560.50 L681.0,560.17 L682.0,559.84 L683.0,559.51 L684.0,559.17 L685.0,558.84 L686.0,558.52 L687.0,558.22 L688.0,557.93 L689.0,557.66 L690.0,557.43 L691.0,557.22 L692.0,557.06 L693.0,556.94 L694.0,556.88 L695.0,556.88 L696.0,556.96 L697.0,557.12 L698.0,557.37 L699.0,557.69 L700.0,558.07 L701.0,558.51 L702.0,558.98 L703.0,559.48 L704.0,560.00 L705.0,560.55 L706.0,561.13 L707.0,561.75 L708.0,562.42 L709.0,563.14 L710.0,563.92 L711.0,564.73 L712.0,565.59 L713.0,566.47 L714.0,567.38 L715.0,568.30 L716.0,569.24 L717.0,570.18 L718.0,571.13 L719.0,572.08 L720.0,573.05 L721.0,574.04 L722.0,575.06 L723.0,576.12 L724.0,577.19 L725.0,578.26 L726.0,579.31 L727.0,580.31 L728.0,581.25 L729.0,582.11 L730.0,582.90 L731.0,583.63 L732.0,584.31 L733.0,584.97 L734.0,585.60 L735.0,586.20 L736.0,586.77 L737.0,587.29 L738.0,587.77 L739.0,588.19 L740.0,588.55 L741.0,588.84 L742.0,589.08 L743.0,589.27 L744.0,589.42 L745.0,589.55 L746.0,589.67 L747.0,589.77 L748.0,589.87 L749.0,589.97 L750.0,590.06 L751.0,590.14 L752.0,590.22 L753.0,590.30 L754.0,590.37 L755.0,590.43 L756.0,590.50 L757.0,590.55 L758.0,590.61 L759.0,590.66 L760.0,590.71 L761.0,590.75 L762.0,590.80 L763.0,590.84 L764.0,590.87 L765.0,590.91 L766.0,590.95 L767.0,590.98 L768.0,591.02 L769.0,591.05 L770.0,591.08 L771.0,591.11 L772.0,591.15 L773.0,591.18 L774.0,591.21 L775.0,591.24 L776.0,591.27 L777.0,591.30 L778.0,591.33 L779.0,591.36 L780.0,591.39 L781.0,591.42 L782.0,591.45 L783.0,591.48 L784.0,591.51 L785.0,591.54 L786.0,591.57 L787.0,591.59 L788.0,591.62 L789.0,591.65 L790.0,591.68 L791.0,591.70 L792.0,591.73 L793.0,591.75 L794.0,591.78 L795.0,591.80 L796.0,591.83 L797.0,591.85 L798.0,591.88 L799.0,591.90 L800.0,591.92 L801.0,591.95 L802.0,591.97 L803.0,591.99 L804.0,592.01 L805.0,592.03 L806.0,592.05 L807.0,592.08 L808.0,592.10 L809.0,592.11 L810.0,592.13 L811.0,592.15 L812.0,592.17 L813.0,592.19 L814.0,592.21 L815.0,592.22 L816.0,592.24 L817.0,592.26 L818.0,592.27 L819.0,592.29 L820.0,592.30 L821.0,592.31 L822.0,592.33 L823.0,592.34 L824.0,592.35 L825.0,592.37 L826.0,592.38 L827.0,592.39 L828.0,592.40 L829.0,592.41 L830.0,592.42 L831.0,592.43 L832.0,592.44 L833.0,592.44 L834.0,592.45 L835.0,592.46 L836.0,592.47 L837.0,592.47 L838.0,592.48 L839.0,592.48 L840.0,592.49 L841.0,592.49 L842.0,592.49 L843.0,592.50 L844.0,592.50 L845.0,592.50 L846.0,592.50 L846.7,592.5 L427,592.5 Z" fill="#f1dca6"/>
<path d="M427.0,592.50 L428.0,592.50 L429.0,592.50 L430.0,592.50 L431.0,592.50 L432.0,592.50 L433.0,592.50 L434.0,592.50 L435.0,592.50 L436.0,592.49 L437.0,592.49 L438.0,592.49 L439.0,592.49 L440.0,592.49 L441.0,592.49 L442.0,592.49 L443.0,592.48 L444.0,592.48 L445.0,592.48 L446.0,592.48 L447.0,592.47 L448.0,592.47 L449.0,592.47 L450.0,592.47 L451.0,592.46 L452.0,592.46 L453.0,592.46 L454.0,592.45 L455.0,592.45 L456.0,592.45 L457.0,592.44 L458.0,592.44 L459.0,592.44 L460.0,592.43 L461.0,592.43 L462.0,592.42 L463.0,592.42 L464.0,592.41 L465.0,592.41 L466.0,592.40 L467.0,592.40 L468.0,592.39 L469.0,592.39 L470.0,592.38 L471.0,592.38 L472.0,592.37 L473.0,592.37 L474.0,592.36 L475.0,592.35 L476.0,592.35 L477.0,592.34 L478.0,592.33 L479.0,592.33 L480.0,592.32 L481.0,592.31 L482.0,592.31 L483.0,592.30 L484.0,592.29 L485.0,592.29 L486.0,592.28 L487.0,592.27 L488.0,592.26 L489.0,592.26 L490.0,592.25 L491.0,592.24 L492.0,592.23 L493.0,592.22 L494.0,592.21 L495.0,592.21 L496.0,592.20 L497.0,592.19 L498.0,592.18 L499.0,592.17 L500.0,592.16 L501.0,592.15 L502.0,592.14 L503.0,592.13 L504.0,592.12 L505.0,592.11 L506.0,592.10 L507.0,592.09 L508.0,592.08 L509.0,592.07 L510.0,592.06 L511.0,592.05 L512.0,592.04 L513.0,592.03 L514.0,592.02 L515.0,592.01 L516.0,592.00 L517.0,591.98 L518.0,591.97 L519.0,591.96 L520.0,591.95 L521.0,591.94 L522.0,591.93 L523.0,591.91 L524.0,591.90 L525.0,591.89 L526.0,591.88 L527.0,591.86 L528.0,591.85 L529.0,591.84 L530.0,591.82 L531.0,591.81 L532.0,591.80 L533.0,591.78 L534.0,591.77 L535.0,591.76 L536.0,591.74 L537.0,591.73 L538.0,591.71 L539.0,591.70 L540.0,591.69 L541.0,591.67 L542.0,591.66 L543.0,591.64 L544.0,591.63 L545.0,591.61 L546.0,591.60 L547.0,591.58 L548.0,591.56 L549.0,591.55 L550.0,591.53 L551.0,591.52 L552.0,591.50 L553.0,591.49 L554.0,591.47 L555.0,591.45 L556.0,591.44 L557.0,591.42 L558.0,591.40 L559.0,591.39 L560.0,591.37 L561.0,591.35 L562.0,591.33 L563.0,591.32 L564.0,591.30 L565.0,591.28 L566.0,591.26 L567.0,591.25 L568.0,591.23 L569.0,591.21 L570.0,591.19 L571.0,591.17 L572.0,591.15 L573.0,591.13 L574.0,591.12 L575.0,591.10 L576.0,591.08 L577.0,591.06 L578.0,591.04 L579.0,591.02 L580.0,591.00 L581.0,590.98 L582.0,590.96 L583.0,590.93 L584.0,590.91 L585.0,590.88 L586.0,590.85 L587.0,590.82 L588.0,590.79 L589.0,590.76 L590.0,590.72 L591.0,590.69 L592.0,590.65 L593.0,590.61 L594.0,590.56 L595.0,590.52 L596.0,590.47 L597.0,590.42 L598.0,590.37 L599.0,590.32 L600.0,590.26 L601.0,590.20 L602.0,590.14 L603.0,590.08 L604.0,590.01 L605.0,589.95 L606.0,589.88 L607.0,589.80 L608.0,589.73 L609.0,589.65 L610.0,589.57 L611.0,589.49 L612.0,589.40 L613.0,589.31 L614.0,589.22 L615.0,589.12 L616.0,589.02 L617.0,588.92 L618.0,588.82 L619.0,588.71 L620.0,588.60 L621.0,588.48 L622.0,588.37 L623.0,588.24 L624.0,588.11 L625.0,587.95 L626.0,587.77 L627.0,587.55 L628.0,587.29 L629.0,586.99 L630.0,586.64 L631.0,586.26 L632.0,585.84 L633.0,585.39 L634.0,584.92 L635.0,584.43 L636.0,583.92 L637.0,583.40 L638.0,582.87 L639.0,582.34 L640.0,581.81 L641.0,581.28 L642.0,580.75 L643.0,580.21 L644.0,579.66 L645.0,579.09 L646.0,578.50 L647.0,577.88 L648.0,577.25 L649.0,576.60 L650.0,575.94 L651.0,575.27 L652.0,574.59 L653.0,573.91 L654.0,573.23 L655.0,572.56 L656.0,571.90 L657.0,571.25 L658.0,570.62 L659.0,570.00 L660.0,569.41 L661.0,568.84 L662.0,568.29 L663.0,567.77 L664.0,567.26 L665.0,566.76 L666.0,566.27 L667.0,565.79 L668.0,565.32 L669.0,564.86 L670.0,564.40 L671.0,563.96 L672.0,563.52 L673.0,563.10 L674.0,562.69 L675.0,562.29 L676.0,561.91 L677.0,561.54 L678.0,561.18 L679.0,560.84 L680.0,560.50 L681.0,560.17 L682.0,559.84 L683.0,559.51 L684.0,559.17 L685.0,558.84 L686.0,558.52 L687.0,558.22 L688.0,557.93 L689.0,557.66 L690.0,557.43 L691.0,557.22 L692.0,557.06 L693.0,556.94 L694.0,556.88 L695.0,556.88 L696.0,556.96 L697.0,557.12 L698.0,557.37 L699.0,557.69 L700.0,558.07 L701.0,558.51 L702.0,558.98 L703.0,559.48 L704.0,560.00 L705.0,560.55 L706.0,561.13 L707.0,561.75 L708.0,562.42 L709.0,563.14 L710.0,563.92 L711.0,564.73 L712.0,565.59 L713.0,566.47 L714.0,567.38 L715.0,568.30 L716.0,569.24 L717.0,570.18 L718.0,571.13 L719.0,572.08 L720.0,573.05 L721.0,574.04 L722.0,575.06 L723.0,576.12 L724.0,577.19 L725.0,578.26 L726.0,579.31 L727.0,580.31 L728.0,581.25 L729.0,582.11 L730.0,582.90 L731.0,583.63 L732.0,584.31 L733.0,584.97 L734.0,585.60 L735.0,586.20 L736.0,586.77 L737.0,587.29 L738.0,587.77 L739.0,588.19 L740.0,588.55 L741.0,588.84 L742.0,589.08 L743.0,589.27 L744.0,589.42 L745.0,589.55 L746.0,589.67 L747.0,589.77 L748.0,589.87 L749.0,589.97 L750.0,590.06 L751.0,590.14 L752.0,590.22 L753.0,590.30 L754.0,590.37 L755.0,590.43 L756.0,590.50 L757.0,590.55 L758.0,590.61 L759.0,590.66 L760.0,590.71 L761.0,590.75 L762.0,590.80 L763.0,590.84 L764.0,590.87 L765.0,590.91 L766.0,590.95 L767.0,590.98 L768.0,591.02 L769.0,591.05 L770.0,591.08 L771.0,591.11 L772.0,591.15 L773.0,591.18 L774.0,591.21 L775.0,591.24 L776.0,591.27 L777.0,591.30 L778.0,591.33 L779.0,591.36 L780.0,591.39 L781.0,591.42 L782.0,591.45 L783.0,591.48 L784.0,591.51 L785.0,591.54 L786.0,591.57 L787.0,591.59 L788.0,591.62 L789.0,591.65 L790.0,591.68 L791.0,591.70 L792.0,591.73 L793.0,591.75 L794.0,591.78 L795.0,591.80 L796.0,591.83 L797.0,591.85 L798.0,591.88 L799.0,591.90 L800.0,591.92 L801.0,591.95 L802.0,591.97 L803.0,591.99 L804.0,592.01 L805.0,592.03 L806.0,592.05 L807.0,592.08 L808.0,592.10 L809.0,592.11 L810.0,592.13 L811.0,592.15 L812.0,592.17 L813.0,592.19 L814.0,592.21 L815.0,592.22 L816.0,592.24 L817.0,592.26 L818.0,592.27 L819.0,592.29 L820.0,592.30 L821.0,592.31 L822.0,592.33 L823.0,592.34 L824.0,592.35 L825.0,592.37 L826.0,592.38 L827.0,592.39 L828.0,592.40 L829.0,592.41 L830.0,592.42 L831.0,592.43 L832.0,592.44 L833.0,592.44 L834.0,592.45 L835.0,592.46 L836.0,592.47 L837.0,592.47 L838.0,592.48 L839.0,592.48 L840.0,592.49 L841.0,592.49 L842.0,592.49 L843.0,592.50 L844.0,592.50 L845.0,592.50 L846.0,592.50" fill="none" stroke="#e1b349" stroke-width="1.5"/>
<text x="427.7" y="583.5" font-size="9.9" font-weight="400" fill="#242424" textLength="45" lengthAdjust="spacingAndGlyphs"  stroke="#242424" stroke-width="0.25">Santa Cruz</text>
<line x1="725.56" y1="566.0" x2="725.56" y2="592.5" stroke="#1b4f8a" stroke-width="1.5"/>
<circle cx="725.56" cy="566.0" r="2.1" fill="#1b4f8a"/>
<text x="731.4608695652174" y="569.7" font-size="9.2" font-weight="700" fill="#1f5a9e" textLength="21" lengthAdjust="spacingAndGlyphs" >78%</text>
<text x="731.4608695652174" y="580.2" font-size="7.6" font-weight="400" fill="#5e5e5e" textLength="42" lengthAdjust="spacingAndGlyphs"  stroke="#5e5e5e" stroke-width="0.1">(125 of 161)</text>
<path d="M427.0,629.25 L428.0,629.25 L429.0,629.25 L430.0,629.25 L431.0,629.25 L432.0,629.25 L433.0,629.25 L434.0,629.25 L435.0,629.25 L436.0,629.25 L437.0,629.25 L438.0,629.25 L439.0,629.24 L440.0,629.24 L441.0,629.24 L442.0,629.24 L443.0,629.24 L444.0,629.24 L445.0,629.24 L446.0,629.24 L447.0,629.23 L448.0,629.23 L449.0,629.23 L450.0,629.23 L451.0,629.23 L452.0,629.23 L453.0,629.22 L454.0,629.22 L455.0,629.22 L456.0,629.22 L457.0,629.21 L458.0,629.21 L459.0,629.21 L460.0,629.21 L461.0,629.20 L462.0,629.20 L463.0,629.20 L464.0,629.19 L465.0,629.19 L466.0,629.19 L467.0,629.19 L468.0,629.18 L469.0,629.18 L470.0,629.17 L471.0,629.17 L472.0,629.17 L473.0,629.16 L474.0,629.16 L475.0,629.15 L476.0,629.15 L477.0,629.15 L478.0,629.14 L479.0,629.14 L480.0,629.13 L481.0,629.13 L482.0,629.12 L483.0,629.12 L484.0,629.11 L485.0,629.11 L486.0,629.10 L487.0,629.10 L488.0,629.09 L489.0,629.09 L490.0,629.08 L491.0,629.07 L492.0,629.07 L493.0,629.06 L494.0,629.06 L495.0,629.05 L496.0,629.04 L497.0,629.04 L498.0,629.03 L499.0,629.02 L500.0,629.02 L501.0,629.01 L502.0,629.00 L503.0,628.99 L504.0,628.99 L505.0,628.98 L506.0,628.97 L507.0,628.96 L508.0,628.96 L509.0,628.95 L510.0,628.94 L511.0,628.93 L512.0,628.92 L513.0,628.92 L514.0,628.91 L515.0,628.90 L516.0,628.89 L517.0,628.88 L518.0,628.87 L519.0,628.86 L520.0,628.85 L521.0,628.84 L522.0,628.83 L523.0,628.82 L524.0,628.81 L525.0,628.80 L526.0,628.79 L527.0,628.78 L528.0,628.77 L529.0,628.76 L530.0,628.75 L531.0,628.74 L532.0,628.73 L533.0,628.72 L534.0,628.71 L535.0,628.70 L536.0,628.69 L537.0,628.67 L538.0,628.66 L539.0,628.65 L540.0,628.64 L541.0,628.63 L542.0,628.61 L543.0,628.60 L544.0,628.59 L545.0,628.58 L546.0,628.56 L547.0,628.55 L548.0,628.54 L549.0,628.52 L550.0,628.51 L551.0,628.50 L552.0,628.48 L553.0,628.47 L554.0,628.45 L555.0,628.44 L556.0,628.43 L557.0,628.41 L558.0,628.40 L559.0,628.38 L560.0,628.37 L561.0,628.35 L562.0,628.34 L563.0,628.32 L564.0,628.31 L565.0,628.29 L566.0,628.27 L567.0,628.25 L568.0,628.23 L569.0,628.21 L570.0,628.18 L571.0,628.15 L572.0,628.11 L573.0,628.06 L574.0,628.01 L575.0,627.96 L576.0,627.89 L577.0,627.83 L578.0,627.76 L579.0,627.68 L580.0,627.60 L581.0,627.51 L582.0,627.42 L583.0,627.33 L584.0,627.23 L585.0,627.13 L586.0,627.02 L587.0,626.91 L588.0,626.80 L589.0,626.68 L590.0,626.56 L591.0,626.43 L592.0,626.30 L593.0,626.14 L594.0,625.97 L595.0,625.78 L596.0,625.56 L597.0,625.32 L598.0,625.05 L599.0,624.76 L600.0,624.45 L601.0,624.13 L602.0,623.79 L603.0,623.44 L604.0,623.08 L605.0,622.72 L606.0,622.35 L607.0,621.98 L608.0,621.61 L609.0,621.25 L610.0,620.88 L611.0,620.53 L612.0,620.18 L613.0,619.83 L614.0,619.47 L615.0,619.12 L616.0,618.76 L617.0,618.39 L618.0,618.01 L619.0,617.64 L620.0,617.26 L621.0,616.88 L622.0,616.51 L623.0,616.14 L624.0,615.77 L625.0,615.41 L626.0,615.06 L627.0,614.72 L628.0,614.39 L629.0,614.08 L630.0,613.78 L631.0,613.50 L632.0,613.23 L633.0,612.98 L634.0,612.75 L635.0,612.52 L636.0,612.30 L637.0,612.08 L638.0,611.85 L639.0,611.63 L640.0,611.39 L641.0,611.14 L642.0,610.88 L643.0,610.59 L644.0,610.28 L645.0,609.93 L646.0,609.55 L647.0,609.12 L648.0,608.65 L649.0,608.14 L650.0,607.60 L651.0,607.02 L652.0,606.42 L653.0,605.80 L654.0,605.16 L655.0,604.52 L656.0,603.88 L657.0,603.24 L658.0,602.61 L659.0,602.00 L660.0,601.40 L661.0,600.83 L662.0,600.28 L663.0,599.74 L664.0,599.20 L665.0,598.65 L666.0,598.09 L667.0,597.52 L668.0,596.94 L669.0,596.36 L670.0,595.79 L671.0,595.23 L672.0,594.69 L673.0,594.16 L674.0,593.67 L675.0,593.21 L676.0,592.78 L677.0,592.41 L678.0,592.08 L679.0,591.81 L680.0,591.60 L681.0,591.45 L682.0,591.38 L683.0,591.37 L684.0,591.42 L685.0,591.54 L686.0,591.72 L687.0,591.94 L688.0,592.20 L689.0,592.51 L690.0,592.85 L691.0,593.23 L692.0,593.67 L693.0,594.20 L694.0,594.86 L695.0,595.64 L696.0,596.57 L697.0,597.62 L698.0,598.78 L699.0,600.01 L700.0,601.28 L701.0,602.57 L702.0,603.84 L703.0,605.09 L704.0,606.28 L705.0,607.43 L706.0,608.55 L707.0,609.64 L708.0,610.72 L709.0,611.80 L710.0,612.86 L711.0,613.92 L712.0,614.95 L713.0,615.95 L714.0,616.92 L715.0,617.84 L716.0,618.72 L717.0,619.56 L718.0,620.37 L719.0,621.16 L720.0,621.94 L721.0,622.71 L722.0,623.47 L723.0,624.19 L724.0,624.87 L725.0,625.50 L726.0,626.05 L727.0,626.52 L728.0,626.90 L729.0,627.19 L730.0,627.39 L731.0,627.54 L732.0,627.64 L733.0,627.72 L734.0,627.79 L735.0,627.85 L736.0,627.91 L737.0,627.96 L738.0,628.02 L739.0,628.06 L740.0,628.11 L741.0,628.15 L742.0,628.19 L743.0,628.22 L744.0,628.26 L745.0,628.29 L746.0,628.32 L747.0,628.34 L748.0,628.37 L749.0,628.39 L750.0,628.41 L751.0,628.43 L752.0,628.45 L753.0,628.47 L754.0,628.48 L755.0,628.50 L756.0,628.52 L757.0,628.53 L758.0,628.55 L759.0,628.56 L760.0,628.58 L761.0,628.59 L762.0,628.60 L763.0,628.62 L764.0,628.63 L765.0,628.65 L766.0,628.66 L767.0,628.68 L768.0,628.69 L769.0,628.70 L770.0,628.72 L771.0,628.73 L772.0,628.74 L773.0,628.76 L774.0,628.77 L775.0,628.78 L776.0,628.79 L777.0,628.81 L778.0,628.82 L779.0,628.83 L780.0,628.84 L781.0,628.85 L782.0,628.87 L783.0,628.88 L784.0,628.89 L785.0,628.90 L786.0,628.91 L787.0,628.92 L788.0,628.93 L789.0,628.94 L790.0,628.95 L791.0,628.96 L792.0,628.97 L793.0,628.98 L794.0,628.99 L795.0,629.00 L796.0,629.01 L797.0,629.02 L798.0,629.03 L799.0,629.04 L800.0,629.05 L801.0,629.05 L802.0,629.06 L803.0,629.07 L804.0,629.08 L805.0,629.09 L806.0,629.09 L807.0,629.10 L808.0,629.11 L809.0,629.12 L810.0,629.12 L811.0,629.13 L812.0,629.14 L813.0,629.14 L814.0,629.15 L815.0,629.15 L816.0,629.16 L817.0,629.17 L818.0,629.17 L819.0,629.18 L820.0,629.18 L821.0,629.19 L822.0,629.19 L823.0,629.20 L824.0,629.20 L825.0,629.20 L826.0,629.21 L827.0,629.21 L828.0,629.22 L829.0,629.22 L830.0,629.22 L831.0,629.23 L832.0,629.23 L833.0,629.23 L834.0,629.23 L835.0,629.24 L836.0,629.24 L837.0,629.24 L838.0,629.24 L839.0,629.24 L840.0,629.25 L841.0,629.25 L842.0,629.25 L843.0,629.25 L844.0,629.25 L845.0,629.25 L846.0,629.25 L846.7,629.25 L427,629.25 Z" fill="#f1dca6"/>
<path d="M427.0,629.25 L428.0,629.25 L429.0,629.25 L430.0,629.25 L431.0,629.25 L432.0,629.25 L433.0,629.25 L434.0,629.25 L435.0,629.25 L436.0,629.25 L437.0,629.25 L438.0,629.25 L439.0,629.24 L440.0,629.24 L441.0,629.24 L442.0,629.24 L443.0,629.24 L444.0,629.24 L445.0,629.24 L446.0,629.24 L447.0,629.23 L448.0,629.23 L449.0,629.23 L450.0,629.23 L451.0,629.23 L452.0,629.23 L453.0,629.22 L454.0,629.22 L455.0,629.22 L456.0,629.22 L457.0,629.21 L458.0,629.21 L459.0,629.21 L460.0,629.21 L461.0,629.20 L462.0,629.20 L463.0,629.20 L464.0,629.19 L465.0,629.19 L466.0,629.19 L467.0,629.19 L468.0,629.18 L469.0,629.18 L470.0,629.17 L471.0,629.17 L472.0,629.17 L473.0,629.16 L474.0,629.16 L475.0,629.15 L476.0,629.15 L477.0,629.15 L478.0,629.14 L479.0,629.14 L480.0,629.13 L481.0,629.13 L482.0,629.12 L483.0,629.12 L484.0,629.11 L485.0,629.11 L486.0,629.10 L487.0,629.10 L488.0,629.09 L489.0,629.09 L490.0,629.08 L491.0,629.07 L492.0,629.07 L493.0,629.06 L494.0,629.06 L495.0,629.05 L496.0,629.04 L497.0,629.04 L498.0,629.03 L499.0,629.02 L500.0,629.02 L501.0,629.01 L502.0,629.00 L503.0,628.99 L504.0,628.99 L505.0,628.98 L506.0,628.97 L507.0,628.96 L508.0,628.96 L509.0,628.95 L510.0,628.94 L511.0,628.93 L512.0,628.92 L513.0,628.92 L514.0,628.91 L515.0,628.90 L516.0,628.89 L517.0,628.88 L518.0,628.87 L519.0,628.86 L520.0,628.85 L521.0,628.84 L522.0,628.83 L523.0,628.82 L524.0,628.81 L525.0,628.80 L526.0,628.79 L527.0,628.78 L528.0,628.77 L529.0,628.76 L530.0,628.75 L531.0,628.74 L532.0,628.73 L533.0,628.72 L534.0,628.71 L535.0,628.70 L536.0,628.69 L537.0,628.67 L538.0,628.66 L539.0,628.65 L540.0,628.64 L541.0,628.63 L542.0,628.61 L543.0,628.60 L544.0,628.59 L545.0,628.58 L546.0,628.56 L547.0,628.55 L548.0,628.54 L549.0,628.52 L550.0,628.51 L551.0,628.50 L552.0,628.48 L553.0,628.47 L554.0,628.45 L555.0,628.44 L556.0,628.43 L557.0,628.41 L558.0,628.40 L559.0,628.38 L560.0,628.37 L561.0,628.35 L562.0,628.34 L563.0,628.32 L564.0,628.31 L565.0,628.29 L566.0,628.27 L567.0,628.25 L568.0,628.23 L569.0,628.21 L570.0,628.18 L571.0,628.15 L572.0,628.11 L573.0,628.06 L574.0,628.01 L575.0,627.96 L576.0,627.89 L577.0,627.83 L578.0,627.76 L579.0,627.68 L580.0,627.60 L581.0,627.51 L582.0,627.42 L583.0,627.33 L584.0,627.23 L585.0,627.13 L586.0,627.02 L587.0,626.91 L588.0,626.80 L589.0,626.68 L590.0,626.56 L591.0,626.43 L592.0,626.30 L593.0,626.14 L594.0,625.97 L595.0,625.78 L596.0,625.56 L597.0,625.32 L598.0,625.05 L599.0,624.76 L600.0,624.45 L601.0,624.13 L602.0,623.79 L603.0,623.44 L604.0,623.08 L605.0,622.72 L606.0,622.35 L607.0,621.98 L608.0,621.61 L609.0,621.25 L610.0,620.88 L611.0,620.53 L612.0,620.18 L613.0,619.83 L614.0,619.47 L615.0,619.12 L616.0,618.76 L617.0,618.39 L618.0,618.01 L619.0,617.64 L620.0,617.26 L621.0,616.88 L622.0,616.51 L623.0,616.14 L624.0,615.77 L625.0,615.41 L626.0,615.06 L627.0,614.72 L628.0,614.39 L629.0,614.08 L630.0,613.78 L631.0,613.50 L632.0,613.23 L633.0,612.98 L634.0,612.75 L635.0,612.52 L636.0,612.30 L637.0,612.08 L638.0,611.85 L639.0,611.63 L640.0,611.39 L641.0,611.14 L642.0,610.88 L643.0,610.59 L644.0,610.28 L645.0,609.93 L646.0,609.55 L647.0,609.12 L648.0,608.65 L649.0,608.14 L650.0,607.60 L651.0,607.02 L652.0,606.42 L653.0,605.80 L654.0,605.16 L655.0,604.52 L656.0,603.88 L657.0,603.24 L658.0,602.61 L659.0,602.00 L660.0,601.40 L661.0,600.83 L662.0,600.28 L663.0,599.74 L664.0,599.20 L665.0,598.65 L666.0,598.09 L667.0,597.52 L668.0,596.94 L669.0,596.36 L670.0,595.79 L671.0,595.23 L672.0,594.69 L673.0,594.16 L674.0,593.67 L675.0,593.21 L676.0,592.78 L677.0,592.41 L678.0,592.08 L679.0,591.81 L680.0,591.60 L681.0,591.45 L682.0,591.38 L683.0,591.37 L684.0,591.42 L685.0,591.54 L686.0,591.72 L687.0,591.94 L688.0,592.20 L689.0,592.51 L690.0,592.85 L691.0,593.23 L692.0,593.67 L693.0,594.20 L694.0,594.86 L695.0,595.64 L696.0,596.57 L697.0,597.62 L698.0,598.78 L699.0,600.01 L700.0,601.28 L701.0,602.57 L702.0,603.84 L703.0,605.09 L704.0,606.28 L705.0,607.43 L706.0,608.55 L707.0,609.64 L708.0,610.72 L709.0,611.80 L710.0,612.86 L711.0,613.92 L712.0,614.95 L713.0,615.95 L714.0,616.92 L715.0,617.84 L716.0,618.72 L717.0,619.56 L718.0,620.37 L719.0,621.16 L720.0,621.94 L721.0,622.71 L722.0,623.47 L723.0,624.19 L724.0,624.87 L725.0,625.50 L726.0,626.05 L727.0,626.52 L728.0,626.90 L729.0,627.19 L730.0,627.39 L731.0,627.54 L732.0,627.64 L733.0,627.72 L734.0,627.79 L735.0,627.85 L736.0,627.91 L737.0,627.96 L738.0,628.02 L739.0,628.06 L740.0,628.11 L741.0,628.15 L742.0,628.19 L743.0,628.22 L744.0,628.26 L745.0,628.29 L746.0,628.32 L747.0,628.34 L748.0,628.37 L749.0,628.39 L750.0,628.41 L751.0,628.43 L752.0,628.45 L753.0,628.47 L754.0,628.48 L755.0,628.50 L756.0,628.52 L757.0,628.53 L758.0,628.55 L759.0,628.56 L760.0,628.58 L761.0,628.59 L762.0,628.60 L763.0,628.62 L764.0,628.63 L765.0,628.65 L766.0,628.66 L767.0,628.68 L768.0,628.69 L769.0,628.70 L770.0,628.72 L771.0,628.73 L772.0,628.74 L773.0,628.76 L774.0,628.77 L775.0,628.78 L776.0,628.79 L777.0,628.81 L778.0,628.82 L779.0,628.83 L780.0,628.84 L781.0,628.85 L782.0,628.87 L783.0,628.88 L784.0,628.89 L785.0,628.90 L786.0,628.91 L787.0,628.92 L788.0,628.93 L789.0,628.94 L790.0,628.95 L791.0,628.96 L792.0,628.97 L793.0,628.98 L794.0,628.99 L795.0,629.00 L796.0,629.01 L797.0,629.02 L798.0,629.03 L799.0,629.04 L800.0,629.05 L801.0,629.05 L802.0,629.06 L803.0,629.07 L804.0,629.08 L805.0,629.09 L806.0,629.09 L807.0,629.10 L808.0,629.11 L809.0,629.12 L810.0,629.12 L811.0,629.13 L812.0,629.14 L813.0,629.14 L814.0,629.15 L815.0,629.15 L816.0,629.16 L817.0,629.17 L818.0,629.17 L819.0,629.18 L820.0,629.18 L821.0,629.19 L822.0,629.19 L823.0,629.20 L824.0,629.20 L825.0,629.20 L826.0,629.21 L827.0,629.21 L828.0,629.22 L829.0,629.22 L830.0,629.22 L831.0,629.23 L832.0,629.23 L833.0,629.23 L834.0,629.23 L835.0,629.24 L836.0,629.24 L837.0,629.24 L838.0,629.24 L839.0,629.24 L840.0,629.25 L841.0,629.25 L842.0,629.25 L843.0,629.25 L844.0,629.25 L845.0,629.25 L846.0,629.25" fill="none" stroke="#e1b349" stroke-width="1.5"/>
<text x="427.7" y="620.25" font-size="9.9" font-weight="400" fill="#242424" textLength="22.5" lengthAdjust="spacingAndGlyphs"  stroke="#242424" stroke-width="0.25">Davis</text>
<line x1="674.42" y1="602.75" x2="674.42" y2="629.25" stroke="#1b4f8a" stroke-width="1.5"/>
<circle cx="674.42" cy="602.75" r="2.1" fill="#1b4f8a"/>
<text x="680.3165254237288" y="606.45" font-size="9.2" font-weight="700" fill="#1f5a9e" textLength="21" lengthAdjust="spacingAndGlyphs" >64%</text>
<text x="680.3165254237288" y="616.95" font-size="7.6" font-weight="400" fill="#5e5e5e" textLength="42" lengthAdjust="spacingAndGlyphs"  stroke="#5e5e5e" stroke-width="0.1">(151 of 236)</text>
<path d="M427.0,667.25 L428.0,667.25 L429.0,667.25 L430.0,667.25 L431.0,667.25 L432.0,667.25 L433.0,667.25 L434.0,667.25 L435.0,667.25 L436.0,667.25 L437.0,667.25 L438.0,667.25 L439.0,667.25 L440.0,667.25 L441.0,667.25 L442.0,667.25 L443.0,667.25 L444.0,667.25 L445.0,667.25 L446.0,667.25 L447.0,667.25 L448.0,667.25 L449.0,667.25 L450.0,667.25 L451.0,667.24 L452.0,667.24 L453.0,667.24 L454.0,667.24 L455.0,667.24 L456.0,667.24 L457.0,667.24 L458.0,667.24 L459.0,667.24 L460.0,667.24 L461.0,667.24 L462.0,667.24 L463.0,667.24 L464.0,667.24 L465.0,667.24 L466.0,667.24 L467.0,667.23 L468.0,667.23 L469.0,667.23 L470.0,667.23 L471.0,667.23 L472.0,667.23 L473.0,667.23 L474.0,667.23 L475.0,667.23 L476.0,667.23 L477.0,667.22 L478.0,667.22 L479.0,667.22 L480.0,667.22 L481.0,667.22 L482.0,667.22 L483.0,667.22 L484.0,667.22 L485.0,667.21 L486.0,667.21 L487.0,667.21 L488.0,667.21 L489.0,667.21 L490.0,667.21 L491.0,667.21 L492.0,667.20 L493.0,667.20 L494.0,667.20 L495.0,667.20 L496.0,667.20 L497.0,667.20 L498.0,667.19 L499.0,667.19 L500.0,667.19 L501.0,667.19 L502.0,667.19 L503.0,667.18 L504.0,667.18 L505.0,667.18 L506.0,667.18 L507.0,667.18 L508.0,667.17 L509.0,667.17 L510.0,667.17 L511.0,667.17 L512.0,667.16 L513.0,667.16 L514.0,667.16 L515.0,667.16 L516.0,667.16 L517.0,667.15 L518.0,667.15 L519.0,667.15 L520.0,667.15 L521.0,667.14 L522.0,667.14 L523.0,667.14 L524.0,667.13 L525.0,667.13 L526.0,667.13 L527.0,667.13 L528.0,667.12 L529.0,667.12 L530.0,667.12 L531.0,667.11 L532.0,667.11 L533.0,667.11 L534.0,667.10 L535.0,667.10 L536.0,667.10 L537.0,667.09 L538.0,667.09 L539.0,667.09 L540.0,667.08 L541.0,667.08 L542.0,667.08 L543.0,667.07 L544.0,667.07 L545.0,667.07 L546.0,667.06 L547.0,667.06 L548.0,667.05 L549.0,667.05 L550.0,667.05 L551.0,667.04 L552.0,667.04 L553.0,667.03 L554.0,667.03 L555.0,667.03 L556.0,667.02 L557.0,667.02 L558.0,667.01 L559.0,667.01 L560.0,667.01 L561.0,667.00 L562.0,667.00 L563.0,666.99 L564.0,666.99 L565.0,666.98 L566.0,666.98 L567.0,666.97 L568.0,666.97 L569.0,666.96 L570.0,666.96 L571.0,666.95 L572.0,666.95 L573.0,666.94 L574.0,666.94 L575.0,666.93 L576.0,666.93 L577.0,666.92 L578.0,666.92 L579.0,666.91 L580.0,666.91 L581.0,666.90 L582.0,666.89 L583.0,666.89 L584.0,666.88 L585.0,666.88 L586.0,666.87 L587.0,666.87 L588.0,666.86 L589.0,666.85 L590.0,666.85 L591.0,666.84 L592.0,666.84 L593.0,666.83 L594.0,666.82 L595.0,666.82 L596.0,666.81 L597.0,666.80 L598.0,666.80 L599.0,666.79 L600.0,666.78 L601.0,666.78 L602.0,666.77 L603.0,666.76 L604.0,666.75 L605.0,666.74 L606.0,666.73 L607.0,666.71 L608.0,666.68 L609.0,666.65 L610.0,666.61 L611.0,666.56 L612.0,666.51 L613.0,666.45 L614.0,666.38 L615.0,666.31 L616.0,666.24 L617.0,666.16 L618.0,666.07 L619.0,665.98 L620.0,665.89 L621.0,665.79 L622.0,665.69 L623.0,665.59 L624.0,665.49 L625.0,665.38 L626.0,665.27 L627.0,665.16 L628.0,665.05 L629.0,664.93 L630.0,664.82 L631.0,664.71 L632.0,664.59 L633.0,664.48 L634.0,664.36 L635.0,664.25 L636.0,664.13 L637.0,664.01 L638.0,663.89 L639.0,663.76 L640.0,663.63 L641.0,663.49 L642.0,663.35 L643.0,663.21 L644.0,663.06 L645.0,662.90 L646.0,662.74 L647.0,662.57 L648.0,662.40 L649.0,662.22 L650.0,662.03 L651.0,661.84 L652.0,661.63 L653.0,661.43 L654.0,661.21 L655.0,660.98 L656.0,660.74 L657.0,660.49 L658.0,660.22 L659.0,659.93 L660.0,659.63 L661.0,659.31 L662.0,658.98 L663.0,658.64 L664.0,658.27 L665.0,657.90 L666.0,657.51 L667.0,657.11 L668.0,656.70 L669.0,656.27 L670.0,655.83 L671.0,655.39 L672.0,654.92 L673.0,654.45 L674.0,653.96 L675.0,653.46 L676.0,652.92 L677.0,652.35 L678.0,651.75 L679.0,651.11 L680.0,650.43 L681.0,649.73 L682.0,649.01 L683.0,648.26 L684.0,647.50 L685.0,646.73 L686.0,645.95 L687.0,645.17 L688.0,644.39 L689.0,643.62 L690.0,642.86 L691.0,642.11 L692.0,641.37 L693.0,640.63 L694.0,639.90 L695.0,639.16 L696.0,638.41 L697.0,637.66 L698.0,636.92 L699.0,636.19 L700.0,635.47 L701.0,634.77 L702.0,634.10 L703.0,633.46 L704.0,632.86 L705.0,632.27 L706.0,631.71 L707.0,631.15 L708.0,630.59 L709.0,630.03 L710.0,629.48 L711.0,628.94 L712.0,628.42 L713.0,627.92 L714.0,627.45 L715.0,627.02 L716.0,626.64 L717.0,626.31 L718.0,626.03 L719.0,625.83 L720.0,625.71 L721.0,625.68 L722.0,625.76 L723.0,625.97 L724.0,626.30 L725.0,626.75 L726.0,627.31 L727.0,627.97 L728.0,628.70 L729.0,629.50 L730.0,630.34 L731.0,631.21 L732.0,632.10 L733.0,632.99 L734.0,633.88 L735.0,634.78 L736.0,635.70 L737.0,636.66 L738.0,637.66 L739.0,638.71 L740.0,639.81 L741.0,640.94 L742.0,642.09 L743.0,643.26 L744.0,644.42 L745.0,645.58 L746.0,646.72 L747.0,647.84 L748.0,648.92 L749.0,649.96 L750.0,650.97 L751.0,651.97 L752.0,652.97 L753.0,653.96 L754.0,654.96 L755.0,655.95 L756.0,656.93 L757.0,657.88 L758.0,658.80 L759.0,659.67 L760.0,660.48 L761.0,661.22 L762.0,661.89 L763.0,662.48 L764.0,662.98 L765.0,663.40 L766.0,663.77 L767.0,664.10 L768.0,664.39 L769.0,664.68 L770.0,664.94 L771.0,665.19 L772.0,665.42 L773.0,665.63 L774.0,665.82 L775.0,665.99 L776.0,666.13 L777.0,666.25 L778.0,666.35 L779.0,666.42 L780.0,666.48 L781.0,666.52 L782.0,666.55 L783.0,666.57 L784.0,666.60 L785.0,666.62 L786.0,666.65 L787.0,666.67 L788.0,666.69 L789.0,666.71 L790.0,666.73 L791.0,666.75 L792.0,666.78 L793.0,666.79 L794.0,666.81 L795.0,666.83 L796.0,666.85 L797.0,666.87 L798.0,666.89 L799.0,666.90 L800.0,666.92 L801.0,666.93 L802.0,666.95 L803.0,666.96 L804.0,666.98 L805.0,666.99 L806.0,667.01 L807.0,667.02 L808.0,667.03 L809.0,667.04 L810.0,667.06 L811.0,667.07 L812.0,667.08 L813.0,667.09 L814.0,667.10 L815.0,667.11 L816.0,667.12 L817.0,667.13 L818.0,667.14 L819.0,667.15 L820.0,667.15 L821.0,667.16 L822.0,667.17 L823.0,667.18 L824.0,667.18 L825.0,667.19 L826.0,667.19 L827.0,667.20 L828.0,667.20 L829.0,667.21 L830.0,667.21 L831.0,667.22 L832.0,667.22 L833.0,667.23 L834.0,667.23 L835.0,667.23 L836.0,667.24 L837.0,667.24 L838.0,667.24 L839.0,667.24 L840.0,667.24 L841.0,667.25 L842.0,667.25 L843.0,667.25 L844.0,667.25 L845.0,667.25 L846.0,667.25 L846.7,667.25 L427,667.25 Z" fill="#e0dfde"/>
<path d="M427.0,667.25 L428.0,667.25 L429.0,667.25 L430.0,667.25 L431.0,667.25 L432.0,667.25 L433.0,667.25 L434.0,667.25 L435.0,667.25 L436.0,667.25 L437.0,667.25 L438.0,667.25 L439.0,667.25 L440.0,667.25 L441.0,667.25 L442.0,667.25 L443.0,667.25 L444.0,667.25 L445.0,667.25 L446.0,667.25 L447.0,667.25 L448.0,667.25 L449.0,667.25 L450.0,667.25 L451.0,667.24 L452.0,667.24 L453.0,667.24 L454.0,667.24 L455.0,667.24 L456.0,667.24 L457.0,667.24 L458.0,667.24 L459.0,667.24 L460.0,667.24 L461.0,667.24 L462.0,667.24 L463.0,667.24 L464.0,667.24 L465.0,667.24 L466.0,667.24 L467.0,667.23 L468.0,667.23 L469.0,667.23 L470.0,667.23 L471.0,667.23 L472.0,667.23 L473.0,667.23 L474.0,667.23 L475.0,667.23 L476.0,667.23 L477.0,667.22 L478.0,667.22 L479.0,667.22 L480.0,667.22 L481.0,667.22 L482.0,667.22 L483.0,667.22 L484.0,667.22 L485.0,667.21 L486.0,667.21 L487.0,667.21 L488.0,667.21 L489.0,667.21 L490.0,667.21 L491.0,667.21 L492.0,667.20 L493.0,667.20 L494.0,667.20 L495.0,667.20 L496.0,667.20 L497.0,667.20 L498.0,667.19 L499.0,667.19 L500.0,667.19 L501.0,667.19 L502.0,667.19 L503.0,667.18 L504.0,667.18 L505.0,667.18 L506.0,667.18 L507.0,667.18 L508.0,667.17 L509.0,667.17 L510.0,667.17 L511.0,667.17 L512.0,667.16 L513.0,667.16 L514.0,667.16 L515.0,667.16 L516.0,667.16 L517.0,667.15 L518.0,667.15 L519.0,667.15 L520.0,667.15 L521.0,667.14 L522.0,667.14 L523.0,667.14 L524.0,667.13 L525.0,667.13 L526.0,667.13 L527.0,667.13 L528.0,667.12 L529.0,667.12 L530.0,667.12 L531.0,667.11 L532.0,667.11 L533.0,667.11 L534.0,667.10 L535.0,667.10 L536.0,667.10 L537.0,667.09 L538.0,667.09 L539.0,667.09 L540.0,667.08 L541.0,667.08 L542.0,667.08 L543.0,667.07 L544.0,667.07 L545.0,667.07 L546.0,667.06 L547.0,667.06 L548.0,667.05 L549.0,667.05 L550.0,667.05 L551.0,667.04 L552.0,667.04 L553.0,667.03 L554.0,667.03 L555.0,667.03 L556.0,667.02 L557.0,667.02 L558.0,667.01 L559.0,667.01 L560.0,667.01 L561.0,667.00 L562.0,667.00 L563.0,666.99 L564.0,666.99 L565.0,666.98 L566.0,666.98 L567.0,666.97 L568.0,666.97 L569.0,666.96 L570.0,666.96 L571.0,666.95 L572.0,666.95 L573.0,666.94 L574.0,666.94 L575.0,666.93 L576.0,666.93 L577.0,666.92 L578.0,666.92 L579.0,666.91 L580.0,666.91 L581.0,666.90 L582.0,666.89 L583.0,666.89 L584.0,666.88 L585.0,666.88 L586.0,666.87 L587.0,666.87 L588.0,666.86 L589.0,666.85 L590.0,666.85 L591.0,666.84 L592.0,666.84 L593.0,666.83 L594.0,666.82 L595.0,666.82 L596.0,666.81 L597.0,666.80 L598.0,666.80 L599.0,666.79 L600.0,666.78 L601.0,666.78 L602.0,666.77 L603.0,666.76 L604.0,666.75 L605.0,666.74 L606.0,666.73 L607.0,666.71 L608.0,666.68 L609.0,666.65 L610.0,666.61 L611.0,666.56 L612.0,666.51 L613.0,666.45 L614.0,666.38 L615.0,666.31 L616.0,666.24 L617.0,666.16 L618.0,666.07 L619.0,665.98 L620.0,665.89 L621.0,665.79 L622.0,665.69 L623.0,665.59 L624.0,665.49 L625.0,665.38 L626.0,665.27 L627.0,665.16 L628.0,665.05 L629.0,664.93 L630.0,664.82 L631.0,664.71 L632.0,664.59 L633.0,664.48 L634.0,664.36 L635.0,664.25 L636.0,664.13 L637.0,664.01 L638.0,663.89 L639.0,663.76 L640.0,663.63 L641.0,663.49 L642.0,663.35 L643.0,663.21 L644.0,663.06 L645.0,662.90 L646.0,662.74 L647.0,662.57 L648.0,662.40 L649.0,662.22 L650.0,662.03 L651.0,661.84 L652.0,661.63 L653.0,661.43 L654.0,661.21 L655.0,660.98 L656.0,660.74 L657.0,660.49 L658.0,660.22 L659.0,659.93 L660.0,659.63 L661.0,659.31 L662.0,658.98 L663.0,658.64 L664.0,658.27 L665.0,657.90 L666.0,657.51 L667.0,657.11 L668.0,656.70 L669.0,656.27 L670.0,655.83 L671.0,655.39 L672.0,654.92 L673.0,654.45 L674.0,653.96 L675.0,653.46 L676.0,652.92 L677.0,652.35 L678.0,651.75 L679.0,651.11 L680.0,650.43 L681.0,649.73 L682.0,649.01 L683.0,648.26 L684.0,647.50 L685.0,646.73 L686.0,645.95 L687.0,645.17 L688.0,644.39 L689.0,643.62 L690.0,642.86 L691.0,642.11 L692.0,641.37 L693.0,640.63 L694.0,639.90 L695.0,639.16 L696.0,638.41 L697.0,637.66 L698.0,636.92 L699.0,636.19 L700.0,635.47 L701.0,634.77 L702.0,634.10 L703.0,633.46 L704.0,632.86 L705.0,632.27 L706.0,631.71 L707.0,631.15 L708.0,630.59 L709.0,630.03 L710.0,629.48 L711.0,628.94 L712.0,628.42 L713.0,627.92 L714.0,627.45 L715.0,627.02 L716.0,626.64 L717.0,626.31 L718.0,626.03 L719.0,625.83 L720.0,625.71 L721.0,625.68 L722.0,625.76 L723.0,625.97 L724.0,626.30 L725.0,626.75 L726.0,627.31 L727.0,627.97 L728.0,628.70 L729.0,629.50 L730.0,630.34 L731.0,631.21 L732.0,632.10 L733.0,632.99 L734.0,633.88 L735.0,634.78 L736.0,635.70 L737.0,636.66 L738.0,637.66 L739.0,638.71 L740.0,639.81 L741.0,640.94 L742.0,642.09 L743.0,643.26 L744.0,644.42 L745.0,645.58 L746.0,646.72 L747.0,647.84 L748.0,648.92 L749.0,649.96 L750.0,650.97 L751.0,651.97 L752.0,652.97 L753.0,653.96 L754.0,654.96 L755.0,655.95 L756.0,656.93 L757.0,657.88 L758.0,658.80 L759.0,659.67 L760.0,660.48 L761.0,661.22 L762.0,661.89 L763.0,662.48 L764.0,662.98 L765.0,663.40 L766.0,663.77 L767.0,664.10 L768.0,664.39 L769.0,664.68 L770.0,664.94 L771.0,665.19 L772.0,665.42 L773.0,665.63 L774.0,665.82 L775.0,665.99 L776.0,666.13 L777.0,666.25 L778.0,666.35 L779.0,666.42 L780.0,666.48 L781.0,666.52 L782.0,666.55 L783.0,666.57 L784.0,666.60 L785.0,666.62 L786.0,666.65 L787.0,666.67 L788.0,666.69 L789.0,666.71 L790.0,666.73 L791.0,666.75 L792.0,666.78 L793.0,666.79 L794.0,666.81 L795.0,666.83 L796.0,666.85 L797.0,666.87 L798.0,666.89 L799.0,666.90 L800.0,666.92 L801.0,666.93 L802.0,666.95 L803.0,666.96 L804.0,666.98 L805.0,666.99 L806.0,667.01 L807.0,667.02 L808.0,667.03 L809.0,667.04 L810.0,667.06 L811.0,667.07 L812.0,667.08 L813.0,667.09 L814.0,667.10 L815.0,667.11 L816.0,667.12 L817.0,667.13 L818.0,667.14 L819.0,667.15 L820.0,667.15 L821.0,667.16 L822.0,667.17 L823.0,667.18 L824.0,667.18 L825.0,667.19 L826.0,667.19 L827.0,667.20 L828.0,667.20 L829.0,667.21 L830.0,667.21 L831.0,667.22 L832.0,667.22 L833.0,667.23 L834.0,667.23 L835.0,667.23 L836.0,667.24 L837.0,667.24 L838.0,667.24 L839.0,667.24 L840.0,667.24 L841.0,667.25 L842.0,667.25 L843.0,667.25 L844.0,667.25 L845.0,667.25 L846.0,667.25" fill="none" stroke="#8e8e8e" stroke-width="1.5"/>
<text x="427.7" y="658.25" font-size="9.9" font-weight="400" fill="#242424" textLength="50.5" lengthAdjust="spacingAndGlyphs"  stroke="#242424" stroke-width="0.25">Systemwide</text>
<line x1="735.60" y1="640.75" x2="735.60" y2="667.25" stroke="#1b4f8a" stroke-width="1.5"/>
<circle cx="735.60" cy="640.75" r="2.1" fill="#1b4f8a"/>
<text x="741.4952127659574" y="644.45" font-size="9.2" font-weight="700" fill="#1f5a9e" textLength="21" lengthAdjust="spacingAndGlyphs" >80%</text>
<text x="741.4952127659574" y="654.95" font-size="7.6" font-weight="400" fill="#5e5e5e" textLength="42" lengthAdjust="spacingAndGlyphs"  stroke="#5e5e5e" stroke-width="0.1">(302 of 376)</text>
<path d="M1008.5,643.3 L1008.5,653.3 L1010.8,651.4 L1012.4,655.3 L1014.1,654.6 L1012.5,650.9 L1015.5,650.6 Z" fill="#fff" stroke="#111" stroke-width="0.9" stroke-linejoin="round"/>
</svg>
<svg class="abs" style="left:1066px;top:16px" width="214" height="120" viewBox="1066 16 214 120">
<defs>
<linearGradient id="wall" x1="1066" y1="0" x2="1280" y2="0" gradientUnits="userSpaceOnUse">
<stop offset="0" stop-color="#e3e6e2"/><stop offset="0.17" stop-color="#e6e9e5"/><stop offset="0.22" stop-color="#d9dcd8"/><stop offset="0.5" stop-color="#dfe1dd"/><stop offset="0.78" stop-color="#e3e5e1"/><stop offset="0.8" stop-color="#eaece9"/><stop offset="0.83" stop-color="#f6f8f6"/><stop offset="1" stop-color="#fdfefd"/>
</linearGradient>
<linearGradient id="face" x1="0" y1="0" x2="0" y2="1">
<stop offset="0" stop-color="#bd958c"/><stop offset="0.45" stop-color="#a9867e"/><stop offset="1" stop-color="#97827c"/>
</linearGradient>
<pattern id="shirt" x="0" y="0.5" width="8" height="3.1" patternUnits="userSpaceOnUse">
<rect width="8" height="3.1" fill="#cfd0e6"/><rect y="2" width="8" height="1.1" fill="#7e82bd"/>
</pattern>
<filter id="bl" x="-10%" y="-10%" width="120%" height="120%"><feGaussianBlur stdDeviation="0.9"/></filter>
<filter id="bl3" x="-10%" y="-10%" width="120%" height="120%"><feGaussianBlur stdDeviation="0.45"/></filter>
<filter id="bl2" x="-20%" y="-20%" width="140%" height="140%"><feGaussianBlur stdDeviation="2.5"/></filter>
</defs>
<rect x="1066" y="16" width="214" height="120" fill="url(#wall)"/>
<rect x="1240" y="26" width="44" height="102" fill="#fdfefd" filter="url(#bl2)"/>
<rect x="1236" y="128" width="44" height="8" fill="#d8dad7" filter="url(#bl3)"/>
<g filter="url(#bl)">
<rect x="1067" y="113" width="18" height="23" fill="#a9aba7"/>
<rect x="1133" y="70.8" width="72" height="40" fill="#ececea"/>
<path d="M1149 89 C1149 82 1156 79 1160 82 L1158 89Z" fill="#9c9e9a"/>
<path d="M1183 89 C1184 84 1188 83 1191 86 L1190 91Z" fill="#a4a6a2"/>
<rect x="1143" y="89" width="13" height="16" fill="#2c2c2e"/>
<rect x="1186" y="91" width="9" height="11" fill="#2c2c2e"/>
</g>
<g filter="url(#bl3)">
<rect x="1132.5" y="70.3" width="73" height="41" fill="none" stroke="#111" stroke-width="1.2"/>
</g>
<g filter="url(#bl)">
<path d="M1080 136 L1084 105 L1126 110 L1120 136Z" fill="#18181b"/>
</g>
<g filter="url(#bl3)">
<path d="M1098 136 C1104 124 1112 113 1126 110 C1138 106 1148 102 1156 99 L1192 99 C1200 103 1214 105 1224 109 C1232 115 1235 126 1236 136 Z" fill="url(#shirt)"/>
</g>
<g filter="url(#bl)">
<path d="M1156 99 L1166 108 L1172 104 L1180 108 L1194 100 Z" fill="#d2d3e8"/>
<path d="M1157.5 55 C1155.5 62 1155.5 78 1156.5 86 C1158.5 96 1166 102.5 1174 102.5 C1182 102.5 1189.5 95 1190.5 86 C1191.5 78 1191.5 62 1189.5 55 Z" fill="url(#face)"/>
<path d="M1189 72 C1194 70 1195 76 1193 82 L1189 83Z" fill="#9c827b"/>
<path d="M1156.5 68 C1154 54 1160 44 1173 43.5 C1187 43 1193 52 1190.5 68 C1189 60 1187 56 1183 55 C1176 53 1168 54 1162 56 C1159 58 1157.5 62 1156.5 68Z" fill="#4a4948"/>
<rect x="1160" y="67.5" width="9" height="2.4" fill="#5e4c48"/><rect x="1177" y="67.5" width="9" height="2.4" fill="#5e4c48"/>
<rect x="1164" y="86" width="13" height="1.6" fill="#7d625c"/>
</g>
<rect x="1067" y="115" width="106" height="21" fill="rgba(25,25,35,0.42)"/>
<text x="1069.4" y="128" font-family="Liberation Sans" font-size="11.2" font-weight="700" fill="#ffffff" textLength="100.9" lengthAdjust="spacingAndGlyphs">College Confidential</text>
</svg>

</body></html>
